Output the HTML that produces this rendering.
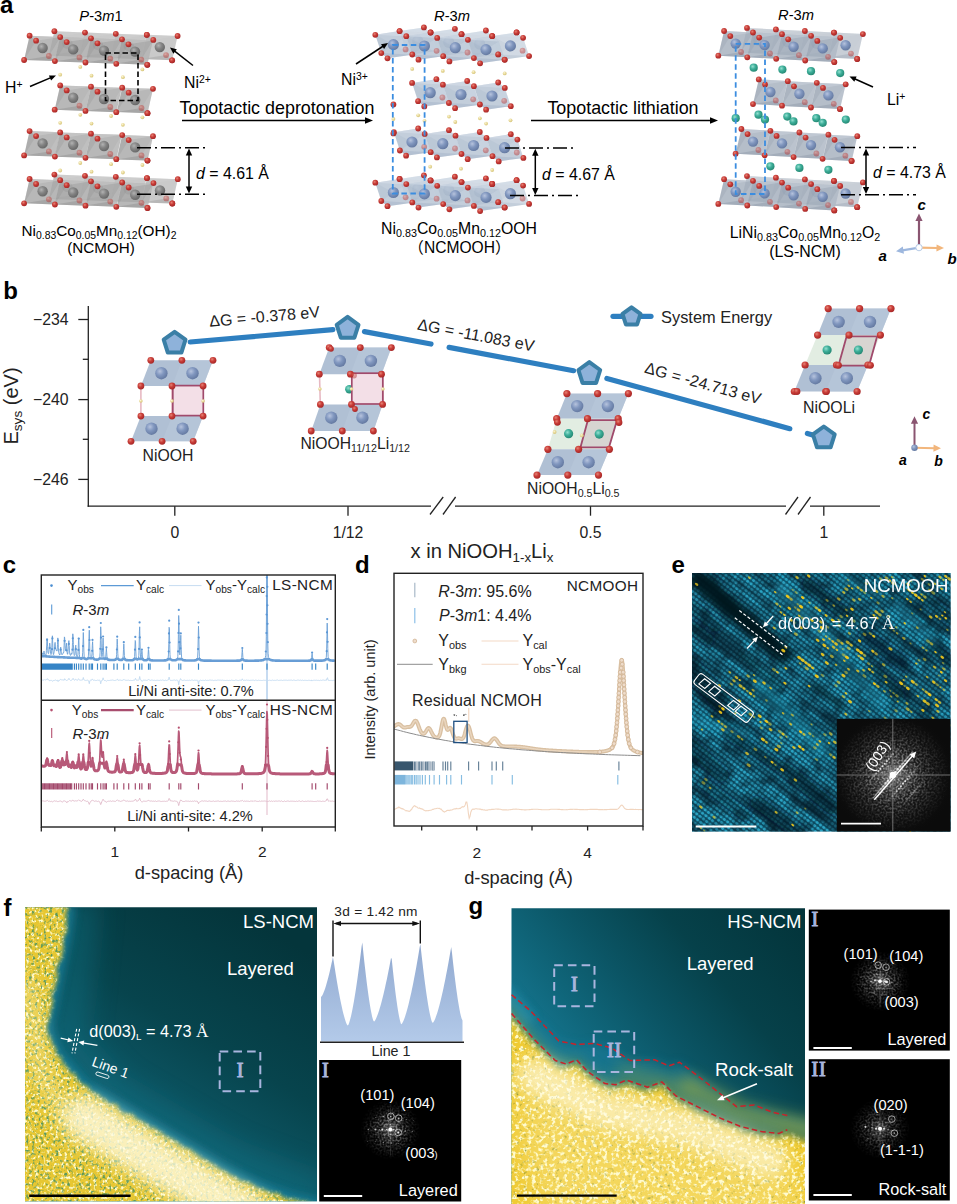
<!DOCTYPE html><html><head><meta charset="utf-8"><title>figure</title>
<style>html,body{margin:0;padding:0;background:#fff}svg{display:block}text{font-family:'Liberation Sans', sans-serif}</style></head><body>
<svg width="957" height="1204" viewBox="0 0 957 1204">
<rect width="957" height="1204" fill="#fff"/>
<defs>
<radialGradient id="gNi1" cx="38%" cy="35%" r="70%"><stop offset="0" stop-color="#b2b2b2"/><stop offset=".45" stop-color="#858585"/><stop offset="1" stop-color="#646464"/></radialGradient>
<radialGradient id="gNi2" cx="38%" cy="35%" r="70%"><stop offset="0" stop-color="#b6c3dd"/><stop offset=".45" stop-color="#8197bf"/><stop offset="1" stop-color="#61769e"/></radialGradient>
<radialGradient id="gO" cx="38%" cy="35%" r="70%"><stop offset="0" stop-color="#e58476"/><stop offset=".45" stop-color="#c93d38"/><stop offset="1" stop-color="#a32525"/></radialGradient>
<radialGradient id="gH" cx="38%" cy="35%" r="70%"><stop offset="0" stop-color="#fbf5d8"/><stop offset=".45" stop-color="#eadc9c"/><stop offset="1" stop-color="#d3c27a"/></radialGradient>
<radialGradient id="gLi" cx="38%" cy="35%" r="70%"><stop offset="0" stop-color="#93e0d0"/><stop offset=".45" stop-color="#3dae99"/><stop offset="1" stop-color="#22846f"/></radialGradient>
</defs>
<g id="panel-a">
<text x="0" y="13.2" font-size="24" font-weight="bold" >a</text>
<polygon points="54.4,31.2 85.2,32.4 79.7,56.7 48.9,55.5" fill="#a6a6a6" opacity="0.6"/>
<polygon points="54.4,31.2 85.2,32.4 60.9,36.2" fill="#d4d4d4" opacity="0.33"/>
<polygon points="48.9,55.5 79.7,56.7 73.7,51.5" fill="#7e7e7e" opacity="0.24"/>
<polygon points="54.4,31.2 48.9,55.5 60.9,36.2" fill="#7e7e7e" opacity="0.132"/>
<polygon points="85.2,32.4 79.7,56.7 73.7,51.5" fill="#d4d4d4" opacity="0.18"/>
<polygon points="85,32.6 115.8,33.8 110.3,58.1 79.5,56.9" fill="#a6a6a6" opacity="0.6"/>
<polygon points="85,32.6 115.8,33.8 91.5,37.6" fill="#d4d4d4" opacity="0.33"/>
<polygon points="79.5,56.9 110.3,58.1 104.3,52.9" fill="#7e7e7e" opacity="0.24"/>
<polygon points="85,32.6 79.5,56.9 91.5,37.6" fill="#7e7e7e" opacity="0.132"/>
<polygon points="115.8,33.8 110.3,58.1 104.3,52.9" fill="#d4d4d4" opacity="0.18"/>
<polygon points="115.8,33.8 146.6,35 141.1,59.3 110.3,58.1" fill="#a6a6a6" opacity="0.6"/>
<polygon points="115.8,33.8 146.6,35 122.3,38.9" fill="#d4d4d4" opacity="0.33"/>
<polygon points="110.3,58.1 141.1,59.3 135.1,54.1" fill="#7e7e7e" opacity="0.24"/>
<polygon points="115.8,33.8 110.3,58.1 122.3,38.9" fill="#7e7e7e" opacity="0.132"/>
<polygon points="146.6,35 141.1,59.3 135.1,54.1" fill="#d4d4d4" opacity="0.18"/>
<polygon points="146.8,34.8 177.6,36 172.1,60.3 141.3,59.1" fill="#a6a6a6" opacity="0.6"/>
<polygon points="146.8,34.8 177.6,36 153.3,39.9" fill="#d4d4d4" opacity="0.33"/>
<polygon points="141.3,59.1 172.1,60.3 166.1,55.1" fill="#7e7e7e" opacity="0.24"/>
<polygon points="146.8,34.8 141.3,59.1 153.3,39.9" fill="#7e7e7e" opacity="0.132"/>
<polygon points="177.6,36 172.1,60.3 166.1,55.1" fill="#d4d4d4" opacity="0.18"/>
<circle cx="67.4" cy="43.5" r="5.2" fill="url(#gNi1)" opacity=".5"/>
<circle cx="98" cy="44.9" r="5.2" fill="url(#gNi1)" opacity=".5"/>
<circle cx="128.8" cy="46.1" r="5.2" fill="url(#gNi1)" opacity=".5"/>
<polygon points="29.6,35.7 60.4,36.9 54.9,61.1 24.1,60" fill="#a6a6a6" opacity="0.8"/>
<polygon points="29.6,35.7 60.4,36.9 36.1,40.7" fill="#d4d4d4" opacity="0.44000000000000006"/>
<polygon points="24.1,60 54.9,61.1 48.9,56" fill="#7e7e7e" opacity="0.32000000000000006"/>
<polygon points="29.6,35.7 24.1,60 36.1,40.7" fill="#7e7e7e" opacity="0.17600000000000002"/>
<polygon points="60.4,36.9 54.9,61.1 48.9,56" fill="#d4d4d4" opacity="0.24"/>
<polygon points="60.2,37.1 91,38.2 85.5,62.5 54.7,61.4" fill="#a6a6a6" opacity="0.8"/>
<polygon points="60.2,37.1 91,38.2 66.7,42.1" fill="#d4d4d4" opacity="0.44000000000000006"/>
<polygon points="54.7,61.4 85.5,62.5 79.5,57.4" fill="#7e7e7e" opacity="0.32000000000000006"/>
<polygon points="60.2,37.1 54.7,61.4 66.7,42.1" fill="#7e7e7e" opacity="0.17600000000000002"/>
<polygon points="91,38.2 85.5,62.5 79.5,57.4" fill="#d4d4d4" opacity="0.24"/>
<polygon points="91,38.3 121.8,39.5 116.3,63.8 85.5,62.6" fill="#a6a6a6" opacity="0.8"/>
<polygon points="91,38.3 121.8,39.5 97.5,43.3" fill="#d4d4d4" opacity="0.44000000000000006"/>
<polygon points="85.5,62.6 116.3,63.8 110.3,58.6" fill="#7e7e7e" opacity="0.32000000000000006"/>
<polygon points="91,38.3 85.5,62.6 97.5,43.3" fill="#7e7e7e" opacity="0.17600000000000002"/>
<polygon points="121.8,39.5 116.3,63.8 110.3,58.6" fill="#d4d4d4" opacity="0.24"/>
<polygon points="122,39.3 152.8,40.5 147.3,64.8 116.5,63.6" fill="#a6a6a6" opacity="0.8"/>
<polygon points="122,39.3 152.8,40.5 128.5,44.3" fill="#d4d4d4" opacity="0.44000000000000006"/>
<polygon points="116.5,63.6 147.3,64.8 141.3,59.6" fill="#7e7e7e" opacity="0.32000000000000006"/>
<polygon points="122,39.3 116.5,63.6 128.5,44.3" fill="#7e7e7e" opacity="0.17600000000000002"/>
<polygon points="152.8,40.5 147.3,64.8 141.3,59.6" fill="#d4d4d4" opacity="0.24"/>
<circle cx="48.9" cy="56" r="2.9" fill="url(#gO)" opacity=".45"/>
<circle cx="79.5" cy="57.4" r="2.9" fill="url(#gO)" opacity=".45"/>
<circle cx="110.3" cy="58.6" r="2.9" fill="url(#gO)" opacity=".45"/>
<circle cx="141.3" cy="59.6" r="2.9" fill="url(#gO)" opacity=".45"/>
<circle cx="166.1" cy="55.1" r="2.9" fill="url(#gO)" opacity=".45"/>
<circle cx="42.6" cy="48" r="5.2" fill="url(#gNi1)" />
<circle cx="73.2" cy="49.4" r="5.2" fill="url(#gNi1)" />
<circle cx="104" cy="50.6" r="5.2" fill="url(#gNi1)" />
<circle cx="135" cy="51.6" r="5.2" fill="url(#gNi1)" />
<circle cx="159.8" cy="47.1" r="5.2" fill="url(#gNi1)" />
<circle cx="54.4" cy="31.2" r="2.9" fill="url(#gO)" />
<circle cx="85" cy="32.6" r="2.9" fill="url(#gO)" />
<circle cx="115.8" cy="33.8" r="2.9" fill="url(#gO)" />
<circle cx="146.8" cy="34.8" r="2.9" fill="url(#gO)" />
<circle cx="146.8" cy="34.8" r="2.9" fill="url(#gO)" />
<circle cx="153.3" cy="39.9" r="2.9" fill="url(#gO)" />
<circle cx="172.1" cy="60.3" r="2.9" fill="url(#gO)" />
<circle cx="177.6" cy="36" r="2.9" fill="url(#gO)" />
<circle cx="172.1" cy="60.3" r="2.9" fill="url(#gO)" />
<circle cx="29.6" cy="35.7" r="2.9" fill="url(#gO)" />
<circle cx="36.1" cy="40.7" r="2.9" fill="url(#gO)" />
<circle cx="54.9" cy="61.1" r="2.9" fill="url(#gO)" />
<circle cx="60.2" cy="37.1" r="2.9" fill="url(#gO)" />
<circle cx="66.7" cy="42.1" r="2.9" fill="url(#gO)" />
<circle cx="85.5" cy="62.5" r="2.9" fill="url(#gO)" />
<circle cx="91" cy="38.3" r="2.9" fill="url(#gO)" />
<circle cx="97.5" cy="43.3" r="2.9" fill="url(#gO)" />
<circle cx="116.3" cy="63.8" r="2.9" fill="url(#gO)" />
<circle cx="122" cy="39.3" r="2.9" fill="url(#gO)" />
<circle cx="128.5" cy="44.3" r="2.9" fill="url(#gO)" />
<circle cx="147.3" cy="64.8" r="2.9" fill="url(#gO)" />
<circle cx="24.1" cy="60" r="2.9" fill="url(#gO)" />
<circle cx="147.3" cy="64.8" r="2.9" fill="url(#gO)" />
<polygon points="60.2,85.4 91,86.5 85.5,110.9 54.7,109.7" fill="#a6a6a6" opacity="0.8"/>
<polygon points="60.2,85.4 91,86.5 66.7,90.4" fill="#d4d4d4" opacity="0.44000000000000006"/>
<polygon points="54.7,109.7 85.5,110.9 79.5,105.7" fill="#7e7e7e" opacity="0.32000000000000006"/>
<polygon points="60.2,85.4 54.7,109.7 66.7,90.4" fill="#7e7e7e" opacity="0.17600000000000002"/>
<polygon points="91,86.5 85.5,110.9 79.5,105.7" fill="#d4d4d4" opacity="0.24"/>
<polygon points="91,86.7 121.8,87.8 116.3,112.2 85.5,111" fill="#a6a6a6" opacity="0.8"/>
<polygon points="91,86.7 121.8,87.8 97.5,91.7" fill="#d4d4d4" opacity="0.44000000000000006"/>
<polygon points="85.5,111 116.3,112.2 110.3,107" fill="#7e7e7e" opacity="0.32000000000000006"/>
<polygon points="91,86.7 85.5,111 97.5,91.7" fill="#7e7e7e" opacity="0.17600000000000002"/>
<polygon points="121.8,87.8 116.3,112.2 110.3,107" fill="#d4d4d4" opacity="0.24"/>
<polygon points="122.2,87.7 153,88.8 147.5,113.2 116.7,112" fill="#a6a6a6" opacity="0.8"/>
<polygon points="122.2,87.7 153,88.8 128.7,92.7" fill="#d4d4d4" opacity="0.44000000000000006"/>
<polygon points="116.7,112 147.5,113.2 141.5,108" fill="#7e7e7e" opacity="0.32000000000000006"/>
<polygon points="122.2,87.7 116.7,112 128.7,92.7" fill="#7e7e7e" opacity="0.17600000000000002"/>
<polygon points="153,88.8 147.5,113.2 141.5,108" fill="#d4d4d4" opacity="0.24"/>
<circle cx="79.5" cy="105.7" r="2.9" fill="url(#gO)" opacity=".45"/>
<circle cx="110.3" cy="107" r="2.9" fill="url(#gO)" opacity=".45"/>
<circle cx="141.5" cy="108" r="2.9" fill="url(#gO)" opacity=".45"/>
<circle cx="73.2" cy="97.7" r="5.2" fill="url(#gNi1)" />
<circle cx="104" cy="99" r="5.2" fill="url(#gNi1)" />
<circle cx="135.2" cy="100" r="5.2" fill="url(#gNi1)" />
<circle cx="60.2" cy="85.4" r="2.9" fill="url(#gO)" />
<circle cx="66.7" cy="90.4" r="2.9" fill="url(#gO)" />
<circle cx="85.5" cy="110.9" r="2.9" fill="url(#gO)" />
<circle cx="91" cy="86.7" r="2.9" fill="url(#gO)" />
<circle cx="97.5" cy="91.7" r="2.9" fill="url(#gO)" />
<circle cx="116.3" cy="112.2" r="2.9" fill="url(#gO)" />
<circle cx="122.2" cy="87.7" r="2.9" fill="url(#gO)" />
<circle cx="128.7" cy="92.7" r="2.9" fill="url(#gO)" />
<circle cx="147.5" cy="113.2" r="2.9" fill="url(#gO)" />
<circle cx="54.7" cy="109.7" r="2.9" fill="url(#gO)" />
<circle cx="153" cy="88.8" r="2.9" fill="url(#gO)" />
<circle cx="147.5" cy="113.2" r="2.9" fill="url(#gO)" />
<polygon points="29.6,131.1 60.4,132.2 54.9,156.6 24.1,155.4" fill="#a6a6a6" opacity="0.8"/>
<polygon points="29.6,131.1 60.4,132.2 36.1,136.1" fill="#d4d4d4" opacity="0.44000000000000006"/>
<polygon points="24.1,155.4 54.9,156.6 48.9,151.4" fill="#7e7e7e" opacity="0.32000000000000006"/>
<polygon points="29.6,131.1 24.1,155.4 36.1,136.1" fill="#7e7e7e" opacity="0.17600000000000002"/>
<polygon points="60.4,132.2 54.9,156.6 48.9,151.4" fill="#d4d4d4" opacity="0.24"/>
<polygon points="60.2,132.4 91,133.5 85.5,157.8 54.7,156.7" fill="#a6a6a6" opacity="0.8"/>
<polygon points="60.2,132.4 91,133.5 66.7,137.4" fill="#d4d4d4" opacity="0.44000000000000006"/>
<polygon points="54.7,156.7 85.5,157.8 79.5,152.7" fill="#7e7e7e" opacity="0.32000000000000006"/>
<polygon points="60.2,132.4 54.7,156.7 66.7,137.4" fill="#7e7e7e" opacity="0.17600000000000002"/>
<polygon points="91,133.5 85.5,157.8 79.5,152.7" fill="#d4d4d4" opacity="0.24"/>
<polygon points="91,133.7 121.8,134.8 116.3,159.2 85.5,158" fill="#a6a6a6" opacity="0.8"/>
<polygon points="91,133.7 121.8,134.8 97.5,138.7" fill="#d4d4d4" opacity="0.44000000000000006"/>
<polygon points="85.5,158 116.3,159.2 110.3,154" fill="#7e7e7e" opacity="0.32000000000000006"/>
<polygon points="91,133.7 85.5,158 97.5,138.7" fill="#7e7e7e" opacity="0.17600000000000002"/>
<polygon points="121.8,134.8 116.3,159.2 110.3,154" fill="#d4d4d4" opacity="0.24"/>
<polygon points="122.2,135.1 153,136.2 147.5,160.6 116.7,159.4" fill="#a6a6a6" opacity="0.8"/>
<polygon points="122.2,135.1 153,136.2 128.7,140.1" fill="#d4d4d4" opacity="0.44000000000000006"/>
<polygon points="116.7,159.4 147.5,160.6 141.5,155.4" fill="#7e7e7e" opacity="0.32000000000000006"/>
<polygon points="122.2,135.1 116.7,159.4 128.7,140.1" fill="#7e7e7e" opacity="0.17600000000000002"/>
<polygon points="153,136.2 147.5,160.6 141.5,155.4" fill="#d4d4d4" opacity="0.24"/>
<circle cx="48.9" cy="151.4" r="2.9" fill="url(#gO)" opacity=".45"/>
<circle cx="79.5" cy="152.7" r="2.9" fill="url(#gO)" opacity=".45"/>
<circle cx="110.3" cy="154" r="2.9" fill="url(#gO)" opacity=".45"/>
<circle cx="141.5" cy="155.4" r="2.9" fill="url(#gO)" opacity=".45"/>
<circle cx="42.6" cy="143.4" r="5.2" fill="url(#gNi1)" />
<circle cx="73.2" cy="144.7" r="5.2" fill="url(#gNi1)" />
<circle cx="104" cy="146" r="5.2" fill="url(#gNi1)" />
<circle cx="135.2" cy="147.4" r="5.2" fill="url(#gNi1)" />
<circle cx="29.6" cy="131.1" r="2.9" fill="url(#gO)" />
<circle cx="36.1" cy="136.1" r="2.9" fill="url(#gO)" />
<circle cx="54.9" cy="156.6" r="2.9" fill="url(#gO)" />
<circle cx="60.2" cy="132.4" r="2.9" fill="url(#gO)" />
<circle cx="66.7" cy="137.4" r="2.9" fill="url(#gO)" />
<circle cx="85.5" cy="157.8" r="2.9" fill="url(#gO)" />
<circle cx="91" cy="133.7" r="2.9" fill="url(#gO)" />
<circle cx="97.5" cy="138.7" r="2.9" fill="url(#gO)" />
<circle cx="116.3" cy="159.2" r="2.9" fill="url(#gO)" />
<circle cx="122.2" cy="135.1" r="2.9" fill="url(#gO)" />
<circle cx="128.7" cy="140.1" r="2.9" fill="url(#gO)" />
<circle cx="147.5" cy="160.6" r="2.9" fill="url(#gO)" />
<circle cx="24.1" cy="155.4" r="2.9" fill="url(#gO)" />
<circle cx="153" cy="136.2" r="2.9" fill="url(#gO)" />
<circle cx="147.5" cy="160.6" r="2.9" fill="url(#gO)" />
<polygon points="54.4,174.6 85.2,175.7 79.7,200 48.9,198.9" fill="#a6a6a6" opacity="0.6"/>
<polygon points="54.4,174.6 85.2,175.7 60.9,179.6" fill="#d4d4d4" opacity="0.33"/>
<polygon points="48.9,198.9 79.7,200 73.7,194.9" fill="#7e7e7e" opacity="0.24"/>
<polygon points="54.4,174.6 48.9,198.9 60.9,179.6" fill="#7e7e7e" opacity="0.132"/>
<polygon points="85.2,175.7 79.7,200 73.7,194.9" fill="#d4d4d4" opacity="0.18"/>
<polygon points="85,175.8 115.8,176.9 110.3,201.2 79.5,200.1" fill="#a6a6a6" opacity="0.6"/>
<polygon points="85,175.8 115.8,176.9 91.5,180.8" fill="#d4d4d4" opacity="0.33"/>
<polygon points="79.5,200.1 110.3,201.2 104.3,196.1" fill="#7e7e7e" opacity="0.24"/>
<polygon points="85,175.8 79.5,200.1 91.5,180.8" fill="#7e7e7e" opacity="0.132"/>
<polygon points="115.8,176.9 110.3,201.2 104.3,196.1" fill="#d4d4d4" opacity="0.18"/>
<polygon points="115.8,176.8 146.6,178 141.1,202.3 110.3,201.2" fill="#a6a6a6" opacity="0.6"/>
<polygon points="115.8,176.8 146.6,178 122.3,181.8" fill="#d4d4d4" opacity="0.33"/>
<polygon points="110.3,201.2 141.1,202.3 135.1,197.2" fill="#7e7e7e" opacity="0.24"/>
<polygon points="115.8,176.8 110.3,201.2 122.3,181.8" fill="#7e7e7e" opacity="0.132"/>
<polygon points="146.6,178 141.1,202.3 135.1,197.2" fill="#d4d4d4" opacity="0.18"/>
<polygon points="147,178.1 177.8,179.2 172.3,203.5 141.5,202.4" fill="#a6a6a6" opacity="0.6"/>
<polygon points="147,178.1 177.8,179.2 153.5,183.1" fill="#d4d4d4" opacity="0.33"/>
<polygon points="141.5,202.4 172.3,203.5 166.3,198.4" fill="#7e7e7e" opacity="0.24"/>
<polygon points="147,178.1 141.5,202.4 153.5,183.1" fill="#7e7e7e" opacity="0.132"/>
<polygon points="177.8,179.2 172.3,203.5 166.3,198.4" fill="#d4d4d4" opacity="0.18"/>
<circle cx="67.4" cy="186.9" r="5.2" fill="url(#gNi1)" opacity=".5"/>
<circle cx="98" cy="188.1" r="5.2" fill="url(#gNi1)" opacity=".5"/>
<circle cx="128.8" cy="189.2" r="5.2" fill="url(#gNi1)" opacity=".5"/>
<polygon points="29.6,179 60.4,180.2 54.9,204.5 24.1,203.3" fill="#a6a6a6" opacity="0.8"/>
<polygon points="29.6,179 60.4,180.2 36.1,184" fill="#d4d4d4" opacity="0.44000000000000006"/>
<polygon points="24.1,203.3 54.9,204.5 48.9,199.3" fill="#7e7e7e" opacity="0.32000000000000006"/>
<polygon points="29.6,179 24.1,203.3 36.1,184" fill="#7e7e7e" opacity="0.17600000000000002"/>
<polygon points="60.4,180.2 54.9,204.5 48.9,199.3" fill="#d4d4d4" opacity="0.24"/>
<polygon points="60.2,180.2 91,181.3 85.5,205.7 54.7,204.5" fill="#a6a6a6" opacity="0.8"/>
<polygon points="60.2,180.2 91,181.3 66.7,185.2" fill="#d4d4d4" opacity="0.44000000000000006"/>
<polygon points="54.7,204.5 85.5,205.7 79.5,200.5" fill="#7e7e7e" opacity="0.32000000000000006"/>
<polygon points="60.2,180.2 54.7,204.5 66.7,185.2" fill="#7e7e7e" opacity="0.17600000000000002"/>
<polygon points="91,181.3 85.5,205.7 79.5,200.5" fill="#d4d4d4" opacity="0.24"/>
<polygon points="91,181.3 121.8,182.4 116.3,206.8 85.5,205.6" fill="#a6a6a6" opacity="0.8"/>
<polygon points="91,181.3 121.8,182.4 97.5,186.3" fill="#d4d4d4" opacity="0.44000000000000006"/>
<polygon points="85.5,205.6 116.3,206.8 110.3,201.6" fill="#7e7e7e" opacity="0.32000000000000006"/>
<polygon points="91,181.3 85.5,205.6 97.5,186.3" fill="#7e7e7e" opacity="0.17600000000000002"/>
<polygon points="121.8,182.4 116.3,206.8 110.3,201.6" fill="#d4d4d4" opacity="0.24"/>
<polygon points="122.2,182.5 153,183.7 147.5,208 116.7,206.8" fill="#a6a6a6" opacity="0.8"/>
<polygon points="122.2,182.5 153,183.7 128.7,187.5" fill="#d4d4d4" opacity="0.44000000000000006"/>
<polygon points="116.7,206.8 147.5,208 141.5,202.8" fill="#7e7e7e" opacity="0.32000000000000006"/>
<polygon points="122.2,182.5 116.7,206.8 128.7,187.5" fill="#7e7e7e" opacity="0.17600000000000002"/>
<polygon points="153,183.7 147.5,208 141.5,202.8" fill="#d4d4d4" opacity="0.24"/>
<circle cx="48.9" cy="199.3" r="2.9" fill="url(#gO)" opacity=".45"/>
<circle cx="79.5" cy="200.5" r="2.9" fill="url(#gO)" opacity=".45"/>
<circle cx="110.3" cy="201.6" r="2.9" fill="url(#gO)" opacity=".45"/>
<circle cx="141.5" cy="202.8" r="2.9" fill="url(#gO)" opacity=".45"/>
<circle cx="166.3" cy="198.4" r="2.9" fill="url(#gO)" opacity=".45"/>
<circle cx="42.6" cy="191.3" r="5.2" fill="url(#gNi1)" />
<circle cx="73.2" cy="192.5" r="5.2" fill="url(#gNi1)" />
<circle cx="104" cy="193.6" r="5.2" fill="url(#gNi1)" />
<circle cx="135.2" cy="194.8" r="5.2" fill="url(#gNi1)" />
<circle cx="160" cy="190.4" r="5.2" fill="url(#gNi1)" />
<circle cx="54.4" cy="174.6" r="2.9" fill="url(#gO)" />
<circle cx="85" cy="175.8" r="2.9" fill="url(#gO)" />
<circle cx="115.8" cy="176.8" r="2.9" fill="url(#gO)" />
<circle cx="147" cy="178.1" r="2.9" fill="url(#gO)" />
<circle cx="147" cy="178.1" r="2.9" fill="url(#gO)" />
<circle cx="153.5" cy="183.1" r="2.9" fill="url(#gO)" />
<circle cx="172.3" cy="203.5" r="2.9" fill="url(#gO)" />
<circle cx="177.8" cy="179.2" r="2.9" fill="url(#gO)" />
<circle cx="172.3" cy="203.5" r="2.9" fill="url(#gO)" />
<circle cx="29.6" cy="179" r="2.9" fill="url(#gO)" />
<circle cx="36.1" cy="184" r="2.9" fill="url(#gO)" />
<circle cx="54.9" cy="204.5" r="2.9" fill="url(#gO)" />
<circle cx="60.2" cy="180.2" r="2.9" fill="url(#gO)" />
<circle cx="66.7" cy="185.2" r="2.9" fill="url(#gO)" />
<circle cx="85.5" cy="205.7" r="2.9" fill="url(#gO)" />
<circle cx="91" cy="181.3" r="2.9" fill="url(#gO)" />
<circle cx="97.5" cy="186.3" r="2.9" fill="url(#gO)" />
<circle cx="116.3" cy="206.8" r="2.9" fill="url(#gO)" />
<circle cx="122.2" cy="182.5" r="2.9" fill="url(#gO)" />
<circle cx="128.7" cy="187.5" r="2.9" fill="url(#gO)" />
<circle cx="147.5" cy="208" r="2.9" fill="url(#gO)" />
<circle cx="24.1" cy="203.3" r="2.9" fill="url(#gO)" />
<circle cx="147.5" cy="208" r="2.9" fill="url(#gO)" />
<circle cx="80.3" cy="66.9" r="1.9" fill="url(#gH)" />
<circle cx="142.4" cy="69.4" r="1.9" fill="url(#gH)" />
<circle cx="60.2" cy="74.7" r="1.9" fill="url(#gH)" />
<circle cx="91.5" cy="75.7" r="1.9" fill="url(#gH)" />
<circle cx="122.9" cy="77.2" r="1.9" fill="url(#gH)" />
<circle cx="80.3" cy="114.8" r="1.9" fill="url(#gH)" />
<circle cx="111.1" cy="116" r="1.9" fill="url(#gH)" />
<circle cx="142.4" cy="117.3" r="1.9" fill="url(#gH)" />
<circle cx="60.2" cy="122.8" r="1.9" fill="url(#gH)" />
<circle cx="91.5" cy="123.6" r="1.9" fill="url(#gH)" />
<circle cx="122.9" cy="124.8" r="1.9" fill="url(#gH)" />
<circle cx="80.3" cy="163" r="1.9" fill="url(#gH)" />
<circle cx="111.1" cy="164.2" r="1.9" fill="url(#gH)" />
<circle cx="142.4" cy="165" r="1.9" fill="url(#gH)" />
<circle cx="60.2" cy="170.5" r="1.9" fill="url(#gH)" />
<circle cx="91.5" cy="171.7" r="1.9" fill="url(#gH)" />
<circle cx="122.9" cy="172.5" r="1.9" fill="url(#gH)" />
<rect x="105.5" y="53" width="32.5" height="47.5" fill="none" stroke="#000" stroke-width="1.6" stroke-dasharray="5.5 3"/>
<text x="101" y="20.8" font-size="14.7" text-anchor="middle" ><tspan font-style="italic">P</tspan>-3<tspan font-style="italic">m</tspan>1</text>
<text x="5" y="93" font-size="15.8" >H<tspan baseline-shift="5.5" font-size="66%">+</tspan></text>
<line x1="30" y1="86.5" x2="50.9" y2="77.6" stroke="#000" stroke-width="1.5" />
<polygon points="56,75.5 51.1,80.6 48.9,75.5" fill="#000" />
<text x="184" y="87.5" font-size="15.8" >Ni<tspan baseline-shift="5.5" font-size="66%">2+</tspan></text>
<line x1="193" y1="65.5" x2="174.3" y2="50.9" stroke="#000" stroke-width="1.5" />
<polygon points="170,47.5 176.8,49.3 173.4,53.7" fill="#000" />
<line x1="137" y1="147.7" x2="208" y2="147.7" stroke="#000" stroke-width="1.5" stroke-dasharray="14 4 2 4"/>
<line x1="137" y1="194.2" x2="208" y2="194.2" stroke="#000" stroke-width="1.5" stroke-dasharray="14 4 2 4"/>
<line x1="189" y1="153.5" x2="189" y2="188.5" stroke="#000" stroke-width="1.5" />
<polygon points="189,148.5 185.8,155.5 192.2,155.5" fill="#000" />
<polygon points="189,193.5 185.8,186.5 192.2,186.5" fill="#000" />
<text x="196" y="179" font-size="15.9" ><tspan font-style="italic">d</tspan> = 4.61 Å</text>
<text x="99" y="236" font-size="15.3" text-anchor="middle" >Ni<tspan baseline-shift="-3" font-size="68%">0.83</tspan>Co<tspan baseline-shift="-3" font-size="68%">0.05</tspan>Mn<tspan baseline-shift="-3" font-size="68%">0.12</tspan>(OH)<tspan baseline-shift="-3" font-size="68%">2</tspan></text>
<text x="101" y="253" font-size="15.2" text-anchor="middle" >(NCMOH)</text>
<text x="277" y="114" font-size="17.9" text-anchor="middle" >Topotactic deprotonation</text>
<line x1="182" y1="120.5" x2="366" y2="120.5" stroke="#000" stroke-width="1.6" />
<polygon points="373,120.5 365,123.7 365,117.3" fill="#000" />
<polygon points="399.6,31.1 423.9,27.4 430.5,32.8 436.5,51.1 411.9,54.6 405.6,49.4" fill="#b4c2d2" opacity="0.6"/>
<polygon points="399.6,31.1 423.9,27.4 430.5,32.8" fill="#d9e2ec" opacity="0.36"/>
<polygon points="405.6,49.4 411.9,54.6 436.5,51.1" fill="#8fa2ba" opacity="0.21"/>
<polygon points="399.6,31.1 405.6,49.4 417.8,40.9" fill="#8fa2ba" opacity="0.108"/>
<polygon points="430.5,32.8 436.5,51.1 417.8,40.9" fill="#d9e2ec" opacity="0.21"/>
<polygon points="430.6,32.5 454.9,28.8 461.5,34.2 467.5,52.5 442.9,56 436.6,50.8" fill="#b4c2d2" opacity="0.6"/>
<polygon points="430.6,32.5 454.9,28.8 461.5,34.2" fill="#d9e2ec" opacity="0.36"/>
<polygon points="436.6,50.8 442.9,56 467.5,52.5" fill="#8fa2ba" opacity="0.21"/>
<polygon points="430.6,32.5 436.6,50.8 448.8,42.3" fill="#8fa2ba" opacity="0.108"/>
<polygon points="461.5,34.2 467.5,52.5 448.8,42.3" fill="#d9e2ec" opacity="0.21"/>
<polygon points="461.6,34.2 485.9,30.5 492.4,35.9 498.4,54.2 473.8,57.7 467.6,52.5" fill="#b4c2d2" opacity="0.6"/>
<polygon points="461.6,34.2 485.9,30.5 492.4,35.9" fill="#d9e2ec" opacity="0.36"/>
<polygon points="467.6,52.5 473.8,57.7 498.4,54.2" fill="#8fa2ba" opacity="0.21"/>
<polygon points="461.6,34.2 467.6,52.5 479.7,44" fill="#8fa2ba" opacity="0.108"/>
<polygon points="492.4,35.9 498.4,54.2 479.7,44" fill="#d9e2ec" opacity="0.21"/>
<polygon points="492.2,36.1 516.6,32.4 523.1,37.8 529.1,56.1 504.5,59.6 498.2,54.4" fill="#b4c2d2" opacity="0.6"/>
<polygon points="492.2,36.1 516.6,32.4 523.1,37.8" fill="#d9e2ec" opacity="0.36"/>
<polygon points="498.2,54.4 504.5,59.6 529.1,56.1" fill="#8fa2ba" opacity="0.21"/>
<polygon points="492.2,36.1 498.2,54.4 510.4,45.9" fill="#8fa2ba" opacity="0.108"/>
<polygon points="523.1,37.8 529.1,56.1 510.4,45.9" fill="#d9e2ec" opacity="0.21"/>
<circle cx="417.8" cy="40.9" r="5.6" fill="url(#gNi2)" opacity=".5"/>
<circle cx="448.8" cy="42.3" r="5.6" fill="url(#gNi2)" opacity=".5"/>
<circle cx="479.7" cy="44" r="5.6" fill="url(#gNi2)" opacity=".5"/>
<polygon points="375.3,34.8 399.6,31.1 406.1,36.5 412.1,54.8 387.5,58.3 381.3,53.1" fill="#b4c2d2" opacity="0.8"/>
<polygon points="375.3,34.8 399.6,31.1 406.1,36.5" fill="#d9e2ec" opacity="0.48"/>
<polygon points="381.3,53.1 387.5,58.3 412.1,54.8" fill="#8fa2ba" opacity="0.27999999999999997"/>
<polygon points="375.3,34.8 381.3,53.1 393.4,44.6" fill="#8fa2ba" opacity="0.144"/>
<polygon points="406.1,36.5 412.1,54.8 393.4,44.6" fill="#d9e2ec" opacity="0.27999999999999997"/>
<polygon points="406.3,36.2 430.6,32.5 437.1,37.9 443.1,56.2 418.5,59.7 412.3,54.5" fill="#b4c2d2" opacity="0.8"/>
<polygon points="406.3,36.2 430.6,32.5 437.1,37.9" fill="#d9e2ec" opacity="0.48"/>
<polygon points="412.3,54.5 418.5,59.7 443.1,56.2" fill="#8fa2ba" opacity="0.27999999999999997"/>
<polygon points="406.3,36.2 412.3,54.5 424.4,46" fill="#8fa2ba" opacity="0.144"/>
<polygon points="437.1,37.9 443.1,56.2 424.4,46" fill="#d9e2ec" opacity="0.27999999999999997"/>
<polygon points="437.2,37.9 461.5,34.2 468.1,39.6 474.1,57.9 449.4,61.4 443.2,56.2" fill="#b4c2d2" opacity="0.8"/>
<polygon points="437.2,37.9 461.5,34.2 468.1,39.6" fill="#d9e2ec" opacity="0.48"/>
<polygon points="443.2,56.2 449.4,61.4 474.1,57.9" fill="#8fa2ba" opacity="0.27999999999999997"/>
<polygon points="437.2,37.9 443.2,56.2 455.3,47.7" fill="#8fa2ba" opacity="0.144"/>
<polygon points="468.1,39.6 474.1,57.9 455.3,47.7" fill="#d9e2ec" opacity="0.27999999999999997"/>
<polygon points="467.9,39.8 492.2,36.1 498.8,41.5 504.8,59.8 480.1,63.3 473.9,58.1" fill="#b4c2d2" opacity="0.8"/>
<polygon points="467.9,39.8 492.2,36.1 498.8,41.5" fill="#d9e2ec" opacity="0.48"/>
<polygon points="473.9,58.1 480.1,63.3 504.8,59.8" fill="#8fa2ba" opacity="0.27999999999999997"/>
<polygon points="467.9,39.8 473.9,58.1 486,49.6" fill="#8fa2ba" opacity="0.144"/>
<polygon points="498.8,41.5 504.8,59.8 486,49.6" fill="#d9e2ec" opacity="0.27999999999999997"/>
<circle cx="405.6" cy="49.4" r="2.9" fill="url(#gO)" opacity=".45"/>
<circle cx="436.6" cy="50.8" r="2.9" fill="url(#gO)" opacity=".45"/>
<circle cx="467.5" cy="52.5" r="2.9" fill="url(#gO)" opacity=".45"/>
<circle cx="498.2" cy="54.4" r="2.9" fill="url(#gO)" opacity=".45"/>
<circle cx="522.6" cy="50.7" r="2.9" fill="url(#gO)" opacity=".45"/>
<circle cx="393.4" cy="44.6" r="5.6" fill="url(#gNi2)" />
<circle cx="424.4" cy="46" r="5.6" fill="url(#gNi2)" />
<circle cx="455.3" cy="47.7" r="5.6" fill="url(#gNi2)" />
<circle cx="486" cy="49.6" r="5.6" fill="url(#gNi2)" />
<circle cx="510.4" cy="45.9" r="5.6" fill="url(#gNi2)" />
<circle cx="399.6" cy="31.1" r="2.9" fill="url(#gO)" />
<circle cx="423.9" cy="27.4" r="2.9" fill="url(#gO)" />
<circle cx="430.6" cy="32.5" r="2.9" fill="url(#gO)" />
<circle cx="454.9" cy="28.8" r="2.9" fill="url(#gO)" />
<circle cx="461.6" cy="34.2" r="2.9" fill="url(#gO)" />
<circle cx="485.9" cy="30.5" r="2.9" fill="url(#gO)" />
<circle cx="492.2" cy="36.1" r="2.9" fill="url(#gO)" />
<circle cx="516.6" cy="32.4" r="2.9" fill="url(#gO)" />
<circle cx="492.2" cy="36.1" r="2.9" fill="url(#gO)" />
<circle cx="516.6" cy="32.4" r="2.9" fill="url(#gO)" />
<circle cx="504.5" cy="59.6" r="2.9" fill="url(#gO)" />
<circle cx="498.2" cy="54.4" r="2.9" fill="url(#gO)" />
<circle cx="523.1" cy="37.8" r="2.9" fill="url(#gO)" />
<circle cx="529.1" cy="56.1" r="2.9" fill="url(#gO)" />
<circle cx="375.3" cy="34.8" r="2.9" fill="url(#gO)" />
<circle cx="399.6" cy="31.1" r="2.9" fill="url(#gO)" />
<circle cx="387.5" cy="58.3" r="2.9" fill="url(#gO)" />
<circle cx="381.3" cy="53.1" r="2.9" fill="url(#gO)" />
<circle cx="406.3" cy="36.2" r="2.9" fill="url(#gO)" />
<circle cx="430.6" cy="32.5" r="2.9" fill="url(#gO)" />
<circle cx="418.5" cy="59.7" r="2.9" fill="url(#gO)" />
<circle cx="412.3" cy="54.5" r="2.9" fill="url(#gO)" />
<circle cx="437.2" cy="37.9" r="2.9" fill="url(#gO)" />
<circle cx="461.5" cy="34.2" r="2.9" fill="url(#gO)" />
<circle cx="449.4" cy="61.4" r="2.9" fill="url(#gO)" />
<circle cx="443.2" cy="56.2" r="2.9" fill="url(#gO)" />
<circle cx="467.9" cy="39.8" r="2.9" fill="url(#gO)" />
<circle cx="492.2" cy="36.1" r="2.9" fill="url(#gO)" />
<circle cx="480.1" cy="63.3" r="2.9" fill="url(#gO)" />
<circle cx="473.9" cy="58.1" r="2.9" fill="url(#gO)" />
<circle cx="504.8" cy="59.8" r="2.9" fill="url(#gO)" />
<polygon points="412.1,82.9 436.4,79.2 442.9,84.6 448.9,102.9 424.3,106.4 418.1,101.2" fill="#b4c2d2" opacity="0.8"/>
<polygon points="412.1,82.9 436.4,79.2 442.9,84.6" fill="#d9e2ec" opacity="0.48"/>
<polygon points="418.1,101.2 424.3,106.4 448.9,102.9" fill="#8fa2ba" opacity="0.27999999999999997"/>
<polygon points="412.1,82.9 418.1,101.2 430.2,92.7" fill="#8fa2ba" opacity="0.144"/>
<polygon points="442.9,84.6 448.9,102.9 430.2,92.7" fill="#d9e2ec" opacity="0.27999999999999997"/>
<polygon points="442.9,84.7 467.2,81 473.8,86.4 479.8,104.7 455.1,108.2 448.9,103" fill="#b4c2d2" opacity="0.8"/>
<polygon points="442.9,84.7 467.2,81 473.8,86.4" fill="#d9e2ec" opacity="0.48"/>
<polygon points="448.9,103 455.1,108.2 479.8,104.7" fill="#8fa2ba" opacity="0.27999999999999997"/>
<polygon points="442.9,84.7 448.9,103 461,94.5" fill="#8fa2ba" opacity="0.144"/>
<polygon points="473.8,86.4 479.8,104.7 461,94.5" fill="#d9e2ec" opacity="0.27999999999999997"/>
<polygon points="473.9,86.2 498.2,82.5 504.8,87.9 510.8,106.2 486.1,109.7 479.9,104.5" fill="#b4c2d2" opacity="0.8"/>
<polygon points="473.9,86.2 498.2,82.5 504.8,87.9" fill="#d9e2ec" opacity="0.48"/>
<polygon points="479.9,104.5 486.1,109.7 510.8,106.2" fill="#8fa2ba" opacity="0.27999999999999997"/>
<polygon points="473.9,86.2 479.9,104.5 492,96" fill="#8fa2ba" opacity="0.144"/>
<polygon points="504.8,87.9 510.8,106.2 492,96" fill="#d9e2ec" opacity="0.27999999999999997"/>
<circle cx="442.4" cy="97.5" r="2.9" fill="url(#gO)" opacity=".45"/>
<circle cx="473.2" cy="99.3" r="2.9" fill="url(#gO)" opacity=".45"/>
<circle cx="504.2" cy="100.8" r="2.9" fill="url(#gO)" opacity=".45"/>
<circle cx="430.2" cy="92.7" r="5.6" fill="url(#gNi2)" />
<circle cx="461" cy="94.5" r="5.6" fill="url(#gNi2)" />
<circle cx="492" cy="96" r="5.6" fill="url(#gNi2)" />
<circle cx="412.1" cy="82.9" r="2.9" fill="url(#gO)" />
<circle cx="436.4" cy="79.2" r="2.9" fill="url(#gO)" />
<circle cx="424.3" cy="106.4" r="2.9" fill="url(#gO)" />
<circle cx="418.1" cy="101.2" r="2.9" fill="url(#gO)" />
<circle cx="442.9" cy="84.7" r="2.9" fill="url(#gO)" />
<circle cx="467.2" cy="81" r="2.9" fill="url(#gO)" />
<circle cx="455.1" cy="108.2" r="2.9" fill="url(#gO)" />
<circle cx="448.9" cy="103" r="2.9" fill="url(#gO)" />
<circle cx="473.9" cy="86.2" r="2.9" fill="url(#gO)" />
<circle cx="498.2" cy="82.5" r="2.9" fill="url(#gO)" />
<circle cx="486.1" cy="109.7" r="2.9" fill="url(#gO)" />
<circle cx="479.9" cy="104.5" r="2.9" fill="url(#gO)" />
<circle cx="504.8" cy="87.9" r="2.9" fill="url(#gO)" />
<circle cx="510.8" cy="106.2" r="2.9" fill="url(#gO)" />
<polygon points="393.9,132.2 418.2,128.5 424.8,133.9 430.8,152.2 406.1,155.7 399.9,150.5" fill="#b4c2d2" opacity="0.8"/>
<polygon points="393.9,132.2 418.2,128.5 424.8,133.9" fill="#d9e2ec" opacity="0.48"/>
<polygon points="399.9,150.5 406.1,155.7 430.8,152.2" fill="#8fa2ba" opacity="0.27999999999999997"/>
<polygon points="393.9,132.2 399.9,150.5 412,142" fill="#8fa2ba" opacity="0.144"/>
<polygon points="424.8,133.9 430.8,152.2 412,142" fill="#d9e2ec" opacity="0.27999999999999997"/>
<polygon points="424.7,133.9 449,130.2 455.6,135.6 461.6,153.9 436.9,157.4 430.7,152.2" fill="#b4c2d2" opacity="0.8"/>
<polygon points="424.7,133.9 449,130.2 455.6,135.6" fill="#d9e2ec" opacity="0.48"/>
<polygon points="430.7,152.2 436.9,157.4 461.6,153.9" fill="#8fa2ba" opacity="0.27999999999999997"/>
<polygon points="424.7,133.9 430.7,152.2 442.8,143.7" fill="#8fa2ba" opacity="0.144"/>
<polygon points="455.6,135.6 461.6,153.9 442.8,143.7" fill="#d9e2ec" opacity="0.27999999999999997"/>
<polygon points="455.5,135.7 479.8,132 486.4,137.4 492.4,155.7 467.7,159.2 461.5,154" fill="#b4c2d2" opacity="0.8"/>
<polygon points="455.5,135.7 479.8,132 486.4,137.4" fill="#d9e2ec" opacity="0.48"/>
<polygon points="461.5,154 467.7,159.2 492.4,155.7" fill="#8fa2ba" opacity="0.27999999999999997"/>
<polygon points="455.5,135.7 461.5,154 473.6,145.5" fill="#8fa2ba" opacity="0.144"/>
<polygon points="486.4,137.4 492.4,155.7 473.6,145.5" fill="#d9e2ec" opacity="0.27999999999999997"/>
<polygon points="486.5,137.9 510.8,134.2 517.4,139.6 523.4,157.9 498.7,161.4 492.5,156.2" fill="#b4c2d2" opacity="0.8"/>
<polygon points="486.5,137.9 510.8,134.2 517.4,139.6" fill="#d9e2ec" opacity="0.48"/>
<polygon points="492.5,156.2 498.7,161.4 523.4,157.9" fill="#8fa2ba" opacity="0.27999999999999997"/>
<polygon points="486.5,137.9 492.5,156.2 504.6,147.7" fill="#8fa2ba" opacity="0.144"/>
<polygon points="517.4,139.6 523.4,157.9 504.6,147.7" fill="#d9e2ec" opacity="0.27999999999999997"/>
<circle cx="424.2" cy="146.8" r="2.9" fill="url(#gO)" opacity=".45"/>
<circle cx="455" cy="148.5" r="2.9" fill="url(#gO)" opacity=".45"/>
<circle cx="485.8" cy="150.3" r="2.9" fill="url(#gO)" opacity=".45"/>
<circle cx="516.8" cy="152.5" r="2.9" fill="url(#gO)" opacity=".45"/>
<circle cx="412" cy="142" r="5.6" fill="url(#gNi2)" />
<circle cx="442.8" cy="143.7" r="5.6" fill="url(#gNi2)" />
<circle cx="473.6" cy="145.5" r="5.6" fill="url(#gNi2)" />
<circle cx="504.6" cy="147.7" r="5.6" fill="url(#gNi2)" />
<circle cx="393.9" cy="132.2" r="2.9" fill="url(#gO)" />
<circle cx="418.2" cy="128.5" r="2.9" fill="url(#gO)" />
<circle cx="406.1" cy="155.7" r="2.9" fill="url(#gO)" />
<circle cx="399.9" cy="150.5" r="2.9" fill="url(#gO)" />
<circle cx="424.7" cy="133.9" r="2.9" fill="url(#gO)" />
<circle cx="449" cy="130.2" r="2.9" fill="url(#gO)" />
<circle cx="436.9" cy="157.4" r="2.9" fill="url(#gO)" />
<circle cx="430.7" cy="152.2" r="2.9" fill="url(#gO)" />
<circle cx="455.5" cy="135.7" r="2.9" fill="url(#gO)" />
<circle cx="479.8" cy="132" r="2.9" fill="url(#gO)" />
<circle cx="467.7" cy="159.2" r="2.9" fill="url(#gO)" />
<circle cx="461.5" cy="154" r="2.9" fill="url(#gO)" />
<circle cx="486.5" cy="137.9" r="2.9" fill="url(#gO)" />
<circle cx="510.8" cy="134.2" r="2.9" fill="url(#gO)" />
<circle cx="498.7" cy="161.4" r="2.9" fill="url(#gO)" />
<circle cx="492.5" cy="156.2" r="2.9" fill="url(#gO)" />
<circle cx="517.4" cy="139.6" r="2.9" fill="url(#gO)" />
<circle cx="523.4" cy="157.9" r="2.9" fill="url(#gO)" />
<polygon points="399.6,179 423.9,175.3 430.5,180.7 436.5,199 411.9,202.5 405.6,197.3" fill="#b4c2d2" opacity="0.6"/>
<polygon points="399.6,179 423.9,175.3 430.5,180.7" fill="#d9e2ec" opacity="0.36"/>
<polygon points="405.6,197.3 411.9,202.5 436.5,199" fill="#8fa2ba" opacity="0.21"/>
<polygon points="399.6,179 405.6,197.3 417.8,188.8" fill="#8fa2ba" opacity="0.108"/>
<polygon points="430.5,180.7 436.5,199 417.8,188.8" fill="#d9e2ec" opacity="0.21"/>
<polygon points="430.6,180.4 454.9,176.7 461.5,182.1 467.5,200.4 442.9,203.9 436.6,198.7" fill="#b4c2d2" opacity="0.6"/>
<polygon points="430.6,180.4 454.9,176.7 461.5,182.1" fill="#d9e2ec" opacity="0.36"/>
<polygon points="436.6,198.7 442.9,203.9 467.5,200.4" fill="#8fa2ba" opacity="0.21"/>
<polygon points="430.6,180.4 436.6,198.7 448.8,190.2" fill="#8fa2ba" opacity="0.108"/>
<polygon points="461.5,182.1 467.5,200.4 448.8,190.2" fill="#d9e2ec" opacity="0.21"/>
<polygon points="461.6,182.1 485.9,178.4 492.4,183.8 498.4,202.1 473.8,205.6 467.6,200.4" fill="#b4c2d2" opacity="0.6"/>
<polygon points="461.6,182.1 485.9,178.4 492.4,183.8" fill="#d9e2ec" opacity="0.36"/>
<polygon points="467.6,200.4 473.8,205.6 498.4,202.1" fill="#8fa2ba" opacity="0.21"/>
<polygon points="461.6,182.1 467.6,200.4 479.7,191.9" fill="#8fa2ba" opacity="0.108"/>
<polygon points="492.4,183.8 498.4,202.1 479.7,191.9" fill="#d9e2ec" opacity="0.21"/>
<polygon points="492.2,183.9 516.6,180.2 523.1,185.6 529.1,203.9 504.5,207.4 498.2,202.2" fill="#b4c2d2" opacity="0.6"/>
<polygon points="492.2,183.9 516.6,180.2 523.1,185.6" fill="#d9e2ec" opacity="0.36"/>
<polygon points="498.2,202.2 504.5,207.4 529.1,203.9" fill="#8fa2ba" opacity="0.21"/>
<polygon points="492.2,183.9 498.2,202.2 510.4,193.7" fill="#8fa2ba" opacity="0.108"/>
<polygon points="523.1,185.6 529.1,203.9 510.4,193.7" fill="#d9e2ec" opacity="0.21"/>
<circle cx="417.8" cy="188.8" r="5.6" fill="url(#gNi2)" opacity=".5"/>
<circle cx="448.8" cy="190.2" r="5.6" fill="url(#gNi2)" opacity=".5"/>
<circle cx="479.7" cy="191.9" r="5.6" fill="url(#gNi2)" opacity=".5"/>
<polygon points="375.3,182.7 399.6,179 406.1,184.4 412.1,202.7 387.5,206.2 381.3,201" fill="#b4c2d2" opacity="0.8"/>
<polygon points="375.3,182.7 399.6,179 406.1,184.4" fill="#d9e2ec" opacity="0.48"/>
<polygon points="381.3,201 387.5,206.2 412.1,202.7" fill="#8fa2ba" opacity="0.27999999999999997"/>
<polygon points="375.3,182.7 381.3,201 393.4,192.5" fill="#8fa2ba" opacity="0.144"/>
<polygon points="406.1,184.4 412.1,202.7 393.4,192.5" fill="#d9e2ec" opacity="0.27999999999999997"/>
<polygon points="406.3,184.1 430.6,180.4 437.1,185.8 443.1,204.1 418.5,207.6 412.3,202.4" fill="#b4c2d2" opacity="0.8"/>
<polygon points="406.3,184.1 430.6,180.4 437.1,185.8" fill="#d9e2ec" opacity="0.48"/>
<polygon points="412.3,202.4 418.5,207.6 443.1,204.1" fill="#8fa2ba" opacity="0.27999999999999997"/>
<polygon points="406.3,184.1 412.3,202.4 424.4,193.9" fill="#8fa2ba" opacity="0.144"/>
<polygon points="437.1,185.8 443.1,204.1 424.4,193.9" fill="#d9e2ec" opacity="0.27999999999999997"/>
<polygon points="437.2,185.8 461.5,182.1 468.1,187.5 474.1,205.8 449.4,209.3 443.2,204.1" fill="#b4c2d2" opacity="0.8"/>
<polygon points="437.2,185.8 461.5,182.1 468.1,187.5" fill="#d9e2ec" opacity="0.48"/>
<polygon points="443.2,204.1 449.4,209.3 474.1,205.8" fill="#8fa2ba" opacity="0.27999999999999997"/>
<polygon points="437.2,185.8 443.2,204.1 455.3,195.6" fill="#8fa2ba" opacity="0.144"/>
<polygon points="468.1,187.5 474.1,205.8 455.3,195.6" fill="#d9e2ec" opacity="0.27999999999999997"/>
<polygon points="467.9,187.6 492.2,183.9 498.8,189.3 504.8,207.6 480.1,211.1 473.9,205.9" fill="#b4c2d2" opacity="0.8"/>
<polygon points="467.9,187.6 492.2,183.9 498.8,189.3" fill="#d9e2ec" opacity="0.48"/>
<polygon points="473.9,205.9 480.1,211.1 504.8,207.6" fill="#8fa2ba" opacity="0.27999999999999997"/>
<polygon points="467.9,187.6 473.9,205.9 486,197.4" fill="#8fa2ba" opacity="0.144"/>
<polygon points="498.8,189.3 504.8,207.6 486,197.4" fill="#d9e2ec" opacity="0.27999999999999997"/>
<circle cx="405.6" cy="197.3" r="2.9" fill="url(#gO)" opacity=".45"/>
<circle cx="436.6" cy="198.7" r="2.9" fill="url(#gO)" opacity=".45"/>
<circle cx="467.5" cy="200.4" r="2.9" fill="url(#gO)" opacity=".45"/>
<circle cx="498.2" cy="202.2" r="2.9" fill="url(#gO)" opacity=".45"/>
<circle cx="522.6" cy="198.5" r="2.9" fill="url(#gO)" opacity=".45"/>
<circle cx="393.4" cy="192.5" r="5.6" fill="url(#gNi2)" />
<circle cx="424.4" cy="193.9" r="5.6" fill="url(#gNi2)" />
<circle cx="455.3" cy="195.6" r="5.6" fill="url(#gNi2)" />
<circle cx="486" cy="197.4" r="5.6" fill="url(#gNi2)" />
<circle cx="510.4" cy="193.7" r="5.6" fill="url(#gNi2)" />
<circle cx="399.6" cy="179" r="2.9" fill="url(#gO)" />
<circle cx="423.9" cy="175.3" r="2.9" fill="url(#gO)" />
<circle cx="430.6" cy="180.4" r="2.9" fill="url(#gO)" />
<circle cx="454.9" cy="176.7" r="2.9" fill="url(#gO)" />
<circle cx="461.6" cy="182.1" r="2.9" fill="url(#gO)" />
<circle cx="485.9" cy="178.4" r="2.9" fill="url(#gO)" />
<circle cx="492.2" cy="183.9" r="2.9" fill="url(#gO)" />
<circle cx="516.6" cy="180.2" r="2.9" fill="url(#gO)" />
<circle cx="492.2" cy="183.9" r="2.9" fill="url(#gO)" />
<circle cx="516.6" cy="180.2" r="2.9" fill="url(#gO)" />
<circle cx="504.5" cy="207.4" r="2.9" fill="url(#gO)" />
<circle cx="498.2" cy="202.2" r="2.9" fill="url(#gO)" />
<circle cx="523.1" cy="185.6" r="2.9" fill="url(#gO)" />
<circle cx="529.1" cy="203.9" r="2.9" fill="url(#gO)" />
<circle cx="375.3" cy="182.7" r="2.9" fill="url(#gO)" />
<circle cx="399.6" cy="179" r="2.9" fill="url(#gO)" />
<circle cx="387.5" cy="206.2" r="2.9" fill="url(#gO)" />
<circle cx="381.3" cy="201" r="2.9" fill="url(#gO)" />
<circle cx="406.3" cy="184.1" r="2.9" fill="url(#gO)" />
<circle cx="430.6" cy="180.4" r="2.9" fill="url(#gO)" />
<circle cx="418.5" cy="207.6" r="2.9" fill="url(#gO)" />
<circle cx="412.3" cy="202.4" r="2.9" fill="url(#gO)" />
<circle cx="437.2" cy="185.8" r="2.9" fill="url(#gO)" />
<circle cx="461.5" cy="182.1" r="2.9" fill="url(#gO)" />
<circle cx="449.4" cy="209.3" r="2.9" fill="url(#gO)" />
<circle cx="443.2" cy="204.1" r="2.9" fill="url(#gO)" />
<circle cx="467.9" cy="187.6" r="2.9" fill="url(#gO)" />
<circle cx="492.2" cy="183.9" r="2.9" fill="url(#gO)" />
<circle cx="480.1" cy="211.1" r="2.9" fill="url(#gO)" />
<circle cx="473.9" cy="205.9" r="2.9" fill="url(#gO)" />
<circle cx="504.8" cy="207.6" r="2.9" fill="url(#gO)" />
<circle cx="393.4" cy="104.5" r="2.9" fill="url(#gO)" />
<circle cx="393.4" cy="133.4" r="2.9" fill="url(#gO)" />
<circle cx="412.2" cy="68.9" r="1.9" fill="url(#gH)" />
<circle cx="442.8" cy="70.9" r="1.9" fill="url(#gH)" />
<circle cx="473.6" cy="72.2" r="1.9" fill="url(#gH)" />
<circle cx="504.7" cy="73.4" r="1.9" fill="url(#gH)" />
<circle cx="393.4" cy="119" r="1.9" fill="url(#gH)" />
<circle cx="418.2" cy="115.3" r="1.9" fill="url(#gH)" />
<circle cx="424.5" cy="120.8" r="1.9" fill="url(#gH)" />
<circle cx="449" cy="116.6" r="1.9" fill="url(#gH)" />
<circle cx="455.3" cy="122" r="1.9" fill="url(#gH)" />
<circle cx="479.9" cy="118.3" r="1.9" fill="url(#gH)" />
<circle cx="486.1" cy="123.6" r="1.9" fill="url(#gH)" />
<circle cx="510.5" cy="120.3" r="1.9" fill="url(#gH)" />
<circle cx="430.2" cy="166.7" r="1.9" fill="url(#gH)" />
<circle cx="461" cy="168.7" r="1.9" fill="url(#gH)" />
<circle cx="492.2" cy="170" r="1.9" fill="url(#gH)" />
<rect x="392.8" y="45" width="31.8" height="148.5" fill="none" stroke="#3b8de0" stroke-width="1.8" stroke-dasharray="5.5 3.5"/>
<text x="452" y="20.8" font-size="14.7" text-anchor="middle" ><tspan font-style="italic">R</tspan>-3<tspan font-style="italic">m</tspan></text>
<text x="341" y="85" font-size="15.8" >Ni<tspan baseline-shift="5.5" font-size="66%">3+</tspan></text>
<line x1="356" y1="64" x2="383.4" y2="46" stroke="#000" stroke-width="1.5" />
<polygon points="388,43 384.1,48.9 381,44.2" fill="#000" />
<line x1="505" y1="148" x2="577" y2="148" stroke="#000" stroke-width="1.5" stroke-dasharray="14 4 2 4"/>
<line x1="510" y1="195.6" x2="582" y2="195.6" stroke="#000" stroke-width="1.5" stroke-dasharray="14 4 2 4"/>
<line x1="535.3" y1="153.8" x2="535.3" y2="190" stroke="#000" stroke-width="1.5" />
<polygon points="535.3,148.8 532.1,155.8 538.5,155.8" fill="#000" />
<polygon points="535.3,195 532.1,188 538.5,188" fill="#000" />
<text x="542" y="179.5" font-size="15.9" ><tspan font-style="italic">d</tspan> = 4.67 Å</text>
<text x="459" y="234" font-size="15.8" text-anchor="middle" >Ni<tspan baseline-shift="-3" font-size="68%">0.83</tspan>Co<tspan baseline-shift="-3" font-size="68%">0.05</tspan>Mn<tspan baseline-shift="-3" font-size="68%">0.12</tspan>OOH</text>
<text x="459.5" y="253.3" font-size="15.6" text-anchor="middle" ><tspan style="font-family:'Noto Sans CJK SC', sans-serif">（</tspan>NCMOOH<tspan style="font-family:'Noto Sans CJK SC', sans-serif">）</tspan></text>
<text x="623" y="114" font-size="17.9" text-anchor="middle" >Topotactic lithiation</text>
<line x1="531" y1="120.5" x2="711" y2="120.5" stroke="#000" stroke-width="1.6" />
<polygon points="718,120.5 710,123.7 710,117.3" fill="#000" />
<polygon points="747,27.9 775.9,29.4 770.2,54.2 741.2,52.6" fill="#a3aebb" opacity="0.6"/>
<polygon points="747,27.9 775.9,29.4 753.2,33" fill="#d0d7df" opacity="0.33"/>
<polygon points="741.2,52.6 770.2,54.2 764,48.9" fill="#7b899b" opacity="0.24"/>
<polygon points="747,27.9 741.2,52.6 753.2,33" fill="#7b899b" opacity="0.132"/>
<polygon points="775.9,29.4 770.2,54.2 764,48.9" fill="#d0d7df" opacity="0.18"/>
<polygon points="775.9,29.4 804.8,30.9 799.1,55.7 770.1,54.1" fill="#a3aebb" opacity="0.6"/>
<polygon points="775.9,29.4 804.8,30.9 782.1,34.5" fill="#d0d7df" opacity="0.33"/>
<polygon points="770.1,54.1 799.1,55.7 792.9,50.4" fill="#7b899b" opacity="0.24"/>
<polygon points="775.9,29.4 770.1,54.1 782.1,34.5" fill="#7b899b" opacity="0.132"/>
<polygon points="804.8,30.9 799.1,55.7 792.9,50.4" fill="#d0d7df" opacity="0.18"/>
<polygon points="804.9,31 833.8,32.5 828.1,57.3 799.1,55.8" fill="#a3aebb" opacity="0.6"/>
<polygon points="804.9,31 833.8,32.5 811.1,36.1" fill="#d0d7df" opacity="0.33"/>
<polygon points="799.1,55.8 828.1,57.3 821.9,52" fill="#7b899b" opacity="0.24"/>
<polygon points="804.9,31 799.1,55.8 811.1,36.1" fill="#7b899b" opacity="0.132"/>
<polygon points="833.8,32.5 828.1,57.3 821.9,52" fill="#d0d7df" opacity="0.18"/>
<polygon points="834,32.6 862.9,34.1 857.2,59 828.2,57.4" fill="#a3aebb" opacity="0.6"/>
<polygon points="834,32.6 862.9,34.1 840.2,37.8" fill="#d0d7df" opacity="0.33"/>
<polygon points="828.2,57.4 857.2,59 851,53.6" fill="#7b899b" opacity="0.24"/>
<polygon points="834,32.6 828.2,57.4 840.2,37.8" fill="#7b899b" opacity="0.132"/>
<polygon points="862.9,34.1 857.2,59 851,53.6" fill="#d0d7df" opacity="0.18"/>
<circle cx="758.6" cy="40.5" r="5.2" fill="url(#gNi2)" opacity=".5"/>
<circle cx="787.5" cy="42" r="5.2" fill="url(#gNi2)" opacity=".5"/>
<circle cx="816.5" cy="43.6" r="5.2" fill="url(#gNi2)" opacity=".5"/>
<polygon points="724.1,31 753,32.5 747.3,57.3 718.3,55.7" fill="#a3aebb" opacity="0.8"/>
<polygon points="724.1,31 753,32.5 730.3,36.1" fill="#d0d7df" opacity="0.44000000000000006"/>
<polygon points="718.3,55.7 747.3,57.3 741.1,52" fill="#7b899b" opacity="0.32000000000000006"/>
<polygon points="724.1,31 718.3,55.7 730.3,36.1" fill="#7b899b" opacity="0.17600000000000002"/>
<polygon points="753,32.5 747.3,57.3 741.1,52" fill="#d0d7df" opacity="0.24"/>
<polygon points="753,32.5 781.9,34 776.2,58.8 747.2,57.2" fill="#a3aebb" opacity="0.8"/>
<polygon points="753,32.5 781.9,34 759.2,37.6" fill="#d0d7df" opacity="0.44000000000000006"/>
<polygon points="747.2,57.2 776.2,58.8 770,53.5" fill="#7b899b" opacity="0.32000000000000006"/>
<polygon points="753,32.5 747.2,57.2 759.2,37.6" fill="#7b899b" opacity="0.17600000000000002"/>
<polygon points="781.9,34 776.2,58.8 770,53.5" fill="#d0d7df" opacity="0.24"/>
<polygon points="782,34.2 810.9,35.7 805.2,60.5 776.2,58.9" fill="#a3aebb" opacity="0.8"/>
<polygon points="782,34.2 810.9,35.7 788.2,39.3" fill="#d0d7df" opacity="0.44000000000000006"/>
<polygon points="776.2,58.9 805.2,60.5 799,55.2" fill="#7b899b" opacity="0.32000000000000006"/>
<polygon points="782,34.2 776.2,58.9 788.2,39.3" fill="#7b899b" opacity="0.17600000000000002"/>
<polygon points="810.9,35.7 805.2,60.5 799,55.2" fill="#d0d7df" opacity="0.24"/>
<polygon points="811.1,35.8 840,37.3 834.3,62.1 805.3,60.5" fill="#a3aebb" opacity="0.8"/>
<polygon points="811.1,35.8 840,37.3 817.3,40.9" fill="#d0d7df" opacity="0.44000000000000006"/>
<polygon points="805.3,60.5 834.3,62.1 828.1,56.8" fill="#7b899b" opacity="0.32000000000000006"/>
<polygon points="811.1,35.8 805.3,60.5 817.3,40.9" fill="#7b899b" opacity="0.17600000000000002"/>
<polygon points="840,37.3 834.3,62.1 828.1,56.8" fill="#d0d7df" opacity="0.24"/>
<circle cx="741.1" cy="52" r="2.9" fill="url(#gO)" opacity=".45"/>
<circle cx="770" cy="53.5" r="2.9" fill="url(#gO)" opacity=".45"/>
<circle cx="799" cy="55.2" r="2.9" fill="url(#gO)" opacity=".45"/>
<circle cx="828.1" cy="56.8" r="2.9" fill="url(#gO)" opacity=".45"/>
<circle cx="851" cy="53.6" r="2.9" fill="url(#gO)" opacity=".45"/>
<circle cx="735.7" cy="43.6" r="5.2" fill="url(#gNi2)" />
<circle cx="764.6" cy="45.1" r="5.2" fill="url(#gNi2)" />
<circle cx="793.6" cy="46.8" r="5.2" fill="url(#gNi2)" />
<circle cx="822.7" cy="48.4" r="5.2" fill="url(#gNi2)" />
<circle cx="845.6" cy="45.2" r="5.2" fill="url(#gNi2)" />
<circle cx="747" cy="27.9" r="2.9" fill="url(#gO)" />
<circle cx="775.9" cy="29.4" r="2.9" fill="url(#gO)" />
<circle cx="804.9" cy="31" r="2.9" fill="url(#gO)" />
<circle cx="834" cy="32.6" r="2.9" fill="url(#gO)" />
<circle cx="834" cy="32.6" r="2.9" fill="url(#gO)" />
<circle cx="840.2" cy="37.8" r="2.9" fill="url(#gO)" />
<circle cx="857.2" cy="59" r="2.9" fill="url(#gO)" />
<circle cx="862.9" cy="34.1" r="2.9" fill="url(#gO)" />
<circle cx="857.2" cy="59" r="2.9" fill="url(#gO)" />
<circle cx="724.1" cy="31" r="2.9" fill="url(#gO)" />
<circle cx="730.3" cy="36.1" r="2.9" fill="url(#gO)" />
<circle cx="747.3" cy="57.3" r="2.9" fill="url(#gO)" />
<circle cx="753" cy="32.5" r="2.9" fill="url(#gO)" />
<circle cx="759.2" cy="37.6" r="2.9" fill="url(#gO)" />
<circle cx="776.2" cy="58.8" r="2.9" fill="url(#gO)" />
<circle cx="782" cy="34.2" r="2.9" fill="url(#gO)" />
<circle cx="788.2" cy="39.3" r="2.9" fill="url(#gO)" />
<circle cx="805.2" cy="60.5" r="2.9" fill="url(#gO)" />
<circle cx="811.1" cy="35.8" r="2.9" fill="url(#gO)" />
<circle cx="817.3" cy="40.9" r="2.9" fill="url(#gO)" />
<circle cx="834.3" cy="62.1" r="2.9" fill="url(#gO)" />
<circle cx="718.3" cy="55.7" r="2.9" fill="url(#gO)" />
<circle cx="834.3" cy="62.1" r="2.9" fill="url(#gO)" />
<polygon points="758.8,79.4 787.7,80.9 782,105.7 753,104.1" fill="#a3aebb" opacity="0.8"/>
<polygon points="758.8,79.4 787.7,80.9 765,84.5" fill="#d0d7df" opacity="0.44000000000000006"/>
<polygon points="753,104.1 782,105.7 775.8,100.4" fill="#7b899b" opacity="0.32000000000000006"/>
<polygon points="758.8,79.4 753,104.1 765,84.5" fill="#7b899b" opacity="0.17600000000000002"/>
<polygon points="787.7,80.9 782,105.7 775.8,100.4" fill="#d0d7df" opacity="0.24"/>
<polygon points="787.8,81.2 816.7,82.7 811,107.5 782,105.9" fill="#a3aebb" opacity="0.8"/>
<polygon points="787.8,81.2 816.7,82.7 794,86.3" fill="#d0d7df" opacity="0.44000000000000006"/>
<polygon points="782,105.9 811,107.5 804.8,102.2" fill="#7b899b" opacity="0.32000000000000006"/>
<polygon points="787.8,81.2 782,105.9 794,86.3" fill="#7b899b" opacity="0.17600000000000002"/>
<polygon points="816.7,82.7 811,107.5 804.8,102.2" fill="#d0d7df" opacity="0.24"/>
<polygon points="816.8,82.8 845.7,84.3 840,109.1 811,107.5" fill="#a3aebb" opacity="0.8"/>
<polygon points="816.8,82.8 845.7,84.3 823,87.9" fill="#d0d7df" opacity="0.44000000000000006"/>
<polygon points="811,107.5 840,109.1 833.8,103.8" fill="#7b899b" opacity="0.32000000000000006"/>
<polygon points="816.8,82.8 811,107.5 823,87.9" fill="#7b899b" opacity="0.17600000000000002"/>
<polygon points="845.7,84.3 840,109.1 833.8,103.8" fill="#d0d7df" opacity="0.24"/>
<circle cx="775.8" cy="100.4" r="2.9" fill="url(#gO)" opacity=".45"/>
<circle cx="804.8" cy="102.2" r="2.9" fill="url(#gO)" opacity=".45"/>
<circle cx="833.8" cy="103.8" r="2.9" fill="url(#gO)" opacity=".45"/>
<circle cx="770.4" cy="92" r="5.2" fill="url(#gNi2)" />
<circle cx="799.4" cy="93.8" r="5.2" fill="url(#gNi2)" />
<circle cx="828.4" cy="95.4" r="5.2" fill="url(#gNi2)" />
<circle cx="758.8" cy="79.4" r="2.9" fill="url(#gO)" />
<circle cx="765" cy="84.5" r="2.9" fill="url(#gO)" />
<circle cx="782" cy="105.7" r="2.9" fill="url(#gO)" />
<circle cx="787.8" cy="81.2" r="2.9" fill="url(#gO)" />
<circle cx="794" cy="86.3" r="2.9" fill="url(#gO)" />
<circle cx="811" cy="107.5" r="2.9" fill="url(#gO)" />
<circle cx="816.8" cy="82.8" r="2.9" fill="url(#gO)" />
<circle cx="823" cy="87.9" r="2.9" fill="url(#gO)" />
<circle cx="840" cy="109.1" r="2.9" fill="url(#gO)" />
<circle cx="753" cy="104.1" r="2.9" fill="url(#gO)" />
<circle cx="845.7" cy="84.3" r="2.9" fill="url(#gO)" />
<circle cx="840" cy="109.1" r="2.9" fill="url(#gO)" />
<polygon points="741.4,129 770.3,130.5 764.6,155.3 735.6,153.7" fill="#a3aebb" opacity="0.8"/>
<polygon points="741.4,129 770.3,130.5 747.6,134.1" fill="#d0d7df" opacity="0.44000000000000006"/>
<polygon points="735.6,153.7 764.6,155.3 758.4,150" fill="#7b899b" opacity="0.32000000000000006"/>
<polygon points="741.4,129 735.6,153.7 747.6,134.1" fill="#7b899b" opacity="0.17600000000000002"/>
<polygon points="770.3,130.5 764.6,155.3 758.4,150" fill="#d0d7df" opacity="0.24"/>
<polygon points="770.4,130.8 799.3,132.3 793.6,157.1 764.6,155.5" fill="#a3aebb" opacity="0.8"/>
<polygon points="770.4,130.8 799.3,132.3 776.6,135.9" fill="#d0d7df" opacity="0.44000000000000006"/>
<polygon points="764.6,155.5 793.6,157.1 787.4,151.8" fill="#7b899b" opacity="0.32000000000000006"/>
<polygon points="770.4,130.8 764.6,155.5 776.6,135.9" fill="#7b899b" opacity="0.17600000000000002"/>
<polygon points="799.3,132.3 793.6,157.1 787.4,151.8" fill="#d0d7df" opacity="0.24"/>
<polygon points="799.4,132.5 828.3,134 822.6,158.8 793.6,157.2" fill="#a3aebb" opacity="0.8"/>
<polygon points="799.4,132.5 828.3,134 805.6,137.6" fill="#d0d7df" opacity="0.44000000000000006"/>
<polygon points="793.6,157.2 822.6,158.8 816.4,153.5" fill="#7b899b" opacity="0.32000000000000006"/>
<polygon points="799.4,132.5 793.6,157.2 805.6,137.6" fill="#7b899b" opacity="0.17600000000000002"/>
<polygon points="828.3,134 822.6,158.8 816.4,153.5" fill="#d0d7df" opacity="0.24"/>
<polygon points="828.4,134.7 857.3,136.2 851.6,161 822.6,159.4" fill="#a3aebb" opacity="0.8"/>
<polygon points="828.4,134.7 857.3,136.2 834.6,139.8" fill="#d0d7df" opacity="0.44000000000000006"/>
<polygon points="822.6,159.4 851.6,161 845.4,155.7" fill="#7b899b" opacity="0.32000000000000006"/>
<polygon points="828.4,134.7 822.6,159.4 834.6,139.8" fill="#7b899b" opacity="0.17600000000000002"/>
<polygon points="857.3,136.2 851.6,161 845.4,155.7" fill="#d0d7df" opacity="0.24"/>
<circle cx="758.4" cy="150" r="2.9" fill="url(#gO)" opacity=".45"/>
<circle cx="787.4" cy="151.8" r="2.9" fill="url(#gO)" opacity=".45"/>
<circle cx="816.4" cy="153.5" r="2.9" fill="url(#gO)" opacity=".45"/>
<circle cx="845.4" cy="155.7" r="2.9" fill="url(#gO)" opacity=".45"/>
<circle cx="753" cy="141.6" r="5.2" fill="url(#gNi2)" />
<circle cx="782" cy="143.4" r="5.2" fill="url(#gNi2)" />
<circle cx="811" cy="145.1" r="5.2" fill="url(#gNi2)" />
<circle cx="840" cy="147.3" r="5.2" fill="url(#gNi2)" />
<circle cx="741.4" cy="129" r="2.9" fill="url(#gO)" />
<circle cx="747.6" cy="134.1" r="2.9" fill="url(#gO)" />
<circle cx="764.6" cy="155.3" r="2.9" fill="url(#gO)" />
<circle cx="770.4" cy="130.8" r="2.9" fill="url(#gO)" />
<circle cx="776.6" cy="135.9" r="2.9" fill="url(#gO)" />
<circle cx="793.6" cy="157.1" r="2.9" fill="url(#gO)" />
<circle cx="799.4" cy="132.5" r="2.9" fill="url(#gO)" />
<circle cx="805.6" cy="137.6" r="2.9" fill="url(#gO)" />
<circle cx="822.6" cy="158.8" r="2.9" fill="url(#gO)" />
<circle cx="828.4" cy="134.7" r="2.9" fill="url(#gO)" />
<circle cx="834.6" cy="139.8" r="2.9" fill="url(#gO)" />
<circle cx="851.6" cy="161" r="2.9" fill="url(#gO)" />
<circle cx="735.6" cy="153.7" r="2.9" fill="url(#gO)" />
<circle cx="857.3" cy="136.2" r="2.9" fill="url(#gO)" />
<circle cx="851.6" cy="161" r="2.9" fill="url(#gO)" />
<polygon points="747,176.1 775.9,177.6 770.2,202.3 741.2,200.8" fill="#a3aebb" opacity="0.6"/>
<polygon points="747,176.1 775.9,177.6 753.2,181.2" fill="#d0d7df" opacity="0.33"/>
<polygon points="741.2,200.8 770.2,202.3 764,197.1" fill="#7b899b" opacity="0.24"/>
<polygon points="747,176.1 741.2,200.8 753.2,181.2" fill="#7b899b" opacity="0.132"/>
<polygon points="775.9,177.6 770.2,202.3 764,197.1" fill="#d0d7df" opacity="0.18"/>
<polygon points="775.9,177.7 804.8,179.2 799.1,203.9 770.1,202.3" fill="#a3aebb" opacity="0.6"/>
<polygon points="775.9,177.7 804.8,179.2 782.1,182.8" fill="#d0d7df" opacity="0.33"/>
<polygon points="770.1,202.3 799.1,203.9 792.9,198.7" fill="#7b899b" opacity="0.24"/>
<polygon points="775.9,177.7 770.1,202.3 782.1,182.8" fill="#7b899b" opacity="0.132"/>
<polygon points="804.8,179.2 799.1,203.9 792.9,198.7" fill="#d0d7df" opacity="0.18"/>
<polygon points="804.9,179.4 833.8,180.9 828.1,205.7 799.1,204.1" fill="#a3aebb" opacity="0.6"/>
<polygon points="804.9,179.4 833.8,180.9 811.1,184.5" fill="#d0d7df" opacity="0.33"/>
<polygon points="799.1,204.1 828.1,205.7 821.9,200.4" fill="#7b899b" opacity="0.24"/>
<polygon points="804.9,179.4 799.1,204.1 811.1,184.5" fill="#7b899b" opacity="0.132"/>
<polygon points="833.8,180.9 828.1,205.7 821.9,200.4" fill="#d0d7df" opacity="0.18"/>
<polygon points="834,180.9 862.9,182.4 857.2,207.2 828.2,205.6" fill="#a3aebb" opacity="0.6"/>
<polygon points="834,180.9 862.9,182.4 840.2,186" fill="#d0d7df" opacity="0.33"/>
<polygon points="828.2,205.6 857.2,207.2 851,201.9" fill="#7b899b" opacity="0.24"/>
<polygon points="834,180.9 828.2,205.6 840.2,186" fill="#7b899b" opacity="0.132"/>
<polygon points="862.9,182.4 857.2,207.2 851,201.9" fill="#d0d7df" opacity="0.18"/>
<circle cx="758.6" cy="188.7" r="5.2" fill="url(#gNi2)" opacity=".5"/>
<circle cx="787.5" cy="190.2" r="5.2" fill="url(#gNi2)" opacity=".5"/>
<circle cx="816.5" cy="192" r="5.2" fill="url(#gNi2)" opacity=".5"/>
<polygon points="724.1,179.2 753,180.7 747.3,205.5 718.3,203.9" fill="#a3aebb" opacity="0.8"/>
<polygon points="724.1,179.2 753,180.7 730.3,184.3" fill="#d0d7df" opacity="0.44000000000000006"/>
<polygon points="718.3,203.9 747.3,205.5 741.1,200.2" fill="#7b899b" opacity="0.32000000000000006"/>
<polygon points="724.1,179.2 718.3,203.9 730.3,184.3" fill="#7b899b" opacity="0.17600000000000002"/>
<polygon points="753,180.7 747.3,205.5 741.1,200.2" fill="#d0d7df" opacity="0.24"/>
<polygon points="753,180.8 781.9,182.3 776.2,207.1 747.2,205.5" fill="#a3aebb" opacity="0.8"/>
<polygon points="753,180.8 781.9,182.3 759.2,185.9" fill="#d0d7df" opacity="0.44000000000000006"/>
<polygon points="747.2,205.5 776.2,207.1 770,201.8" fill="#7b899b" opacity="0.32000000000000006"/>
<polygon points="753,180.8 747.2,205.5 759.2,185.9" fill="#7b899b" opacity="0.17600000000000002"/>
<polygon points="781.9,182.3 776.2,207.1 770,201.8" fill="#d0d7df" opacity="0.24"/>
<polygon points="782,182.6 810.9,184.1 805.2,208.9 776.2,207.3" fill="#a3aebb" opacity="0.8"/>
<polygon points="782,182.6 810.9,184.1 788.2,187.7" fill="#d0d7df" opacity="0.44000000000000006"/>
<polygon points="776.2,207.3 805.2,208.9 799,203.6" fill="#7b899b" opacity="0.32000000000000006"/>
<polygon points="782,182.6 776.2,207.3 788.2,187.7" fill="#7b899b" opacity="0.17600000000000002"/>
<polygon points="810.9,184.1 805.2,208.9 799,203.6" fill="#d0d7df" opacity="0.24"/>
<polygon points="811.1,184.1 840,185.6 834.3,210.4 805.3,208.8" fill="#a3aebb" opacity="0.8"/>
<polygon points="811.1,184.1 840,185.6 817.3,189.2" fill="#d0d7df" opacity="0.44000000000000006"/>
<polygon points="805.3,208.8 834.3,210.4 828.1,205.1" fill="#7b899b" opacity="0.32000000000000006"/>
<polygon points="811.1,184.1 805.3,208.8 817.3,189.2" fill="#7b899b" opacity="0.17600000000000002"/>
<polygon points="840,185.6 834.3,210.4 828.1,205.1" fill="#d0d7df" opacity="0.24"/>
<circle cx="741.1" cy="200.2" r="2.9" fill="url(#gO)" opacity=".45"/>
<circle cx="770" cy="201.8" r="2.9" fill="url(#gO)" opacity=".45"/>
<circle cx="799" cy="203.6" r="2.9" fill="url(#gO)" opacity=".45"/>
<circle cx="828.1" cy="205.1" r="2.9" fill="url(#gO)" opacity=".45"/>
<circle cx="851" cy="201.9" r="2.9" fill="url(#gO)" opacity=".45"/>
<circle cx="735.7" cy="191.8" r="5.2" fill="url(#gNi2)" />
<circle cx="764.6" cy="193.4" r="5.2" fill="url(#gNi2)" />
<circle cx="793.6" cy="195.2" r="5.2" fill="url(#gNi2)" />
<circle cx="822.7" cy="196.7" r="5.2" fill="url(#gNi2)" />
<circle cx="845.6" cy="193.5" r="5.2" fill="url(#gNi2)" />
<circle cx="747" cy="176.1" r="2.9" fill="url(#gO)" />
<circle cx="775.9" cy="177.7" r="2.9" fill="url(#gO)" />
<circle cx="804.9" cy="179.4" r="2.9" fill="url(#gO)" />
<circle cx="834" cy="180.9" r="2.9" fill="url(#gO)" />
<circle cx="834" cy="180.9" r="2.9" fill="url(#gO)" />
<circle cx="840.2" cy="186" r="2.9" fill="url(#gO)" />
<circle cx="857.2" cy="207.2" r="2.9" fill="url(#gO)" />
<circle cx="862.9" cy="182.4" r="2.9" fill="url(#gO)" />
<circle cx="857.2" cy="207.2" r="2.9" fill="url(#gO)" />
<circle cx="724.1" cy="179.2" r="2.9" fill="url(#gO)" />
<circle cx="730.3" cy="184.3" r="2.9" fill="url(#gO)" />
<circle cx="747.3" cy="205.5" r="2.9" fill="url(#gO)" />
<circle cx="753" cy="180.8" r="2.9" fill="url(#gO)" />
<circle cx="759.2" cy="185.9" r="2.9" fill="url(#gO)" />
<circle cx="776.2" cy="207.1" r="2.9" fill="url(#gO)" />
<circle cx="782" cy="182.6" r="2.9" fill="url(#gO)" />
<circle cx="788.2" cy="187.7" r="2.9" fill="url(#gO)" />
<circle cx="805.2" cy="208.9" r="2.9" fill="url(#gO)" />
<circle cx="811.1" cy="184.1" r="2.9" fill="url(#gO)" />
<circle cx="817.3" cy="189.2" r="2.9" fill="url(#gO)" />
<circle cx="834.3" cy="210.4" r="2.9" fill="url(#gO)" />
<circle cx="718.3" cy="203.9" r="2.9" fill="url(#gO)" />
<circle cx="834.3" cy="210.4" r="2.9" fill="url(#gO)" />
<circle cx="753.7" cy="67.7" r="4.1" fill="url(#gLi)" />
<circle cx="782.4" cy="69.6" r="4.1" fill="url(#gLi)" />
<circle cx="811" cy="71.2" r="4.1" fill="url(#gLi)" />
<circle cx="840.2" cy="73.1" r="4.1" fill="url(#gLi)" />
<circle cx="735.7" cy="118.2" r="4.1" fill="url(#gLi)" />
<circle cx="758.5" cy="114.7" r="4.1" fill="url(#gLi)" />
<circle cx="765" cy="119.6" r="4.1" fill="url(#gLi)" />
<circle cx="787.3" cy="116.6" r="4.1" fill="url(#gLi)" />
<circle cx="793.5" cy="121.4" r="4.1" fill="url(#gLi)" />
<circle cx="816.3" cy="118.2" r="4.1" fill="url(#gLi)" />
<circle cx="822.7" cy="122.8" r="4.1" fill="url(#gLi)" />
<circle cx="845.8" cy="119.6" r="4.1" fill="url(#gLi)" />
<circle cx="770.4" cy="166.3" r="4.1" fill="url(#gLi)" />
<circle cx="799.4" cy="167.9" r="4.1" fill="url(#gLi)" />
<circle cx="828.4" cy="169.8" r="4.1" fill="url(#gLi)" />
<rect x="735.7" y="43.8" width="29.3" height="150.2" fill="none" stroke="#3b8de0" stroke-width="1.8" stroke-dasharray="5.5 3.5"/>
<text x="796" y="20" font-size="14.7" text-anchor="middle" ><tspan font-style="italic">R</tspan>-3<tspan font-style="italic">m</tspan></text>
<text x="887" y="105" font-size="15.8" >Li<tspan baseline-shift="5.5" font-size="66%">+</tspan></text>
<line x1="873" y1="87" x2="854.5" y2="78.7" stroke="#000" stroke-width="1.5" />
<polygon points="849.5,76.5 856.6,76.6 854.3,81.7" fill="#000" />
<line x1="841" y1="147.6" x2="916" y2="147.6" stroke="#000" stroke-width="1.5" stroke-dasharray="14 4 2 4"/>
<line x1="841" y1="194.8" x2="916" y2="194.8" stroke="#000" stroke-width="1.5" stroke-dasharray="14 4 2 4"/>
<line x1="866" y1="153.4" x2="866" y2="189" stroke="#000" stroke-width="1.5" />
<polygon points="866,148.4 862.8,155.4 869.2,155.4" fill="#000" />
<polygon points="866,194 862.8,187 869.2,187" fill="#000" />
<text x="873" y="177.5" font-size="15.9" ><tspan font-style="italic">d</tspan> = 4.73 Å</text>
<text x="805" y="237.5" font-size="15.8" text-anchor="middle" >LiNi<tspan baseline-shift="-3" font-size="68%">0.83</tspan>Co<tspan baseline-shift="-3" font-size="68%">0.05</tspan>Mn<tspan baseline-shift="-3" font-size="68%">0.12</tspan>O<tspan baseline-shift="-3" font-size="68%">2</tspan></text>
<text x="805" y="256.5" font-size="15.9" text-anchor="middle" >(LS-NCM)</text>
<line x1="919" y1="247.6" x2="919" y2="220.1" stroke="#8a5571" stroke-width="2.2" />
<polygon points="919,213.6 922.6,221.1 915.4,221.1" fill="#8a5571" />
<line x1="919" y1="247.6" x2="902.4" y2="250.3" stroke="#9db7de" stroke-width="2.2" />
<polygon points="896,251.3 902.8,246.6 904,253.7" fill="#9db7de" />
<line x1="919" y1="247.6" x2="937.5" y2="248" stroke="#f2b67c" stroke-width="2.2" />
<polygon points="944,248.1 936.4,251.5 936.6,244.4" fill="#f2b67c" />
<circle cx="919" cy="247.6" r="3.2" fill="#fff" stroke="#b7cbe6" stroke-width="1"/>
<text x="878.5" y="260.5" font-size="15" font-weight="bold" font-style="italic" >a</text>
<text x="947.5" y="263.5" font-size="15" font-weight="bold" font-style="italic" >b</text>
<text x="917.5" y="209.5" font-size="15" font-weight="bold" font-style="italic" >c</text>
</g>
<g id="panel-b">
<text x="3.2" y="298.8" font-size="24" font-weight="bold" >b</text>
<line x1="88.3" y1="306" x2="88.3" y2="506.8" stroke="#222" stroke-width="1.3" />
<line x1="87.6" y1="506.2" x2="431" y2="506.2" stroke="#222" stroke-width="1.3" />
<line x1="455" y1="506.2" x2="786" y2="506.2" stroke="#222" stroke-width="1.3" />
<line x1="810" y1="506.2" x2="880" y2="506.2" stroke="#222" stroke-width="1.3" />
<line x1="430" y1="514.5" x2="443.2" y2="497" stroke="#222" stroke-width="1.3" />
<line x1="443" y1="514.5" x2="455.6" y2="497" stroke="#222" stroke-width="1.3" />
<line x1="785.5" y1="514.5" x2="798" y2="497" stroke="#222" stroke-width="1.3" />
<line x1="798" y1="514.5" x2="810.5" y2="497" stroke="#222" stroke-width="1.3" />
<line x1="78.3" y1="319.5" x2="88.3" y2="319.5" stroke="#222" stroke-width="1.3" />
<text x="68.5" y="325.1" font-size="15.8" text-anchor="end" fill="#222" >−234</text>
<line x1="78.3" y1="399.6" x2="88.3" y2="399.6" stroke="#222" stroke-width="1.3" />
<text x="68.5" y="405.2" font-size="15.8" text-anchor="end" fill="#222" >−240</text>
<line x1="78.3" y1="479.4" x2="88.3" y2="479.4" stroke="#222" stroke-width="1.3" />
<text x="68.5" y="485" font-size="15.8" text-anchor="end" fill="#222" >−246</text>
<line x1="82.8" y1="359.3" x2="88.3" y2="359.3" stroke="#222" stroke-width="1.3" />
<line x1="82.8" y1="439.3" x2="88.3" y2="439.3" stroke="#222" stroke-width="1.3" />
<line x1="174.8" y1="506.2" x2="174.8" y2="515.7" stroke="#222" stroke-width="1.3" />
<text x="174.8" y="538.3" font-size="15.8" text-anchor="middle" fill="#222" >0</text>
<line x1="348" y1="506.2" x2="348" y2="515.7" stroke="#222" stroke-width="1.3" />
<text x="348" y="538.3" font-size="15.8" text-anchor="middle" fill="#222" >1/12</text>
<line x1="590.5" y1="506.2" x2="590.5" y2="515.7" stroke="#222" stroke-width="1.3" />
<text x="590.5" y="538.3" font-size="15.8" text-anchor="middle" fill="#222" >0.5</text>
<line x1="823.8" y1="506.2" x2="823.8" y2="515.7" stroke="#222" stroke-width="1.3" />
<text x="823.8" y="538.3" font-size="15.8" text-anchor="middle" fill="#222" >1</text>
<text transform="translate(17.5,406) rotate(-90)" font-size="20" text-anchor="middle" fill="#222">E<tspan baseline-shift="-3.5" font-size="68%">sys</tspan> (eV)</text>
<text x="482" y="557.8" font-size="20.2" text-anchor="middle" fill="#222" >x in NiOOH<tspan baseline-shift="-4" font-size="66%">1-x</tspan>Li<tspan baseline-shift="-4" font-size="66%">x</tspan></text>
<line x1="190.2" y1="342" x2="332.9" y2="329.7" stroke="#2e7fc0" stroke-width="5.2" stroke-linecap="round"/>
<line x1="364.5" y1="331.6" x2="431" y2="344" stroke="#2e7fc0" stroke-width="5.2" stroke-linecap="round"/>
<line x1="449.1" y1="347.4" x2="573.6" y2="370.7" stroke="#2e7fc0" stroke-width="5.2" stroke-linecap="round"/>
<line x1="606.9" y1="378.4" x2="789.8" y2="428.7" stroke="#2e7fc0" stroke-width="5.2" stroke-linecap="round"/>
<line x1="807.4" y1="433.5" x2="814.4" y2="435.4" stroke="#2e7fc0" stroke-width="5.2" stroke-linecap="round"/>
<polygon points="174.6,331.8 185.5,339.7 181.4,352.6 167.8,352.6 163.7,339.7" fill="#8eb2da" stroke="#3a7fa6" stroke-width="4" stroke-linejoin="round"/>
<polygon points="347.6,316.9 358.5,324.8 354.4,337.7 340.8,337.7 336.7,324.8" fill="#8eb2da" stroke="#3a7fa6" stroke-width="4" stroke-linejoin="round"/>
<polygon points="589.3,362.1 600.2,370 596.1,382.9 582.5,382.9 578.4,370" fill="#8eb2da" stroke="#3a7fa6" stroke-width="4" stroke-linejoin="round"/>
<polygon points="823.8,426.5 834.7,434.4 830.6,447.3 817,447.3 812.9,434.4" fill="#8eb2da" stroke="#3a7fa6" stroke-width="4" stroke-linejoin="round"/>
<line x1="613" y1="316.3" x2="651" y2="316.3" stroke="#2e7fc0" stroke-width="5.2" stroke-linecap="round"/>
<polygon points="631.5,307.3 640.5,313.9 637.1,324.5 625.9,324.5 622.5,313.9" fill="#8eb2da" stroke="#3a7fa6" stroke-width="4" stroke-linejoin="round"/>
<text x="661" y="322.5" font-size="16.4" fill="#222" >System Energy</text>
<text transform="translate(265,322) rotate(-5)" font-size="16" text-anchor="middle" fill="#222">ΔG = -0.378 eV</text>
<text transform="translate(475,340.5) rotate(10.7)" font-size="16" text-anchor="middle" fill="#222">ΔG = -11.083 eV</text>
<text transform="translate(701.5,388.5) rotate(15.4)" font-size="16" text-anchor="middle" fill="#222">ΔG = -24.713 eV</text>
<polygon points="150.8,360.3 213,360.3 203.1,386 140.9,386" fill="#a9bbd0" opacity=".92"/>
<polygon points="181.9,360.3 213,360.3 203.1,386 172,386" fill="#b9c8da" opacity=".55"/>
<circle cx="161.4" cy="373.2" r="6.2" fill="url(#gNi2)" />
<circle cx="192.5" cy="373.2" r="6.2" fill="url(#gNi2)" />
<polygon points="140.9,416.1 203.1,416.1 193.2,441.3 131,441.3" fill="#a9bbd0" opacity=".92"/>
<polygon points="172,416.1 203.1,416.1 193.2,441.3 162.1,441.3" fill="#b9c8da" opacity=".55"/>
<circle cx="151.5" cy="428.7" r="6.2" fill="url(#gNi2)" />
<circle cx="182.6" cy="428.7" r="6.2" fill="url(#gNi2)" />
<line x1="140.9" y1="386" x2="140.9" y2="416.1" stroke="#e7b9c3" stroke-width="1.6" />
<line x1="172" y1="386" x2="172" y2="416.1" stroke="#e7b9c3" stroke-width="1.6" />
<line x1="203.1" y1="386" x2="203.1" y2="416.1" stroke="#e7b9c3" stroke-width="1.6" />
<rect x="172.8" y="385.6" width="30.5" height="30" fill="#f3dfe7" stroke="#a04a6c" stroke-width="1.7"/>
<circle cx="140.9" cy="401" r="1.8" fill="url(#gH)" />
<circle cx="172" cy="401" r="1.8" fill="url(#gH)" />
<circle cx="203.1" cy="401" r="1.8" fill="url(#gH)" />
<circle cx="150.8" cy="360.3" r="3.4" fill="url(#gO)" />
<circle cx="181.9" cy="360.3" r="3.4" fill="url(#gO)" />
<circle cx="213" cy="360.3" r="3.4" fill="url(#gO)" />
<circle cx="140.9" cy="386" r="3.4" fill="url(#gO)" />
<circle cx="172" cy="386" r="3.4" fill="url(#gO)" />
<circle cx="203.1" cy="386" r="3.4" fill="url(#gO)" />
<circle cx="140.9" cy="416.1" r="3.4" fill="url(#gO)" />
<circle cx="172" cy="416.1" r="3.4" fill="url(#gO)" />
<circle cx="203.1" cy="416.1" r="3.4" fill="url(#gO)" />
<circle cx="131" cy="441.3" r="3.4" fill="url(#gO)" />
<circle cx="162.1" cy="441.3" r="3.4" fill="url(#gO)" />
<circle cx="193.2" cy="441.3" r="3.4" fill="url(#gO)" />
<text x="168" y="460.8" font-size="15.8" text-anchor="middle" fill="#222" >NiOOH</text>
<polygon points="329.2,347.6 391.4,347.6 381.5,374.2 319.3,374.2" fill="#a9bbd0" opacity=".92"/>
<polygon points="360.3,347.6 391.4,347.6 381.5,374.2 350.4,374.2" fill="#b9c8da" opacity=".55"/>
<circle cx="339.8" cy="360.9" r="6.2" fill="url(#gNi2)" />
<circle cx="370.9" cy="360.9" r="6.2" fill="url(#gNi2)" />
<polygon points="320.4,404.4 382.6,404.4 373.4,431 311.2,431" fill="#a9bbd0" opacity=".92"/>
<polygon points="351.5,404.4 382.6,404.4 373.4,431 342.3,431" fill="#b9c8da" opacity=".55"/>
<circle cx="331.3" cy="417.7" r="6.2" fill="url(#gNi2)" />
<circle cx="362.4" cy="417.7" r="6.2" fill="url(#gNi2)" />
<line x1="319.5" y1="374.2" x2="320.3" y2="404.4" stroke="#e7b9c3" stroke-width="1.6" />
<line x1="351.6" y1="374.2" x2="352.4" y2="404.4" stroke="#e7b9c3" stroke-width="1.6" />
<line x1="382.5" y1="374.2" x2="383.3" y2="404.4" stroke="#e7b9c3" stroke-width="1.6" />
<circle cx="349.3" cy="389.3" r="4.2" fill="url(#gLi)" />
<rect x="351.8" y="373.2" width="31" height="30.8" fill="#f3dfe7" stroke="#a04a6c" stroke-width="1.7"/>
<circle cx="319.9" cy="389" r="1.8" fill="url(#gH)" />
<circle cx="351.5" cy="389" r="1.8" fill="url(#gH)" />
<circle cx="382.9" cy="389" r="1.8" fill="url(#gH)" />
<circle cx="329.2" cy="347.6" r="3.4" fill="url(#gO)" />
<circle cx="360.3" cy="347.6" r="3.4" fill="url(#gO)" />
<circle cx="391.4" cy="347.6" r="3.4" fill="url(#gO)" />
<circle cx="319.3" cy="374.2" r="3.4" fill="url(#gO)" />
<circle cx="350.4" cy="374.2" r="3.4" fill="url(#gO)" />
<circle cx="381.5" cy="374.2" r="3.4" fill="url(#gO)" />
<circle cx="320.4" cy="404.4" r="3.4" fill="url(#gO)" />
<circle cx="351.5" cy="404.4" r="3.4" fill="url(#gO)" />
<circle cx="382.6" cy="404.4" r="3.4" fill="url(#gO)" />
<circle cx="311.2" cy="431" r="3.4" fill="url(#gO)" />
<circle cx="342.3" cy="431" r="3.4" fill="url(#gO)" />
<circle cx="373.4" cy="431" r="3.4" fill="url(#gO)" />
<circle cx="331" cy="348.8" r="2.9" fill="url(#gO)" />
<circle cx="354" cy="375.5" r="2.9" fill="url(#gO)" opacity=".45"/>
<circle cx="355" cy="409" r="2.9" fill="url(#gO)" />
<text x="355.2" y="448.7" font-size="15.7" text-anchor="middle" fill="#222" >NiOOH<tspan baseline-shift="-3" font-size="68%">11/12</tspan>Li<tspan baseline-shift="-3" font-size="68%">1/12</tspan></text>
<polygon points="566.9,393.6 628.4,393.6 618.2,418.7 556.7,418.7" fill="#a9bbd0" opacity=".92"/>
<polygon points="597.6,393.6 628.4,393.6 618.2,418.7 587.5,418.7" fill="#b9c8da" opacity=".55"/>
<circle cx="577.2" cy="406.1" r="6.2" fill="url(#gNi2)" />
<circle cx="607.9" cy="406.1" r="6.2" fill="url(#gNi2)" />
<polygon points="556.7,418.7 618.2,418.7 609.4,449.3 547.9,449.3" fill="#e2ede2" />
<polygon points="547.9,449.3 609.4,449.3 598.5,475.1 537,475.1" fill="#a9bbd0" opacity=".92"/>
<polygon points="578.6,449.3 609.4,449.3 598.5,475.1 567.8,475.1" fill="#b9c8da" opacity=".55"/>
<circle cx="557.8" cy="462.2" r="6.2" fill="url(#gNi2)" />
<circle cx="588.6" cy="462.2" r="6.2" fill="url(#gNi2)" />
<polygon points="587.9,420.1 617.1,420.1 609,447.3 580.5,447.3" fill="#d7d5d1" stroke="#a04a6c" stroke-width="1.8" stroke-linejoin="round"/>
<circle cx="568.6" cy="433.7" r="4.6" fill="url(#gLi)" />
<circle cx="599.2" cy="434.1" r="4.6" fill="url(#gLi)" />
<circle cx="554.6" cy="432" r="1.9" fill="url(#gH)" />
<circle cx="581.8" cy="435.4" r="1.9" fill="url(#gH)" />
<circle cx="566.9" cy="393.6" r="3.6" fill="url(#gO)" />
<circle cx="597.6" cy="393.6" r="3.6" fill="url(#gO)" />
<circle cx="628.4" cy="393.6" r="3.6" fill="url(#gO)" />
<circle cx="556.7" cy="418.7" r="3.6" fill="url(#gO)" />
<circle cx="587.5" cy="418.7" r="3.6" fill="url(#gO)" />
<circle cx="618.2" cy="418.7" r="3.6" fill="url(#gO)" />
<circle cx="547.9" cy="449.3" r="3.6" fill="url(#gO)" />
<circle cx="578.6" cy="449.3" r="3.6" fill="url(#gO)" />
<circle cx="609.4" cy="449.3" r="3.6" fill="url(#gO)" />
<circle cx="537" cy="475.1" r="3.6" fill="url(#gO)" />
<circle cx="567.8" cy="475.1" r="3.6" fill="url(#gO)" />
<circle cx="598.5" cy="475.1" r="3.6" fill="url(#gO)" />
<circle cx="557.4" cy="422.3" r="3.4" fill="url(#gO)" />
<circle cx="619" cy="422.5" r="3.4" fill="url(#gO)" />
<text x="573.3" y="494.2" font-size="15.7" text-anchor="middle" fill="#222" >NiOOH<tspan baseline-shift="-3" font-size="68%">0.5</tspan>Li<tspan baseline-shift="-3" font-size="68%">0.5</tspan></text>
<polygon points="828.2,308.6 891,308.6 880.4,335.1 817.6,335.1" fill="#a9bbd0" opacity=".92"/>
<polygon points="859.6,308.6 891,308.6 880.4,335.1 849,335.1" fill="#b9c8da" opacity=".55"/>
<circle cx="838.6" cy="321.9" r="6.2" fill="url(#gNi2)" />
<circle cx="870" cy="321.9" r="6.2" fill="url(#gNi2)" />
<polygon points="817.6,335.1 880.4,335.1 867.9,365 805.1,365" fill="#e2ede2" />
<polygon points="805.1,365 867.9,365 857.1,391.5 794.3,391.5" fill="#a9bbd0" opacity=".92"/>
<polygon points="836.5,365 867.9,365 857.1,391.5 825.7,391.5" fill="#b9c8da" opacity=".55"/>
<circle cx="815.4" cy="378.2" r="6.2" fill="url(#gNi2)" />
<circle cx="846.8" cy="378.2" r="6.2" fill="url(#gNi2)" />
<polygon points="846.6,336.4 877.1,336.4 869,365.7 838.4,365.7" fill="#d7d5d1" stroke="#a04a6c" stroke-width="1.8" stroke-linejoin="round"/>
<circle cx="827.1" cy="350" r="4.6" fill="url(#gLi)" />
<circle cx="858.4" cy="350" r="4.6" fill="url(#gLi)" />
<circle cx="828.2" cy="308.6" r="3.6" fill="url(#gO)" />
<circle cx="859.6" cy="308.6" r="3.6" fill="url(#gO)" />
<circle cx="891" cy="308.6" r="3.6" fill="url(#gO)" />
<circle cx="817.6" cy="335.1" r="3.6" fill="url(#gO)" />
<circle cx="849" cy="335.1" r="3.6" fill="url(#gO)" />
<circle cx="880.4" cy="335.1" r="3.6" fill="url(#gO)" />
<circle cx="805.1" cy="365" r="3.6" fill="url(#gO)" />
<circle cx="836.5" cy="365" r="3.6" fill="url(#gO)" />
<circle cx="867.9" cy="365" r="3.6" fill="url(#gO)" />
<circle cx="794.3" cy="391.5" r="3.6" fill="url(#gO)" />
<circle cx="825.7" cy="391.5" r="3.6" fill="url(#gO)" />
<circle cx="857.1" cy="391.5" r="3.6" fill="url(#gO)" />
<circle cx="838.5" cy="365.3" r="3.4" fill="url(#gO)" />
<circle cx="870.5" cy="365.3" r="3.4" fill="url(#gO)" />
<circle cx="826.5" cy="391.5" r="3.4" fill="url(#gO)" />
<circle cx="797" cy="391.5" r="3.4" fill="url(#gO)" />
<text x="829" y="413.3" font-size="15.9" text-anchor="middle" fill="#222" >NiOOLi</text>
<line x1="914.5" y1="447.7" x2="914.5" y2="422.7" stroke="#8a5571" stroke-width="2" />
<polygon points="914.5,416.2 918.1,423.7 910.9,423.7" fill="#8a5571" />
<line x1="914.5" y1="447.7" x2="934.5" y2="448.2" stroke="#f2b67c" stroke-width="2" />
<polygon points="941,448.3 933.4,451.7 933.6,444.5" fill="#f2b67c" />
<circle cx="914.5" cy="447.7" r="3.2" fill="url(#gNi2)" />
<text x="899" y="464.5" font-size="14" font-weight="bold" font-style="italic" >a</text>
<text x="934.3" y="465.5" font-size="14" font-weight="bold" font-style="italic" >b</text>
<text x="922.5" y="418.5" font-size="14" font-weight="bold" font-style="italic" >c</text>
</g>
<g id="panel-c">
<text x="2.8" y="573" font-size="24" font-weight="bold" >c</text>
<clipPath id="clipc1"><rect x="41.3" y="575" width="294" height="125"/></clipPath>
<clipPath id="clipc2"><rect x="41.3" y="700.3" width="294" height="126.5"/></clipPath>
<line x1="267" y1="575" x2="267" y2="699.5" stroke="#a9c8ea" stroke-width="1.3" />
<g clip-path="url(#clipc1)">
<polyline points="41.3,656 41.9,656.1 42.5,656.1 43.1,656.2 43.7,656.2 44.3,656.3 44.9,656.3 45.5,656.3 46.1,656.4 46.7,656.4 47.3,656.5 47.9,656.5 48.5,656.5 49.1,656.6 49.7,656.6 50.3,656.7 50.9,656.7 51.5,656.7 52.1,656.8 52.7,656.8 53.3,656.8 53.9,656.9 54.5,656.9 55.1,657 55.7,657 56.3,657 56.9,657 57.5,657.1 58.1,657.1 58.7,657.1 59.3,657.2 59.9,657.2 60.5,657.2 61.1,657.3 61.7,657.3 62.3,657.3 62.9,657.3 63.5,657.4 64.1,657.4 64.7,657.4 65.3,657.5 65.9,657.5 66.5,657.5 67.1,657.5 67.7,657.6 68.3,657.6 68.9,657.6 69.5,657.6 70.1,657.7 70.7,657.7 71.3,657.7 71.9,657.7 72.5,657.7 73.1,657.8 73.7,657.8 74.3,657.8 74.9,657.8 75.5,657.8 76.1,657.9 76.7,657.9 77.3,657.9 77.9,657.9 78.5,657.9 79.1,658 79.7,658 80.3,658.4 80.9,658.7 81.5,658.6 82.1,658.1 82.7,658.1 83.3,658.1 83.9,658.1 84.5,658.1 85.1,658.8 85.7,659 86.3,659.1 86.9,659 87.5,658.8 88.1,658.2 88.7,658.2 89.3,658.2 89.9,658.3 90.5,658.3 91.1,658.4 91.7,658.3 92.3,658.3 92.9,658.3 93.5,658.3 94.1,659.1 94.7,659.4 95.3,659.5 95.9,659.5 96.5,659.6 97.1,659.6 97.7,659.5 98.3,659.4 98.9,659 99.5,658.5 100.1,658.5 100.7,658.5 101.3,658.5 101.9,658.5 102.5,658.5 103.1,658.5 103.7,658.5 104.3,658.6 104.9,659 105.5,658.6 106.1,658.6 106.7,658.6 107.3,658.8 107.9,659.6 108.5,659.8 109.1,659.9 109.7,659.9 110.3,660 110.9,660 111.5,660 112.1,660 112.7,660 113.3,660 113.9,660 114.5,659.9 115.1,659.8 115.7,659.5 116.3,658.7 116.9,658.7 117.5,658.7 118.1,658.7 118.7,659.5 119.3,659.8 119.9,659.9 120.5,660 121.1,660 121.7,659.9 122.3,659.7 122.9,658.8 123.5,658.8 124.1,658.8 124.7,658.8 125.3,659.7 125.9,660 126.5,660.1 127.1,660.1 127.7,660.2 128.3,660.2 128.9,660.2 129.5,660.2 130.1,660.2 130.7,660.2 131.3,660.2 131.9,660.2 132.5,660.1 133.1,660 133.7,659.7 134.3,658.9 134.9,658.9 135.5,658.9 136.1,658.9 136.7,659.2 137.3,659.5 137.9,659.2 138.5,658.9 139.1,658.9 139.7,658.9 140.3,658.9 140.9,658.9 141.5,658.9 142.1,658.9 142.7,658.9 143.3,659.8 143.9,660.1 144.5,660.2 145.1,660.2 145.7,660.2 146.3,660.2 146.9,660 147.5,659.5 148.1,659 148.7,659 149.3,659 149.9,660 150.5,660.2 151.1,660.3 151.7,660.4 152.3,660.4 152.9,660.5 153.5,660.5 154.1,660.5 154.7,660.5 155.3,660.5 155.9,660.5 156.5,660.5 157.1,660.5 157.7,660.5 158.3,660.5 158.9,660.5 159.5,660.5 160.1,660.5 160.7,660.5 161.3,660.5 161.9,660.5 162.5,660.5 163.1,660.5 163.7,660.5 164.3,660.4 164.9,660.4 165.5,660.4 166.1,660.3 166.7,660.1 167.3,659.8 167.9,659.1 168.5,659.1 169.1,659.1 169.7,659.1 170.3,659.1 170.9,659.5 171.5,659.9 172.1,660.1 172.7,660.2 173.3,660.3 173.9,660.3 174.5,660.2 175.1,660.2 175.7,660.1 176.3,659.9 176.9,659.4 177.5,659.1 178.1,659.1 178.7,659.1 179.3,659.1 179.9,659.1 180.5,659.1 181.1,659.1 181.7,659.1 182.3,659.5 182.9,660 183.5,660.2 184.1,660.3 184.7,660.4 185.3,660.4 185.9,660.5 186.5,660.5 187.1,660.5 187.7,660.5 188.3,660.5 188.9,660.5 189.5,660.5 190.1,660.5 190.7,660.5 191.3,660.5 191.9,660.5 192.5,660.5 193.1,660.5 193.7,660.5 194.3,660.5 194.9,660.4 195.5,660.3 196.1,660.2 196.7,659.9 197.3,659.1 197.9,659.1 198.5,659.1 199.1,659.1 199.7,659.1 200.3,659.8 200.9,660.2 201.5,660.3 202.1,660.4 202.7,660.5 203.3,660.5 203.9,660.6 204.5,660.6 205.1,660.6 205.7,660.6 206.3,660.6 206.9,660.6 207.5,660.6 208.1,660.6 208.7,660.6 209.3,660.6 209.9,660.6 210.5,660.6 211.1,660.6 211.7,660.7 212.3,660.7 212.9,660.7 213.5,660.7 214.1,660.7 214.7,660.7 215.3,660.7 215.9,660.7 216.5,660.7 217.1,660.7 217.7,660.7 218.3,660.7 218.9,660.7 219.5,660.7 220.1,660.7 220.7,660.7 221.3,660.7 221.9,660.7 222.5,660.7 223.1,660.7 223.7,660.7 224.3,660.7 224.9,660.7 225.5,660.7 226.1,660.7 226.7,660.7 227.3,660.7 227.9,660.7 228.5,660.7 229.1,660.7 229.7,660.7 230.3,660.7 230.9,660.7 231.5,660.7 232.1,660.7 232.7,660.7 233.3,660.7 233.9,660.7 234.5,660.7 235.1,660.7 235.7,660.7 236.3,660.7 236.9,660.6 237.5,660.6 238.1,660.6 238.7,660.6 239.3,660.6 239.9,660.5 240.5,660.4 241.1,660.1 241.7,659.2 242.3,659.2 242.9,659.2 243.5,660.1 244.1,660.4 244.7,660.5 245.3,660.6 245.9,660.6 246.5,660.6 247.1,660.6 247.7,660.7 248.3,660.7 248.9,660.7 249.5,660.7 250.1,660.7 250.7,660.7 251.3,660.7 251.9,660.7 252.5,660.7 253.1,660.7 253.7,660.7 254.3,660.7 254.9,660.6 255.5,660.6 256.1,660.6 256.7,660.6 257.3,660.6 257.9,660.6 258.5,660.6 259.1,660.5 259.7,660.5 260.3,660.5 260.9,660.4 261.5,660.4 262.1,660.3 262.7,660.2 263.3,660 263.9,659.7 264.5,659.2 265.1,659.2 265.7,659.2 266.3,659.2 266.9,659.2 267.5,659.2 268.1,659.2 268.7,659.2 269.3,659.2 269.9,659.6 270.5,659.9 271.1,660.1 271.7,660.3 272.3,660.4 272.9,660.4 273.5,660.5 274.1,660.5 274.7,660.5 275.3,660.6 275.9,660.6 276.5,660.6 277.1,660.6 277.7,660.6 278.3,660.6 278.9,660.6 279.5,660.6 280.1,660.7 280.7,660.7 281.3,660.7 281.9,660.7 282.5,660.7 283.1,660.7 283.7,660.7 284.3,660.7 284.9,660.7 285.5,660.7 286.1,660.7 286.7,660.7 287.3,660.7 287.9,660.7 288.5,660.7 289.1,660.7 289.7,660.7 290.3,660.7 290.9,660.7 291.5,660.7 292.1,660.7 292.7,660.7 293.3,660.7 293.9,660.7 294.5,660.7 295.1,660.7 295.7,660.7 296.3,660.7 296.9,660.7 297.5,660.7 298.1,660.7 298.7,660.7 299.3,660.7 299.9,660.7 300.5,660.7 301.1,660.7 301.7,660.7 302.3,660.7 302.9,660.7 303.5,660.7 304.1,660.7 304.7,660.7 305.3,660.7 305.9,660.7 306.5,660.7 307.1,660.7 307.7,660.7 308.3,660.7 308.9,660.6 309.5,660.6 310.1,660.6 310.7,660.4 311.3,659.6 311.9,659.2 312.5,659.2 313.1,660.1 313.7,660.5 314.3,660.6 314.9,660.6 315.5,660.6 316.1,660.6 316.7,660.6 317.3,660.6 317.9,660.6 318.5,660.6 319.1,660.6 319.7,660.6 320.3,660.6 320.9,660.6 321.5,660.6 322.1,660.6 322.7,660.5 323.3,660.5 323.9,660.4 324.5,660.3 325.1,660.1 325.7,659.5 326.3,659.2 326.9,659.2 327.5,659.2 328.1,659.2 328.7,659.4 329.3,660 329.9,660.3 330.5,660.4 331.1,660.5 331.7,660.5 332.3,660.6 332.9,660.6 333.5,660.6 334.1,660.6 334.7,660.6" fill="none" stroke="#6a9fd6" stroke-width="2.6" stroke-linejoin="round"/>
<polyline points="41.3,653.1 41.6,653.6 41.9,654.1 42.2,653 42.5,652.9 42.8,654.6 43.1,655.3 43.4,654.4 43.7,652.7 44,651.1 44.3,652.5 44.6,654.5 44.9,654.7 45.2,654.4 45.5,655.2 45.8,655.5 46.1,654.2 46.4,650.7 46.7,645.1 47,638.4 47.3,639.1 47.6,646.8 47.9,652 48.2,653.4 48.5,653.7 48.8,652.3 49.1,648.8 49.4,645.9 49.7,643.1 50,644.5 50.3,649.7 50.6,653.6 50.9,654.6 51.2,654.4 51.5,653.4 51.8,648.8 52.1,640.1 52.4,635.8 52.7,643.2 53,651.1 53.3,654.5 53.6,654.6 53.9,653 54.2,651.7 54.5,649.3 54.8,643.7 55.1,642.4 55.4,647.2 55.7,649 56,649.4 56.3,650.4 56.6,650.1 56.9,651.1 57.2,650.3 57.5,644.5 57.8,637.9 58.1,639.5 58.4,647.8 58.7,652.5 59,653.7 59.3,654.1 59.6,655 59.9,655.1 60.2,652.3 60.5,647.5 60.8,647 61.1,651 61.4,653.2 61.7,654.2 62,654.7 62.3,654 62.6,654 62.9,653.8 63.2,652.6 63.5,652.9 63.8,651.9 64.1,645.6 64.4,636.9 64.7,637.9 65,645.1 65.3,648.3 65.6,650.6 65.9,651.1 66.2,646.7 66.5,643.2 66.8,647.4 67.1,652.1 67.4,654.1 67.7,654.3 68,651.7 68.3,646.7 68.6,642.2 68.9,640.6 69.2,645.4 69.5,650.9 69.8,654 70.1,654.7 70.4,655.4 70.7,655.2 71,653.7 71.3,653.3 71.6,654.2 71.9,654.2 72.2,651.3 72.5,642.6 72.8,633.8 73.1,637 73.4,644.5 73.7,650.1 74,654.2 74.3,655.6 74.6,655.3 74.9,654.6 75.2,651.8 75.5,646.3 75.8,645.2 76.1,650.9 76.4,655.2 76.7,656.3 77,656.5 77.3,656.6 77.6,656.1 77.9,654.9 78.2,650.2 78.5,640.9 78.8,637.9 79.1,647.1 79.4,654.5 79.7,657.3 80,658.1 80.3,658.4 80.6,658.6 80.9,658.7 81.2,658.6 81.5,658.6 81.8,658.4 82.1,658 82.4,656.7 82.7,652.3 83,641.9 83.3,632.5 83.6,639.9 83.9,651.1 84.2,656.4 84.5,658 84.8,658.5 85.1,658.8 85.4,658.9 85.7,659 86,659.1 86.3,659.1 86.6,659.1 86.9,659 87.2,658.9 87.5,658.8 87.8,658.5 88.1,657.9 88.4,655.9 88.7,649.6 89,636.9 89.3,630.2 89.6,641.6 89.9,652.4 90.2,656.8 90.5,658 90.8,658.3 91.1,658.4 91.4,658.2 91.7,657.1 92,653.2 92.3,645.4 92.6,641.7 92.9,648.8 93.2,655.4 93.5,658 93.8,658.8 94.1,659.1 94.4,659.3 94.7,659.4 95,659.4 95.3,659.5 95.6,659.5 95.9,659.5 96.2,659.6 96.5,659.6 96.8,659.6 97.1,659.6 97.4,659.5 97.7,659.5 98,659.4 98.3,659.4 98.6,659.2 98.9,659 99.2,658.8 99.5,658.2 99.8,656.9 100.1,652.3 100.4,640.4 100.7,626.8 101,632.9 101.3,647.4 101.6,654.9 101.9,656.8 102.2,656.3 102.5,652.5 102.8,643.8 103.1,638.1 103.4,645.8 103.7,654.1 104,657.6 104.3,658.6 104.6,658.9 104.9,659 105.2,658.9 105.5,658.3 105.8,656.1 106.1,651.3 106.4,648.4 106.7,652.6 107,657 107.3,658.8 107.6,659.4 107.9,659.6 108.2,659.7 108.5,659.8 108.8,659.8 109.1,659.9 109.4,659.9 109.7,659.9 110,660 110.3,660 110.6,660 110.9,660 111.2,660 111.5,660 111.8,660 112.1,660 112.4,660 112.7,660 113,660 113.3,660 113.6,660 113.9,660 114.2,660 114.5,659.9 114.8,659.9 115.1,659.8 115.4,659.7 115.7,659.5 116,659.1 116.3,658.1 116.6,654.7 116.9,646.5 117.2,638.9 117.5,644.6 117.8,653.5 118.1,657.8 118.4,659 118.7,659.5 119,659.7 119.3,659.8 119.6,659.9 119.9,659.9 120.2,660 120.5,660 120.8,660 121.1,660 121.4,660 121.7,659.9 122,659.8 122.3,659.7 122.6,659.4 122.9,658.6 123.2,655.8 123.5,649.3 123.8,643.8 124.1,648.7 124.4,655.4 124.7,658.5 125,659.4 125.3,659.7 125.6,659.9 125.9,660 126.2,660.1 126.5,660.1 126.8,660.1 127.1,660.1 127.4,660.2 127.7,660.2 128,660.2 128.3,660.2 128.6,660.2 128.9,660.2 129.2,660.2 129.5,660.2 129.8,660.2 130.1,660.2 130.4,660.2 130.7,660.2 131,660.2 131.3,660.2 131.6,660.2 131.9,660.2 132.2,660.1 132.5,660.1 132.8,660 133.1,660 133.4,659.9 133.7,659.7 134,659.4 134.3,658.7 134.6,656.4 134.9,649.9 135.2,640.5 135.5,641.4 135.8,650.9 136.1,656.8 136.4,658.7 136.7,659.2 137,659.4 137.3,659.5 137.6,659.4 137.9,659.2 138.2,658.9 138.5,658.1 138.8,655.5 139.1,647.1 139.4,631.8 139.7,626.8 140,641.2 140.3,652.9 140.6,657.1 140.9,658.1 141.2,657.5 141.5,654.6 141.8,650.5 142.1,651.5 142.4,656 142.7,658.6 143,659.5 143.3,659.8 143.6,660 143.9,660.1 144.2,660.1 144.5,660.2 144.8,660.2 145.1,660.2 145.4,660.2 145.7,660.2 146,660.2 146.3,660.2 146.6,660.1 146.9,660 147.2,659.9 147.5,659.5 147.8,658.1 148.1,654.3 148.4,649.4 148.7,650.8 149,655.9 149.3,658.8 149.6,659.7 149.9,660 150.2,660.2 150.5,660.2 150.8,660.3 151.1,660.3 151.4,660.4 151.7,660.4 152,660.4 152.3,660.4 152.6,660.4 152.9,660.5 153.2,660.5 153.5,660.5 153.8,660.5 154.1,660.5 154.4,660.5 154.7,660.5 155,660.5 155.3,660.5 155.6,660.5 155.9,660.5 156.2,660.5 156.5,660.5 156.8,660.5 157.1,660.5 157.4,660.5 157.7,660.5 158,660.5 158.3,660.5 158.6,660.5 158.9,660.5 159.2,660.5 159.5,660.5 159.8,660.5 160.1,660.5 160.4,660.5 160.7,660.5 161,660.5 161.3,660.5 161.6,660.5 161.9,660.5 162.2,660.5 162.5,660.5 162.8,660.5 163.1,660.5 163.4,660.5 163.7,660.5 164,660.4 164.3,660.4 164.6,660.4 164.9,660.4 165.2,660.4 165.5,660.4 165.8,660.3 166.1,660.3 166.4,660.2 166.7,660.1 167,660 167.3,659.8 167.6,659.5 167.9,659.1 168.2,657.9 168.5,654.1 168.8,643.2 169.1,627.3 169.4,628.4 169.7,644.6 170,654.7 170.3,658.1 170.6,659.1 170.9,659.5 171.2,659.8 171.5,659.9 171.8,660.1 172.1,660.1 172.4,660.2 172.7,660.2 173,660.2 173.3,660.3 173.6,660.3 173.9,660.3 174.2,660.3 174.5,660.2 174.8,660.2 175.1,660.2 175.4,660.1 175.7,660.1 176,660 176.3,659.9 176.6,659.7 176.9,659.4 177.2,659 177.5,658.3 177.8,656.5 178.1,650.5 178.4,634.6 178.7,615.5 179,622.6 179.3,642.6 179.6,653 179.9,654.9 180.2,650.8 180.5,640.8 180.8,635.2 181.1,644.7 181.4,654 181.7,657.9 182,659.1 182.3,659.5 182.6,659.8 182.9,660 183.2,660.1 183.5,660.2 183.8,660.3 184.1,660.3 184.4,660.4 184.7,660.4 185,660.4 185.3,660.4 185.6,660.5 185.9,660.5 186.2,660.5 186.5,660.5 186.8,660.5 187.1,660.5 187.4,660.5 187.7,660.5 188,660.5 188.3,660.5 188.6,660.5 188.9,660.5 189.2,660.5 189.5,660.5 189.8,660.5 190.1,660.5 190.4,660.5 190.7,660.5 191,660.5 191.3,660.5 191.6,660.6 191.9,660.5 192.2,660.5 192.5,660.5 192.8,660.5 193.1,660.5 193.4,660.5 193.7,660.5 194,660.5 194.3,660.5 194.6,660.5 194.9,660.4 195.2,660.4 195.5,660.3 195.8,660.3 196.1,660.2 196.4,660.1 196.7,659.9 197,659.5 197.3,659 197.6,657.4 197.9,651.9 198.2,638.7 198.5,626.2 198.8,635.2 199.1,649.8 199.4,656.7 199.7,658.8 200,659.5 200.3,659.8 200.6,660 200.9,660.2 201.2,660.3 201.5,660.3 201.8,660.4 202.1,660.4 202.4,660.5 202.7,660.5 203,660.5 203.3,660.5 203.6,660.5 203.9,660.6 204.2,660.6 204.5,660.6 204.8,660.6 205.1,660.6 205.4,660.6 205.7,660.6 206,660.6 206.3,660.6 206.6,660.6 206.9,660.6 207.2,660.6 207.5,660.6 207.8,660.6 208.1,660.6 208.4,660.6 208.7,660.6 209,660.6 209.3,660.6 209.6,660.6 209.9,660.6 210.2,660.6 210.5,660.6 210.8,660.6 211.1,660.6 211.4,660.7 211.7,660.7 212,660.7 212.3,660.7 212.6,660.7 212.9,660.7 213.2,660.7 213.5,660.7 213.8,660.7 214.1,660.7 214.4,660.7 214.7,660.7 215,660.7 215.3,660.7 215.6,660.7 215.9,660.7 216.2,660.7 216.5,660.7 216.8,660.7 217.1,660.7 217.4,660.7 217.7,660.7 218,660.7 218.3,660.7 218.6,660.7 218.9,660.7 219.2,660.7 219.5,660.7 219.8,660.7 220.1,660.7 220.4,660.7 220.7,660.7 221,660.7 221.3,660.7 221.6,660.7 221.9,660.7 222.2,660.7 222.5,660.7 222.8,660.7 223.1,660.7 223.4,660.7 223.7,660.7 224,660.7 224.3,660.7 224.6,660.7 224.9,660.7 225.2,660.7 225.5,660.7 225.8,660.7 226.1,660.7 226.4,660.7 226.7,660.7 227,660.7 227.3,660.7 227.6,660.7 227.9,660.7 228.2,660.7 228.5,660.7 228.8,660.7 229.1,660.7 229.4,660.7 229.7,660.7 230,660.7 230.3,660.7 230.6,660.7 230.9,660.7 231.2,660.7 231.5,660.7 231.8,660.7 232.1,660.7 232.4,660.7 232.7,660.7 233,660.7 233.3,660.7 233.6,660.7 233.9,660.7 234.2,660.7 234.5,660.7 234.8,660.7 235.1,660.7 235.4,660.7 235.7,660.7 236,660.7 236.3,660.7 236.6,660.6 236.9,660.6 237.2,660.6 237.5,660.6 237.8,660.6 238.1,660.6 238.4,660.6 238.7,660.6 239,660.6 239.3,660.6 239.6,660.6 239.9,660.5 240.2,660.5 240.5,660.4 240.8,660.3 241.1,660.1 241.4,659.5 241.7,657.5 242,653 242.3,649.2 242.6,652.6 242.9,657.3 243.2,659.4 243.5,660.1 243.8,660.3 244.1,660.4 244.4,660.5 244.7,660.5 245,660.6 245.3,660.6 245.6,660.6 245.9,660.6 246.2,660.6 246.5,660.6 246.8,660.6 247.1,660.6 247.4,660.6 247.7,660.7 248,660.7 248.3,660.7 248.6,660.7 248.9,660.7 249.2,660.7 249.5,660.7 249.8,660.7 250.1,660.7 250.4,660.7 250.7,660.7 251,660.7 251.3,660.7 251.6,660.7 251.9,660.7 252.2,660.7 252.5,660.7 252.8,660.7 253.1,660.7 253.4,660.7 253.7,660.7 254,660.7 254.3,660.7 254.6,660.6 254.9,660.6 255.2,660.6 255.5,660.6 255.8,660.6 256.1,660.6 256.4,660.6 256.7,660.6 257,660.6 257.3,660.6 257.6,660.6 257.9,660.6 258.2,660.6 258.5,660.6 258.8,660.5 259.1,660.5 259.4,660.5 259.7,660.5 260,660.5 260.3,660.5 260.6,660.5 260.9,660.4 261.2,660.4 261.5,660.4 261.8,660.3 262.1,660.3 262.4,660.2 262.7,660.2 263,660.1 263.3,660 263.6,659.9 263.9,659.7 264.2,659.5 264.5,659.2 264.8,658.8 265.1,658.2 265.4,657.2 265.7,655.5 266,651.2 266.3,636.5 266.6,596.7 266.9,545.9 267.2,560.6 267.5,613.8 267.8,643.7 268.1,653.3 268.4,656.2 268.7,657.6 269,658.4 269.3,658.9 269.6,659.3 269.9,659.6 270.2,659.8 270.5,659.9 270.8,660 271.1,660.1 271.4,660.2 271.7,660.3 272,660.3 272.3,660.4 272.6,660.4 272.9,660.4 273.2,660.4 273.5,660.5 273.8,660.5 274.1,660.5 274.4,660.5 274.7,660.5 275,660.5 275.3,660.6 275.6,660.6 275.9,660.6 276.2,660.6 276.5,660.6 276.8,660.6 277.1,660.6 277.4,660.6 277.7,660.6 278,660.6 278.3,660.6 278.6,660.6 278.9,660.6 279.2,660.6 279.5,660.6 279.8,660.7 280.1,660.7 280.4,660.7 280.7,660.7 281,660.7 281.3,660.7 281.6,660.7 281.9,660.7 282.2,660.7 282.5,660.7 282.8,660.7 283.1,660.7 283.4,660.7 283.7,660.7 284,660.7 284.3,660.7 284.6,660.7 284.9,660.7 285.2,660.7 285.5,660.7 285.8,660.7 286.1,660.7 286.4,660.7 286.7,660.7 287,660.7 287.3,660.7 287.6,660.7 287.9,660.7 288.2,660.7 288.5,660.7 288.8,660.7 289.1,660.7 289.4,660.7 289.7,660.7 290,660.7 290.3,660.7 290.6,660.7 290.9,660.7 291.2,660.7 291.5,660.7 291.8,660.7 292.1,660.7 292.4,660.7 292.7,660.7 293,660.7 293.3,660.7 293.6,660.7 293.9,660.7 294.2,660.7 294.5,660.7 294.8,660.7 295.1,660.7 295.4,660.7 295.7,660.7 296,660.7 296.3,660.7 296.6,660.7 296.9,660.7 297.2,660.7 297.5,660.7 297.8,660.7 298.1,660.7 298.4,660.7 298.7,660.7 299,660.7 299.3,660.7 299.6,660.7 299.9,660.7 300.2,660.7 300.5,660.7 300.8,660.7 301.1,660.7 301.4,660.7 301.7,660.7 302,660.7 302.3,660.7 302.6,660.7 302.9,660.7 303.2,660.7 303.5,660.7 303.8,660.7 304.1,660.7 304.4,660.7 304.7,660.7 305,660.7 305.3,660.7 305.6,660.7 305.9,660.7 306.2,660.7 306.5,660.7 306.8,660.7 307.1,660.7 307.4,660.7 307.7,660.7 308,660.7 308.3,660.7 308.6,660.6 308.9,660.6 309.2,660.6 309.5,660.6 309.8,660.6 310.1,660.6 310.4,660.5 310.7,660.4 311,660.2 311.3,659.6 311.6,657.8 311.9,654.6 312.2,653.8 312.5,656.9 312.8,659.3 313.1,660.1 313.4,660.4 313.7,660.5 314,660.5 314.3,660.6 314.6,660.6 314.9,660.6 315.2,660.6 315.5,660.6 315.8,660.6 316.1,660.6 316.4,660.6 316.7,660.6 317,660.6 317.3,660.6 317.6,660.6 317.9,660.6 318.2,660.6 318.5,660.6 318.8,660.6 319.1,660.6 319.4,660.6 319.7,660.6 320,660.6 320.3,660.6 320.6,660.6 320.9,660.6 321.2,660.6 321.5,660.6 321.8,660.6 322.1,660.6 322.4,660.6 322.7,660.5 323,660.5 323.3,660.5 323.6,660.5 323.9,660.4 324.2,660.4 324.5,660.3 324.8,660.2 325.1,660.1 325.4,659.8 325.7,659.5 326,658.9 326.3,657.2 326.6,651.2 326.9,636.9 327.2,623.1 327.5,632.7 327.8,648.7 328.1,656.3 328.4,658.6 328.7,659.4 329,659.8 329.3,660 329.6,660.2 329.9,660.3 330.2,660.4 330.5,660.4 330.8,660.5 331.1,660.5 331.4,660.5 331.7,660.5 332,660.6 332.3,660.6 332.6,660.6 332.9,660.6 333.2,660.6 333.5,660.6 333.8,660.6 334.1,660.6 334.4,660.6 334.7,660.6 335,660.6" fill="none" stroke="#6a9fd6" stroke-width="0.9" stroke-linejoin="round"/>
<circle cx="47.1" cy="639.8" r="1.1" fill="#5b97d5" />
<circle cx="49.7" cy="648" r="1.1" fill="#5b97d5" />
<circle cx="52" cy="649.2" r="1.1" fill="#5b97d5" />
<circle cx="52.4" cy="638.4" r="1.1" fill="#5b97d5" />
<circle cx="55" cy="648.3" r="1.1" fill="#5b97d5" />
<circle cx="58" cy="640.5" r="1.1" fill="#5b97d5" />
<circle cx="60.6" cy="649.7" r="1.1" fill="#5b97d5" />
<circle cx="64.6" cy="640.8" r="1.1" fill="#5b97d5" />
<circle cx="66.5" cy="650.3" r="1.1" fill="#5b97d5" />
<circle cx="68.8" cy="643.9" r="1.1" fill="#5b97d5" />
<circle cx="72.5" cy="649.7" r="1.1" fill="#5b97d5" />
<circle cx="72.8" cy="638.3" r="1.1" fill="#5b97d5" />
<circle cx="75.8" cy="649.2" r="1.1" fill="#5b97d5" />
<circle cx="78.4" cy="649.9" r="1.1" fill="#5b97d5" />
<circle cx="78.7" cy="638.5" r="1.1" fill="#5b97d5" />
<circle cx="83" cy="646.1" r="1.1" fill="#5b97d5" />
<circle cx="83.3" cy="629.9" r="1.1" fill="#5b97d5" />
<circle cx="88.8" cy="649.9" r="1.1" fill="#5b97d5" />
<circle cx="89.5" cy="640" r="1.1" fill="#5b97d5" />
<circle cx="89.2" cy="627.2" r="1.1" fill="#5b97d5" />
<circle cx="92.2" cy="650.8" r="1.1" fill="#5b97d5" />
<circle cx="92.5" cy="639.9" r="1.1" fill="#5b97d5" />
<circle cx="100.3" cy="648.8" r="1.1" fill="#5b97d5" />
<circle cx="101" cy="637.6" r="1.1" fill="#5b97d5" />
<circle cx="100.8" cy="623" r="1.1" fill="#5b97d5" />
<circle cx="102.7" cy="649.3" r="1.1" fill="#5b97d5" />
<circle cx="103.1" cy="636.5" r="1.1" fill="#5b97d5" />
<circle cx="106.4" cy="647.4" r="1.1" fill="#5b97d5" />
<circle cx="116.9" cy="649.5" r="1.1" fill="#5b97d5" />
<circle cx="117.2" cy="636.7" r="1.1" fill="#5b97d5" />
<circle cx="123.8" cy="642.2" r="1.1" fill="#5b97d5" />
<circle cx="135" cy="649.7" r="1.1" fill="#5b97d5" />
<circle cx="135.3" cy="636.9" r="1.1" fill="#5b97d5" />
<circle cx="139.1" cy="648.9" r="1.1" fill="#5b97d5" />
<circle cx="139.8" cy="637.4" r="1.1" fill="#5b97d5" />
<circle cx="139.6" cy="622.4" r="1.1" fill="#5b97d5" />
<circle cx="141.9" cy="649.6" r="1.1" fill="#5b97d5" />
<circle cx="148.5" cy="647.8" r="1.1" fill="#5b97d5" />
<circle cx="168.7" cy="651.5" r="1.1" fill="#5b97d5" />
<circle cx="169.6" cy="642.5" r="1.1" fill="#5b97d5" />
<circle cx="169" cy="633.4" r="1.1" fill="#5b97d5" />
<circle cx="169.2" cy="620.7" r="1.1" fill="#5b97d5" />
<circle cx="178.1" cy="651.4" r="1.1" fill="#5b97d5" />
<circle cx="179.2" cy="642.2" r="1.1" fill="#5b97d5" />
<circle cx="178.5" cy="632.9" r="1.1" fill="#5b97d5" />
<circle cx="179" cy="623.7" r="1.1" fill="#5b97d5" />
<circle cx="178.8" cy="609.9" r="1.1" fill="#5b97d5" />
<circle cx="180.4" cy="648.3" r="1.1" fill="#5b97d5" />
<circle cx="180.8" cy="633.4" r="1.1" fill="#5b97d5" />
<circle cx="198.1" cy="649.1" r="1.1" fill="#5b97d5" />
<circle cx="198.8" cy="637.6" r="1.1" fill="#5b97d5" />
<circle cx="198.5" cy="622.6" r="1.1" fill="#5b97d5" />
<circle cx="242.3" cy="648" r="1.1" fill="#5b97d5" />
<circle cx="312.1" cy="652.7" r="1.1" fill="#5b97d5" />
<circle cx="326.7" cy="651.2" r="1.1" fill="#5b97d5" />
<circle cx="327.6" cy="641.8" r="1.1" fill="#5b97d5" />
<circle cx="327" cy="632.3" r="1.1" fill="#5b97d5" />
<circle cx="327.2" cy="619.1" r="1.1" fill="#5b97d5" />
<circle cx="265.8" cy="651.5" r="1.1" fill="#5b97d5" />
<circle cx="267.8" cy="642.2" r="1.1" fill="#5b97d5" />
<circle cx="266.4" cy="633" r="1.1" fill="#5b97d5" />
<circle cx="267.5" cy="623.8" r="1.1" fill="#5b97d5" />
<circle cx="266.6" cy="614.5" r="1.1" fill="#5b97d5" />
<circle cx="267.4" cy="605.3" r="1.1" fill="#5b97d5" />
<circle cx="266.7" cy="596.1" r="1.1" fill="#5b97d5" />
<circle cx="267.3" cy="586.8" r="1.1" fill="#5b97d5" />
<circle cx="266.8" cy="577.6" r="1.1" fill="#5b97d5" />
<circle cx="267.2" cy="568.4" r="1.1" fill="#5b97d5" />
<circle cx="266.9" cy="559.2" r="1.1" fill="#5b97d5" />
<circle cx="267.1" cy="549.9" r="1.1" fill="#5b97d5" />
<circle cx="267" cy="528.7" r="1.1" fill="#5b97d5" />
<polyline points="41.3,680.1 41.9,680.4 42.5,679.9 43.1,680.5 43.7,679.8 44.3,679.6 44.9,680.2 45.5,679.9 46.1,679.9 46.7,679.4 47.3,678.6 47.9,679.8 48.5,679.8 49.1,680 49.7,680.9 50.3,680.4 50.9,680.6 51.5,680.3 52.1,680.9 52.7,681.3 53.3,680.5 53.9,680.7 54.5,680.4 55.1,679.9 55.7,680.1 56.3,680.4 56.9,680.6 57.5,680.2 58.1,681.6 58.7,680.4 59.3,680.4 59.9,680.2 60.5,679.3 61.1,679.6 61.7,679.9 62.3,680 62.9,679.7 63.5,680 64.1,680.3 64.7,678.7 65.3,679.6 65.9,680.1 66.5,680.5 67.1,680 67.7,680.2 68.3,679.5 68.9,678.3 69.5,679.5 70.1,680.1 70.7,680.6 71.3,680.4 71.9,680 72.5,679.2 73.1,678.3 73.7,679.6 74.3,680.1 74.9,680.2 75.5,679.2 76.1,679.6 76.7,680 77.3,680.4 77.9,679.9 78.5,678.7 79.1,679.6 79.7,680.1 80.3,680.1 80.9,680.4 81.5,680.1 82.1,680 82.7,679.9 83.3,677.5 83.9,679.7 84.5,680.1 85.1,680.2 85.7,680.5 86.3,680.3 86.9,680.5 87.5,680.1 88.1,680.3 88.7,680.9 89.3,683.7 89.9,680.6 90.5,680.2 91.1,680.1 91.7,680.2 92.3,678.9 92.9,679.7 93.5,680.4 94.1,680.1 94.7,680.2 95.3,680.5 95.9,680.4 96.5,680.5 97.1,680.2 97.7,680.1 98.3,680.2 98.9,680.5 99.5,680.2 100.1,680.5 100.7,683.8 101.3,680.8 101.9,680.3 102.5,680.3 103.1,677.8 103.7,679.8 104.3,680.5 104.9,680.5 105.5,680.6 106.1,681 106.7,681.1 107.3,680.6 107.9,680.1 108.5,680.5 109.1,680.5 109.7,680.4 110.3,680.3 110.9,680.2 111.5,680.2 112.1,680.1 112.7,680 113.3,680.3 113.9,680.2 114.5,680.5 115.1,680 115.7,680.5 116.3,680.3 116.9,679.5 117.5,679.2 118.1,680.4 118.7,680.3 119.3,680 119.9,680.4 120.5,680.1 121.1,680.2 121.7,680.4 122.3,680.3 122.9,680.2 123.5,679.7 124.1,679.4 124.7,680.1 125.3,680.1 125.9,680.5 126.5,680.3 127.1,680.5 127.7,680.2 128.3,680.1 128.9,680.3 129.5,680.5 130.1,680.1 130.7,680.5 131.3,680.5 131.9,680.5 132.5,680.5 133.1,680 133.7,680.3 134.3,680.4 134.9,679.4 135.5,678.3 136.1,680 136.7,680.3 137.3,680.2 137.9,680.2 138.5,680.3 139.1,679.3 139.7,676.5 140.3,679.8 140.9,680 141.5,680.3 142.1,681.4 142.7,680.6 143.3,680.1 143.9,680.3 144.5,680.2 145.1,680.2 145.7,680.2 146.3,680.4 146.9,680.3 147.5,680.2 148.1,679.7 148.7,679.3 149.3,680 149.9,680.3 150.5,680.4 151.1,680.2 151.7,680 152.3,680.1 152.9,680.2 153.5,680.4 154.1,680.5 154.7,680.2 155.3,680.5 155.9,680.4 156.5,680.3 157.1,680.2 157.7,680.3 158.3,680.4 158.9,680.3 159.5,680.4 160.1,680.3 160.7,680.1 161.3,680.3 161.9,680.4 162.5,680 163.1,680.3 163.7,680.3 164.3,680.5 164.9,680.6 165.5,680.2 166.1,680.5 166.7,680.5 167.3,680.1 167.9,680.2 168.5,679.8 169.1,677.1 169.7,679.5 170.3,680.4 170.9,680.4 171.5,680.4 172.1,680.4 172.7,680.3 173.3,680.1 173.9,680.4 174.5,680 175.1,680.1 175.7,680.5 176.3,680.1 176.9,680.1 177.5,680.2 178.1,680.9 178.7,684.8 179.3,680.8 179.9,680.5 180.5,678.6 181.1,679.4 181.7,680.3 182.3,680.5 182.9,680.6 183.5,680.3 184.1,680.5 184.7,680 185.3,680.5 185.9,680.3 186.5,680.4 187.1,680.1 187.7,680.4 188.3,680.6 188.9,680 189.5,680.2 190.1,680.3 190.7,680.5 191.3,680.1 191.9,680.1 192.5,680.1 193.1,680.4 193.7,680.5 194.3,680.2 194.9,680.2 195.5,680.3 196.1,680.2 196.7,680.3 197.3,680.1 197.9,680.7 198.5,684.3 199.1,680.8 199.7,680.6 200.3,680.1 200.9,680.4 201.5,680.5 202.1,680.4 202.7,680.3 203.3,680.3 203.9,680.4 204.5,680.5 205.1,680.1 205.7,680.1 206.3,680.4 206.9,680.5 207.5,680.3 208.1,680.3 208.7,680.4 209.3,680.1 209.9,680.2 210.5,680.1 211.1,680.4 211.7,680.2 212.3,680.1 212.9,680.4 213.5,680.6 214.1,680.2 214.7,680.4 215.3,680.2 215.9,680.5 216.5,680.4 217.1,680.2 217.7,680.1 218.3,680 218.9,680.3 219.5,680.2 220.1,680.1 220.7,680.2 221.3,680.2 221.9,680.5 222.5,680.1 223.1,680.6 223.7,680.3 224.3,680.4 224.9,680.3 225.5,680.5 226.1,680.5 226.7,680.3 227.3,680.3 227.9,680.4 228.5,680.5 229.1,680.2 229.7,680.4 230.3,680.6 230.9,680.3 231.5,680.1 232.1,680.1 232.7,680.4 233.3,680.4 233.9,680.6 234.5,680.5 235.1,680.1 235.7,680.1 236.3,680.2 236.9,680.1 237.5,680.4 238.1,680.5 238.7,680.5 239.3,680.1 239.9,680.5 240.5,680.2 241.1,680.2 241.7,680.3 242.3,678.8 242.9,679.9 243.5,680.5 244.1,680.2 244.7,680.2 245.3,680.3 245.9,680.4 246.5,680 247.1,680.2 247.7,680.3 248.3,680.3 248.9,680.1 249.5,680.4 250.1,680.6 250.7,680.2 251.3,680.3 251.9,680.1 252.5,680.2 253.1,680.4 253.7,680.1 254.3,680.5 254.9,680.5 255.5,680.1 256.1,680.6 256.7,680.2 257.3,680.5 257.9,680.5 258.5,680.2 259.1,680.4 259.7,680.4 260.3,680.5 260.9,680.2 261.5,680.5 262.1,680.6 262.7,680.4 263.3,680.3 263.9,680.1 264.5,680.3 265.1,680.2 265.7,680.4 266.3,680.4 266.9,680.3 267.5,680.1 268.1,680.4 268.7,680.4 269.3,680.1 269.9,680.5 270.5,680.4 271.1,680.1 271.7,680.6 272.3,680.1 272.9,680.2 273.5,680.4 274.1,680.4 274.7,680.3 275.3,680.4 275.9,680.3 276.5,680.2 277.1,680.1 277.7,680 278.3,680.4 278.9,680.5 279.5,680.3 280.1,680.4 280.7,680.2 281.3,680.2 281.9,680.2 282.5,680.5 283.1,680 283.7,680.3 284.3,680.1 284.9,680.5 285.5,680.2 286.1,680.2 286.7,680.2 287.3,680.3 287.9,680.5 288.5,680.2 289.1,680.5 289.7,680.1 290.3,680.2 290.9,680.1 291.5,680.1 292.1,680.5 292.7,680.4 293.3,680.1 293.9,680.1 294.5,680.2 295.1,680.4 295.7,680.5 296.3,680.4 296.9,680.4 297.5,680.1 298.1,680.2 298.7,680.1 299.3,680.3 299.9,680.3 300.5,680.1 301.1,680.2 301.7,680.5 302.3,680 302.9,680.5 303.5,680.5 304.1,680.6 304.7,680.2 305.3,680.3 305.9,680.3 306.5,680.4 307.1,680.6 307.7,680.4 308.3,680.2 308.9,680.5 309.5,680.3 310.1,680.4 310.7,680.5 311.3,680 311.9,681 312.5,680.6 313.1,680.3 313.7,680.3 314.3,680.3 314.9,680.1 315.5,680.3 316.1,680 316.7,680.3 317.3,680.4 317.9,680.3 318.5,680.3 319.1,680.6 319.7,680.5 320.3,680.1 320.9,680.5 321.5,680.4 322.1,680 322.7,680.2 323.3,680.1 323.9,680 324.5,680.3 325.1,680.5 325.7,680.1 326.3,680.4 326.9,678.7 327.5,677.7 328.1,680.3 328.7,680.3 329.3,680.5 329.9,680.4 330.5,680.4 331.1,680.2 331.7,680.5 332.3,680.6 332.9,680.5 333.5,680.3 334.1,680.5 334.7,680.3" fill="none" stroke="#c6dcf1" stroke-width="1"/>
</g>
<path d="M41.8 663.6v6.2M42.8 663.6v6.2M43.9 663.6v6.2M44.9 663.6v6.2M46 663.6v6.2M47 663.6v6.2M48.1 663.6v6.2M49.1 663.6v6.2M50.2 663.6v6.2M51.2 663.6v6.2M52.3 663.6v6.2M53.3 663.6v6.2M54.4 663.6v6.2M55.4 663.6v6.2M56.5 663.6v6.2M57.5 663.6v6.2M58.6 663.6v6.2M59.6 663.6v6.2M60.7 663.6v6.2M61.8 663.6v6.2M62.8 663.6v6.2M63.8 663.6v6.2M64.9 663.6v6.2M66 663.6v6.2M67 663.6v6.2M68 663.6v6.2M69.1 663.6v6.2M70.2 663.6v6.2M71.2 663.6v6.2M72.2 663.6v6.2M74.4 663.6v6.2M76.4 663.6v6.2M78.7 663.6v6.2M81 663.6v6.2M83.3 663.6v6.2M86 663.6v6.2M89.2 663.6v6.2M91.2 663.6v6.2M92.5 663.6v6.2M97.5 663.6v6.2M100.8 663.6v6.2M103.1 663.6v6.2M105 663.6v6.2M106.4 663.6v6.2M113.9 663.6v6.2M117.2 663.6v6.2M123.8 663.6v6.2M128.7 663.6v6.2M135.3 663.6v6.2M139.6 663.6v6.2M141.9 663.6v6.2M148.5 663.6v6.2M150.1 663.6v6.2M169.2 663.6v6.2M178.8 663.6v6.2M180.8 663.6v6.2M198.5 663.6v6.2M242.3 663.6v6.2M267 663.6v6.2M312.1 663.6v6.2M315.7 663.6v6.2M327.2 663.6v6.2" stroke="#3584c6" stroke-width="1.15" fill="none"/>
<line x1="267" y1="676" x2="267" y2="699.5" stroke="#c6dcf1" stroke-width="1" />
<line x1="267" y1="701" x2="267" y2="815" stroke="#e9c9d6" stroke-width="1.3" />
<g clip-path="url(#clipc2)">
<polyline points="41.3,765.9 41.9,766 42.5,766.1 43.1,766.2 43.7,766.2 44.3,766.2 44.9,766.1 45.5,765.6 46.1,763.7 46.7,760.3 47.3,759.3 47.9,762.5 48.5,765 49.1,765.3 49.7,765 50.3,765.5 50.9,765.6 51.5,763.9 52.1,761 52.7,761.2 53.3,764.2 53.9,765.8 54.5,765.4 55.1,765 55.7,766 56.3,766.5 56.9,765.2 57.5,762 58.1,760.5 58.7,763.6 59.3,766.4 59.9,767.5 60.5,767.2 61.1,765.4 61.7,761.3 62.3,760.3 62.9,761.7 63.5,764.8 64.1,764.9 64.7,764.4 65.3,764.5 65.9,761.6 66.5,760.8 67.1,760.9 67.7,760.9 68.3,765.7 68.9,766.4 69.5,765 70.1,765.1 70.7,766.9 71.3,767.5 71.9,765.7 72.5,762.4 73.1,762.6 73.7,766 74.3,767.9 74.9,767.5 75.5,765.9 76.1,766.1 76.7,767.4 77.3,766.7 77.9,762.2 78.5,761.9 79.1,761.9 79.7,764.1 80.3,767.9 80.9,769 81.5,768.6 82.1,766.1 82.7,762.2 83.3,762.3 83.9,762.3 84.5,766 85.1,768.8 85.7,769.6 86.3,769.6 86.9,769.3 87.5,767.7 88.1,762.6 88.7,762.6 89.3,762.6 89.9,762.7 90.5,763 91.1,766.2 91.7,763.7 92.3,762.8 92.9,762.8 93.5,765.6 94.1,769.1 94.7,770.3 95.3,770.7 95.9,770.8 96.5,770.8 97.1,770.8 97.7,770.5 98.3,770 98.9,768.5 99.5,763.4 100.1,763.2 100.7,763.2 101.3,763.3 101.9,763.3 102.5,763.3 103.1,763.3 103.7,763.4 104.3,765.7 104.9,768 105.5,766.1 106.1,763.5 106.7,763.5 107.3,767.4 107.9,770.3 108.5,771.4 109.1,771.7 109.7,771.9 110.3,772 110.9,772.1 111.5,772.2 112.1,772.2 112.7,772.2 113.3,772.1 113.9,772.1 114.5,771.9 115.1,771.5 115.7,770 116.3,765.8 116.9,763.8 117.5,763.8 118.1,765.2 118.7,769.8 119.3,771.5 119.9,771.9 120.5,772 121.1,772 121.7,771.7 122.3,770.6 122.9,767.1 123.5,764 124.1,764 124.7,767 125.3,770.7 125.9,772 126.5,772.4 127.1,772.5 127.7,772.6 128.3,772.7 128.9,772.7 129.5,772.7 130.1,772.7 130.7,772.7 131.3,772.6 131.9,772.5 132.5,772.3 133.1,771.8 133.7,770.5 134.3,766.2 134.9,764.3 135.5,764.3 136.1,764.3 136.7,768.4 137.3,770.1 137.9,769 138.5,764.3 139.1,764.3 139.7,764.3 140.3,764.4 140.9,764.4 141.5,764.4 142.1,764.5 142.7,768.1 143.3,771 143.9,772.1 144.5,772.5 145.1,772.6 145.7,772.6 146.3,772.5 146.9,771.8 147.5,769.7 148.1,765.9 148.7,765 149.3,768.6 149.9,771.5 150.5,772.6 151.1,773 151.7,773.1 152.3,773.2 152.9,773.3 153.5,773.3 154.1,773.3 154.7,773.3 155.3,773.4 155.9,773.4 156.5,773.4 157.1,773.4 157.7,773.4 158.3,773.4 158.9,773.4 159.5,773.4 160.1,773.4 160.7,773.4 161.3,773.4 161.9,773.4 162.5,773.3 163.1,773.3 163.7,773.2 164.3,773.2 164.9,773 165.5,772.9 166.1,772.6 166.7,772.2 167.3,771 167.9,766.8 168.5,764.7 169.1,764.7 169.7,764.7 170.3,764.7 170.9,769.6 171.5,771.6 172.1,772.3 172.7,772.5 173.3,772.6 173.9,772.6 174.5,772.6 175.1,772.4 175.7,772 176.3,771.3 176.9,769.3 177.5,764.7 178.1,764.8 178.7,764.8 179.3,764.8 179.9,764.8 180.5,764.8 181.1,764.8 181.7,766.6 182.3,770.6 182.9,772 183.5,772.6 184.1,772.9 184.7,773.1 185.3,773.2 185.9,773.3 186.5,773.4 187.1,773.4 187.7,773.5 188.3,773.5 188.9,773.5 189.5,773.5 190.1,773.5 190.7,773.5 191.3,773.5 191.9,773.5 192.5,773.5 193.1,773.5 193.7,773.4 194.3,773.4 194.9,773.3 195.5,773.1 196.1,772.7 196.7,771.6 197.3,768 197.9,764.8 198.5,764.9 199.1,764.9 199.7,767.3 200.3,771.4 200.9,772.7 201.5,773.1 202.1,773.3 202.7,773.5 203.3,773.5 203.9,773.6 204.5,773.7 205.1,773.7 205.7,773.7 206.3,773.8 206.9,773.8 207.5,773.8 208.1,773.8 208.7,773.8 209.3,773.8 209.9,773.8 210.5,773.8 211.1,773.8 211.7,773.9 212.3,773.9 212.9,773.9 213.5,773.9 214.1,773.9 214.7,773.9 215.3,773.9 215.9,773.9 216.5,773.9 217.1,773.9 217.7,773.9 218.3,773.9 218.9,773.9 219.5,773.9 220.1,773.9 220.7,773.9 221.3,773.9 221.9,773.9 222.5,773.9 223.1,773.9 223.7,773.9 224.3,773.9 224.9,773.9 225.5,773.9 226.1,773.9 226.7,773.9 227.3,773.9 227.9,773.9 228.5,773.9 229.1,773.9 229.7,773.9 230.3,773.9 230.9,773.9 231.5,773.9 232.1,773.9 232.7,773.9 233.3,773.9 233.9,773.9 234.5,773.9 235.1,773.9 235.7,773.9 236.3,773.9 236.9,773.9 237.5,773.8 238.1,773.8 238.7,773.8 239.3,773.7 239.9,773.6 240.5,773.2 241.1,771.9 241.7,769 242.3,766.7 242.9,768.9 243.5,771.8 244.1,773.1 244.7,773.5 245.3,773.7 245.9,773.7 246.5,773.8 247.1,773.8 247.7,773.8 248.3,773.8 248.9,773.8 249.5,773.8 250.1,773.8 250.7,773.8 251.3,773.8 251.9,773.8 252.5,773.8 253.1,773.8 253.7,773.8 254.3,773.8 254.9,773.8 255.5,773.8 256.1,773.8 256.7,773.8 257.3,773.7 257.9,773.7 258.5,773.7 259.1,773.6 259.7,773.6 260.3,773.5 260.9,773.4 261.5,773.3 262.1,773.1 262.7,772.9 263.3,772.5 263.9,772 264.5,770.9 265.1,768.1 265.7,765 266.3,765 266.9,765 267.5,765 268.1,765 268.7,766.1 269.3,770.3 269.9,771.7 270.5,772.4 271.1,772.8 271.7,773.1 272.3,773.3 272.9,773.4 273.5,773.5 274.1,773.6 274.7,773.6 275.3,773.7 275.9,773.7 276.5,773.8 277.1,773.8 277.7,773.8 278.3,773.8 278.9,773.8 279.5,773.8 280.1,773.9 280.7,773.9 281.3,773.9 281.9,773.9 282.5,773.9 283.1,773.9 283.7,773.9 284.3,773.9 284.9,773.9 285.5,773.9 286.1,773.9 286.7,773.9 287.3,773.9 287.9,773.9 288.5,773.9 289.1,773.9 289.7,773.9 290.3,773.9 290.9,773.9 291.5,773.9 292.1,774 292.7,774 293.3,774 293.9,774 294.5,774 295.1,774 295.7,774 296.3,774 296.9,774 297.5,774 298.1,774 298.7,774 299.3,774 299.9,774 300.5,774 301.1,774 301.7,774 302.3,774 302.9,774 303.5,774 304.1,774 304.7,774 305.3,774 305.9,774 306.5,773.9 307.1,773.9 307.7,773.9 308.3,773.9 308.9,773.9 309.5,773.8 310.1,773.8 310.7,773.4 311.3,772.5 311.9,771.4 312.5,771.8 313.1,772.9 313.7,773.6 314.3,773.8 314.9,773.8 315.5,773.9 316.1,773.9 316.7,773.9 317.3,773.9 317.9,773.9 318.5,773.9 319.1,773.9 319.7,773.8 320.3,773.8 320.9,773.8 321.5,773.8 322.1,773.7 322.7,773.6 323.3,773.5 323.9,773.3 324.5,773 325.1,772.4 325.7,770.1 326.3,765 326.9,765 327.5,765 328.1,765 328.7,769.6 329.3,772.2 329.9,773 330.5,773.3 331.1,773.5 331.7,773.6 332.3,773.7 332.9,773.8 333.5,773.8 334.1,773.8 334.7,773.9" fill="none" stroke="#b85a79" stroke-width="3" stroke-linejoin="round"/>
<polyline points="41.3,765.9 41.6,766 41.9,766 42.2,766.1 42.5,766.1 42.8,766.1 43.1,766.2 43.4,766.2 43.7,766.2 44,766.2 44.3,766.2 44.6,766.2 44.9,766.1 45.2,766 45.5,765.6 45.8,764.9 46.1,763.7 46.4,762.1 46.7,760.3 47,759.1 47.3,759.3 47.6,760.7 47.9,762.5 48.2,764 48.5,765 48.8,765.4 49.1,765.3 49.4,765.1 49.7,765 50,765.1 50.3,765.5 50.6,765.7 50.9,765.6 51.2,765 51.5,763.9 51.8,762.4 52.1,761 52.4,760.4 52.7,761.2 53,762.7 53.3,764.2 53.6,765.3 53.9,765.8 54.2,765.8 54.5,765.4 54.8,765.1 55.1,765 55.4,765.4 55.7,766 56,766.4 56.3,766.5 56.6,766.1 56.9,765.2 57.2,763.7 57.5,762 57.8,760.6 58.1,760.5 58.4,761.8 58.7,763.6 59,765.3 59.3,766.4 59.6,767.1 59.9,767.5 60.2,767.5 60.5,767.2 60.8,766.6 61.1,765.4 61.4,763.6 61.7,761.3 62,759.2 62.3,758.5 62.6,759.6 62.9,761.7 63.2,763.6 63.5,764.8 63.8,765.1 64.1,764.9 64.4,764.4 64.7,764.4 65,764.6 65.3,764.5 65.6,763.6 65.9,761.6 66.2,758.4 66.5,755 66.8,752.9 67.1,753.9 67.4,757.1 67.7,760.8 68,763.8 68.3,765.7 68.6,766.4 68.9,766.4 69.2,765.8 69.5,765 69.8,764.6 70.1,765.1 70.4,766 70.7,766.9 71,767.5 71.3,767.5 71.6,766.9 71.9,765.7 72.2,764 72.5,762.4 72.8,761.8 73.1,762.6 73.4,764.3 73.7,766 74,767.3 74.3,767.9 74.6,767.9 74.9,767.5 75.2,766.7 75.5,765.9 75.8,765.7 76.1,766.1 76.4,766.8 76.7,767.4 77,767.4 77.3,766.7 77.6,765 77.9,762.2 78.2,758.9 78.5,756 78.8,755.4 79.1,757.5 79.4,760.9 79.7,764.1 80,766.5 80.3,767.9 80.6,768.7 80.9,769 81.2,769 81.5,768.6 81.8,767.8 82.1,766.1 82.4,763.6 82.7,760.2 83,756.9 83.3,755.2 83.6,756.5 83.9,759.7 84.2,763.2 84.5,766 84.8,767.8 85.1,768.8 85.4,769.4 85.7,769.6 86,769.7 86.3,769.6 86.6,769.5 86.9,769.3 87.2,768.7 87.5,767.7 87.8,765.7 88.1,762.2 88.4,757 88.7,750.6 89,744.9 89.3,743.1 89.6,746.5 89.9,752.6 90.2,758.6 90.5,763 90.8,765.5 91.1,766.2 91.4,765.5 91.7,763.7 92,761.1 92.3,758.7 92.6,758.2 92.9,759.9 93.2,762.8 93.5,765.6 93.8,767.8 94.1,769.1 94.4,769.9 94.7,770.3 95,770.6 95.3,770.7 95.6,770.8 95.9,770.8 96.2,770.9 96.5,770.8 96.8,770.8 97.1,770.8 97.4,770.7 97.7,770.5 98,770.3 98.3,770 98.6,769.5 98.9,768.5 99.2,766.7 99.5,763.4 99.8,758.3 100.1,751.5 100.4,744.4 100.7,740 101,741.3 101.3,746.8 101.6,752.6 101.9,756.4 102.2,757.1 102.5,755.4 102.8,752.9 103.1,752.1 103.4,754.4 103.7,758.6 104,762.7 104.3,765.7 104.6,767.5 104.9,768 105.2,767.5 105.5,766.1 105.8,764.1 106.1,762.2 106.4,761.6 106.7,762.8 107,765.1 107.3,767.4 107.6,769.2 107.9,770.3 108.2,771 108.5,771.4 108.8,771.6 109.1,771.7 109.4,771.8 109.7,771.9 110,772 110.3,772 110.6,772.1 110.9,772.1 111.2,772.1 111.5,772.2 111.8,772.2 112.1,772.2 112.4,772.2 112.7,772.2 113,772.2 113.3,772.1 113.6,772.1 113.9,772.1 114.2,772 114.5,771.9 114.8,771.8 115.1,771.5 115.4,771 115.7,770 116,768.4 116.3,765.8 116.6,762.4 116.9,759 117.2,757.3 117.5,758.5 117.8,761.7 118.1,765.2 118.4,768 118.7,769.8 119,770.9 119.3,771.5 119.6,771.7 119.9,771.9 120.2,772 120.5,772 120.8,772 121.1,772 121.4,771.9 121.7,771.7 122,771.4 122.3,770.6 122.6,769.2 122.9,767.1 123.2,764.4 123.5,761.8 123.8,760.6 124.1,761.7 124.4,764.3 124.7,767 125,769.2 125.3,770.7 125.6,771.5 125.9,772 126.2,772.2 126.5,772.4 126.8,772.5 127.1,772.5 127.4,772.6 127.7,772.6 128,772.7 128.3,772.7 128.6,772.7 128.9,772.7 129.2,772.7 129.5,772.7 129.8,772.7 130.1,772.7 130.4,772.7 130.7,772.7 131,772.6 131.3,772.6 131.6,772.5 131.9,772.5 132.2,772.4 132.5,772.3 132.8,772.1 133.1,771.8 133.4,771.4 133.7,770.5 134,768.8 134.3,766.2 134.6,762.6 134.9,758.6 135.2,755.7 135.5,755.8 135.8,758.8 136.1,762.7 136.4,766.1 136.7,768.4 137,769.7 137.3,770.1 137.6,769.9 137.9,769 138.2,766.9 138.5,763.4 138.8,758.1 139.1,751.9 139.4,746.6 139.7,745.4 140,749.2 140.3,755 140.6,760.1 140.9,763.3 141.2,764.5 141.5,764.3 141.8,763.9 142.1,764.5 142.4,766.2 142.7,768.1 143,769.8 143.3,771 143.6,771.7 143.9,772.1 144.2,772.3 144.5,772.5 144.8,772.5 145.1,772.6 145.4,772.6 145.7,772.6 146,772.6 146.3,772.5 146.6,772.3 146.9,771.8 147.2,771 147.5,769.7 147.8,767.9 148.1,765.9 148.4,764.6 148.7,765 149,766.6 149.3,768.6 149.6,770.3 149.9,771.5 150.2,772.2 150.5,772.6 150.8,772.8 151.1,773 151.4,773.1 151.7,773.1 152,773.2 152.3,773.2 152.6,773.2 152.9,773.3 153.2,773.3 153.5,773.3 153.8,773.3 154.1,773.3 154.4,773.3 154.7,773.3 155,773.3 155.3,773.4 155.6,773.4 155.9,773.4 156.2,773.4 156.5,773.4 156.8,773.4 157.1,773.4 157.4,773.4 157.7,773.4 158,773.4 158.3,773.4 158.6,773.4 158.9,773.4 159.2,773.4 159.5,773.4 159.8,773.4 160.1,773.4 160.4,773.4 160.7,773.4 161,773.4 161.3,773.4 161.6,773.4 161.9,773.4 162.2,773.3 162.5,773.3 162.8,773.3 163.1,773.3 163.4,773.3 163.7,773.2 164,773.2 164.3,773.2 164.6,773.1 164.9,773 165.2,773 165.5,772.9 165.8,772.8 166.1,772.6 166.4,772.4 166.7,772.2 167,771.7 167.3,771 167.6,769.5 167.9,766.8 168.2,762.4 168.5,756.4 168.8,749.6 169.1,744.8 169.4,745.1 169.7,750.2 170,756.9 170.3,762.9 170.6,767 170.9,769.6 171.2,770.9 171.5,771.6 171.8,772 172.1,772.3 172.4,772.4 172.7,772.5 173,772.6 173.3,772.6 173.6,772.6 173.9,772.6 174.2,772.6 174.5,772.6 174.8,772.5 175.1,772.4 175.4,772.2 175.7,772 176,771.7 176.3,771.3 176.6,770.6 176.9,769.3 177.2,766.9 177.5,762.7 177.8,755.9 178.1,746.8 178.4,737.2 178.7,731.1 179,732.5 179.3,739.7 179.6,747.7 179.9,753.4 180.2,755.9 180.5,756.6 180.8,757.5 181.1,759.9 181.4,763.4 181.7,766.6 182,769 182.3,770.6 182.6,771.5 182.9,772 183.2,772.4 183.5,772.6 183.8,772.8 184.1,772.9 184.4,773 184.7,773.1 185,773.1 185.3,773.2 185.6,773.3 185.9,773.3 186.2,773.3 186.5,773.4 186.8,773.4 187.1,773.4 187.4,773.4 187.7,773.5 188,773.5 188.3,773.5 188.6,773.5 188.9,773.5 189.2,773.5 189.5,773.5 189.8,773.5 190.1,773.5 190.4,773.5 190.7,773.5 191,773.5 191.3,773.5 191.6,773.5 191.9,773.5 192.2,773.5 192.5,773.5 192.8,773.5 193.1,773.5 193.4,773.5 193.7,773.4 194,773.4 194.3,773.4 194.6,773.3 194.9,773.3 195.2,773.2 195.5,773.1 195.8,772.9 196.1,772.7 196.4,772.3 196.7,771.6 197,770.3 197.3,768 197.6,764.4 197.9,759.7 198.2,755 198.5,752.6 198.8,754.2 199.1,758.6 199.4,763.4 199.7,767.3 200,769.9 200.3,771.4 200.6,772.2 200.9,772.7 201.2,772.9 201.5,773.1 201.8,773.2 202.1,773.3 202.4,773.4 202.7,773.5 203,773.5 203.3,773.5 203.6,773.6 203.9,773.6 204.2,773.6 204.5,773.7 204.8,773.7 205.1,773.7 205.4,773.7 205.7,773.7 206,773.7 206.3,773.8 206.6,773.8 206.9,773.8 207.2,773.8 207.5,773.8 207.8,773.8 208.1,773.8 208.4,773.8 208.7,773.8 209,773.8 209.3,773.8 209.6,773.8 209.9,773.8 210.2,773.8 210.5,773.8 210.8,773.8 211.1,773.8 211.4,773.9 211.7,773.9 212,773.9 212.3,773.9 212.6,773.9 212.9,773.9 213.2,773.9 213.5,773.9 213.8,773.9 214.1,773.9 214.4,773.9 214.7,773.9 215,773.9 215.3,773.9 215.6,773.9 215.9,773.9 216.2,773.9 216.5,773.9 216.8,773.9 217.1,773.9 217.4,773.9 217.7,773.9 218,773.9 218.3,773.9 218.6,773.9 218.9,773.9 219.2,773.9 219.5,773.9 219.8,773.9 220.1,773.9 220.4,773.9 220.7,773.9 221,773.9 221.3,773.9 221.6,773.9 221.9,773.9 222.2,773.9 222.5,773.9 222.8,773.9 223.1,773.9 223.4,773.9 223.7,773.9 224,773.9 224.3,773.9 224.6,773.9 224.9,773.9 225.2,773.9 225.5,773.9 225.8,773.9 226.1,773.9 226.4,773.9 226.7,773.9 227,773.9 227.3,773.9 227.6,773.9 227.9,773.9 228.2,773.9 228.5,773.9 228.8,773.9 229.1,773.9 229.4,773.9 229.7,773.9 230,773.9 230.3,773.9 230.6,773.9 230.9,773.9 231.2,773.9 231.5,773.9 231.8,773.9 232.1,773.9 232.4,773.9 232.7,773.9 233,773.9 233.3,773.9 233.6,773.9 233.9,773.9 234.2,773.9 234.5,773.9 234.8,773.9 235.1,773.9 235.4,773.9 235.7,773.9 236,773.9 236.3,773.9 236.6,773.9 236.9,773.9 237.2,773.9 237.5,773.8 237.8,773.8 238.1,773.8 238.4,773.8 238.7,773.8 239,773.7 239.3,773.7 239.6,773.7 239.9,773.6 240.2,773.4 240.5,773.2 240.8,772.7 241.1,771.9 241.4,770.7 241.7,769 242,767.5 242.3,766.7 242.6,767.4 242.9,768.9 243.2,770.5 243.5,771.8 243.8,772.6 244.1,773.1 244.4,773.4 244.7,773.5 245,773.6 245.3,773.7 245.6,773.7 245.9,773.7 246.2,773.8 246.5,773.8 246.8,773.8 247.1,773.8 247.4,773.8 247.7,773.8 248,773.8 248.3,773.8 248.6,773.8 248.9,773.8 249.2,773.8 249.5,773.8 249.8,773.8 250.1,773.8 250.4,773.8 250.7,773.8 251,773.8 251.3,773.8 251.6,773.8 251.9,773.8 252.2,773.8 252.5,773.8 252.8,773.8 253.1,773.8 253.4,773.8 253.7,773.8 254,773.8 254.3,773.8 254.6,773.8 254.9,773.8 255.2,773.8 255.5,773.8 255.8,773.8 256.1,773.8 256.4,773.8 256.7,773.8 257,773.8 257.3,773.7 257.6,773.7 257.9,773.7 258.2,773.7 258.5,773.7 258.8,773.7 259.1,773.6 259.4,773.6 259.7,773.6 260,773.5 260.3,773.5 260.6,773.5 260.9,773.4 261.2,773.4 261.5,773.3 261.8,773.2 262.1,773.1 262.4,773 262.7,772.9 263,772.7 263.3,772.5 263.6,772.3 263.9,772 264.2,771.5 264.5,770.9 264.8,769.9 265.1,768.1 265.4,764.7 265.7,758.5 266,748.6 266.3,735.2 266.6,720.8 266.9,711.5 267.2,713.6 267.5,725.6 267.8,740.1 268.1,752.5 268.4,761 268.7,766.1 269,768.9 269.3,770.3 269.6,771.2 269.9,771.7 270.2,772.1 270.5,772.4 270.8,772.6 271.1,772.8 271.4,773 271.7,773.1 272,773.2 272.3,773.3 272.6,773.3 272.9,773.4 273.2,773.5 273.5,773.5 273.8,773.5 274.1,773.6 274.4,773.6 274.7,773.6 275,773.7 275.3,773.7 275.6,773.7 275.9,773.7 276.2,773.7 276.5,773.8 276.8,773.8 277.1,773.8 277.4,773.8 277.7,773.8 278,773.8 278.3,773.8 278.6,773.8 278.9,773.8 279.2,773.8 279.5,773.8 279.8,773.9 280.1,773.9 280.4,773.9 280.7,773.9 281,773.9 281.3,773.9 281.6,773.9 281.9,773.9 282.2,773.9 282.5,773.9 282.8,773.9 283.1,773.9 283.4,773.9 283.7,773.9 284,773.9 284.3,773.9 284.6,773.9 284.9,773.9 285.2,773.9 285.5,773.9 285.8,773.9 286.1,773.9 286.4,773.9 286.7,773.9 287,773.9 287.3,773.9 287.6,773.9 287.9,773.9 288.2,773.9 288.5,773.9 288.8,773.9 289.1,773.9 289.4,773.9 289.7,773.9 290,773.9 290.3,773.9 290.6,773.9 290.9,773.9 291.2,773.9 291.5,773.9 291.8,773.9 292.1,774 292.4,774 292.7,774 293,774 293.3,774 293.6,774 293.9,774 294.2,774 294.5,774 294.8,774 295.1,774 295.4,774 295.7,774 296,774 296.3,774 296.6,774 296.9,774 297.2,774 297.5,774 297.8,774 298.1,774 298.4,774 298.7,774 299,774 299.3,774 299.6,774 299.9,774 300.2,774 300.5,774 300.8,774 301.1,774 301.4,774 301.7,774 302,774 302.3,774 302.6,774 302.9,774 303.2,774 303.5,774 303.8,774 304.1,774 304.4,774 304.7,774 305,774 305.3,774 305.6,774 305.9,774 306.2,773.9 306.5,773.9 306.8,773.9 307.1,773.9 307.4,773.9 307.7,773.9 308,773.9 308.3,773.9 308.6,773.9 308.9,773.9 309.2,773.9 309.5,773.8 309.8,773.8 310.1,773.8 310.4,773.6 310.7,773.4 311,773.1 311.3,772.5 311.6,771.9 311.9,771.4 312.2,771.4 312.5,771.8 312.8,772.4 313.1,772.9 313.4,773.3 313.7,773.6 314,773.7 314.3,773.8 314.6,773.8 314.9,773.8 315.2,773.9 315.5,773.9 315.8,773.9 316.1,773.9 316.4,773.9 316.7,773.9 317,773.9 317.3,773.9 317.6,773.9 317.9,773.9 318.2,773.9 318.5,773.9 318.8,773.9 319.1,773.9 319.4,773.9 319.7,773.8 320,773.8 320.3,773.8 320.6,773.8 320.9,773.8 321.2,773.8 321.5,773.8 321.8,773.7 322.1,773.7 322.4,773.7 322.7,773.6 323,773.6 323.3,773.5 323.6,773.4 323.9,773.3 324.2,773.2 324.5,773 324.8,772.8 325.1,772.4 325.4,771.6 325.7,770.1 326,767.5 326.3,763.5 326.6,758.3 326.9,753.1 327.2,750.3 327.5,752.1 327.8,757 328.1,762.4 328.4,766.7 328.7,769.6 329,771.3 329.3,772.2 329.6,772.7 329.9,773 330.2,773.2 330.5,773.3 330.8,773.4 331.1,773.5 331.4,773.6 331.7,773.6 332,773.7 332.3,773.7 332.6,773.7 332.9,773.8 333.2,773.8 333.5,773.8 333.8,773.8 334.1,773.8 334.4,773.8 334.7,773.9 335,773.9" fill="none" stroke="#b85a79" stroke-width="1.7" stroke-linejoin="round"/>
<circle cx="47.1" cy="758.4" r="1.1" fill="#b5506f" />
<circle cx="52.4" cy="760.1" r="1.1" fill="#b5506f" />
<circle cx="58" cy="760" r="1.1" fill="#b5506f" />
<circle cx="62.3" cy="758.2" r="1.1" fill="#b5506f" />
<circle cx="66.9" cy="752" r="1.1" fill="#b5506f" />
<circle cx="72.8" cy="761.7" r="1.1" fill="#b5506f" />
<circle cx="78.7" cy="754.4" r="1.1" fill="#b5506f" />
<circle cx="83.3" cy="754.4" r="1.1" fill="#b5506f" />
<circle cx="88.3" cy="762.3" r="1.1" fill="#b5506f" />
<circle cx="89.7" cy="753" r="1.1" fill="#b5506f" />
<circle cx="89.2" cy="740.9" r="1.1" fill="#b5506f" />
<circle cx="92.5" cy="757.9" r="1.1" fill="#b5506f" />
<circle cx="99.8" cy="761.9" r="1.1" fill="#b5506f" />
<circle cx="101.3" cy="751.5" r="1.1" fill="#b5506f" />
<circle cx="100.8" cy="738" r="1.1" fill="#b5506f" />
<circle cx="102.4" cy="763.3" r="1.1" fill="#b5506f" />
<circle cx="103.1" cy="752.4" r="1.1" fill="#b5506f" />
<circle cx="106.4" cy="761.5" r="1.1" fill="#b5506f" />
<circle cx="117.2" cy="756" r="1.1" fill="#b5506f" />
<circle cx="123.8" cy="759.6" r="1.1" fill="#b5506f" />
<circle cx="135.3" cy="754.2" r="1.1" fill="#b5506f" />
<circle cx="138.6" cy="764.2" r="1.1" fill="#b5506f" />
<circle cx="140.1" cy="755.1" r="1.1" fill="#b5506f" />
<circle cx="139.6" cy="743.3" r="1.1" fill="#b5506f" />
<circle cx="141.9" cy="765" r="1.1" fill="#b5506f" />
<circle cx="148.5" cy="763.9" r="1.1" fill="#b5506f" />
<circle cx="168.3" cy="763.9" r="1.1" fill="#b5506f" />
<circle cx="169.7" cy="754.1" r="1.1" fill="#b5506f" />
<circle cx="169.2" cy="741.4" r="1.1" fill="#b5506f" />
<circle cx="177.6" cy="763.3" r="1.1" fill="#b5506f" />
<circle cx="179.5" cy="752.8" r="1.1" fill="#b5506f" />
<circle cx="178.4" cy="742.3" r="1.1" fill="#b5506f" />
<circle cx="178.8" cy="727.7" r="1.1" fill="#b5506f" />
<circle cx="180.8" cy="759.5" r="1.1" fill="#b5506f" />
<circle cx="197.9" cy="763.2" r="1.1" fill="#b5506f" />
<circle cx="198.5" cy="750.5" r="1.1" fill="#b5506f" />
<circle cx="242.3" cy="766" r="1.1" fill="#b5506f" />
<circle cx="265.3" cy="764.9" r="1.1" fill="#b5506f" />
<circle cx="268.1" cy="755.9" r="1.1" fill="#b5506f" />
<circle cx="266.2" cy="746.9" r="1.1" fill="#b5506f" />
<circle cx="267.6" cy="737.9" r="1.1" fill="#b5506f" />
<circle cx="266.6" cy="728.8" r="1.1" fill="#b5506f" />
<circle cx="267.3" cy="719.8" r="1.1" fill="#b5506f" />
<circle cx="267" cy="704.5" r="1.1" fill="#b5506f" />
<circle cx="326.6" cy="762.1" r="1.1" fill="#b5506f" />
<circle cx="327.2" cy="747.9" r="1.1" fill="#b5506f" />
<polyline points="41.3,801 41.9,800.9 42.5,800.9 43.1,801 43.7,801 44.3,801.2 44.9,801.3 45.5,801.2 46.1,801 46.7,800.7 47.3,800.3 47.9,800.9 48.5,801.3 49.1,801.2 49.7,801.2 50.3,801.6 50.9,801.4 51.5,801.3 52.1,801.8 52.7,801.8 53.3,801.4 53.9,801.1 54.5,800.8 55.1,800.8 55.7,801.3 56.3,801 56.9,801.3 57.5,801.6 58.1,801.9 58.7,801.3 59.3,801.2 59.9,801.1 60.5,801 61.1,801.1 61.7,801.6 62.3,802.3 62.9,801.4 63.5,801 64.1,801 64.7,800.9 65.3,801.3 65.9,801.3 66.5,802.5 67.1,802.7 67.7,801.4 68.3,801.6 68.9,801 69.5,800.6 70.1,800.8 70.7,800.9 71.3,801.2 71.9,800.9 72.5,800.2 73.1,800.2 73.7,801.1 74.3,801 74.9,801.2 75.5,800.8 76.1,801.1 76.7,800.9 77.3,800.9 77.9,800.5 78.5,799.9 79.1,800 79.7,800.7 80.3,800.8 80.9,801.2 81.5,801.4 82.1,801 82.7,800.1 83.3,799.2 83.9,800.1 84.5,800.8 85.1,800.9 85.7,800.9 86.3,801.3 86.9,801.5 87.5,801.1 88.1,801.9 88.7,802.8 89.3,804.4 89.9,802.8 90.5,801.8 91.1,800.9 91.7,800.8 92.3,800.1 92.9,800.4 93.5,800.7 94.1,801 94.7,801.4 95.3,801 95.9,801.1 96.5,801.1 97.1,801.3 97.7,801.5 98.3,801.1 98.9,801.5 99.5,801.7 100.1,802.8 100.7,804.6 101.3,803.3 101.9,801.4 102.5,800.3 103.1,799.2 103.7,800.5 104.3,801 104.9,801.1 105.5,801.3 106.1,802.3 106.7,802.1 107.3,801.6 107.9,801.2 108.5,801.2 109.1,801 109.7,801.3 110.3,800.9 110.9,801.2 111.5,801.4 112.1,801.3 112.7,800.9 113.3,801 113.9,801.4 114.5,801.3 115.1,801.4 115.7,801.3 116.3,800.8 116.9,800.1 117.5,799.9 118.1,800.6 118.7,801 119.3,800.9 119.9,801.1 120.5,801.4 121.1,800.9 121.7,801.2 122.3,800.9 122.9,800.6 123.5,800.2 124.1,799.9 124.7,800.6 125.3,800.9 125.9,801.2 126.5,801.2 127.1,800.9 127.7,801 128.3,801.5 128.9,801 129.5,801.2 130.1,801.1 130.7,801.4 131.3,801.2 131.9,801.3 132.5,801.2 133.1,801 133.7,800.9 134.3,800.6 134.9,800.1 135.5,799.1 136.1,800.2 136.7,801.3 137.3,800.9 137.9,801.2 138.5,800.5 139.1,799.4 139.7,798.1 140.3,800.2 140.9,801.1 141.5,801.7 142.1,802.1 142.7,801.6 143.3,801.1 143.9,801.3 144.5,801.2 145.1,801 145.7,801.4 146.3,801.2 146.9,801.3 147.5,800.8 148.1,800.5 148.7,800.3 149.3,801 149.9,800.9 150.5,801.1 151.1,801.2 151.7,800.9 152.3,801.2 152.9,801.3 153.5,801.1 154.1,801.3 154.7,801.3 155.3,801 155.9,801.1 156.5,801.5 157.1,801.1 157.7,801.2 158.3,801 158.9,801 159.5,801 160.1,801.5 160.7,801.3 161.3,801.4 161.9,801.5 162.5,801.3 163.1,801.5 163.7,801.2 164.3,801.1 164.9,801.4 165.5,801.4 166.1,801.4 166.7,801.1 167.3,801.2 167.9,800.8 168.5,800.3 169.1,798.4 169.7,799 170.3,800.9 170.9,800.8 171.5,800.9 172.1,801.3 172.7,801 173.3,801.2 173.9,801.3 174.5,800.9 175.1,801.4 175.7,801.1 176.3,801.3 176.9,801.3 177.5,801.8 178.1,803.2 178.7,805.6 179.3,803.5 179.9,801.4 180.5,800.1 181.1,800 181.7,800.8 182.3,801.3 182.9,801.3 183.5,801.5 184.1,801.5 184.7,801.4 185.3,801.1 185.9,801 186.5,801.1 187.1,801.2 187.7,801.2 188.3,801.2 188.9,801.1 189.5,801.4 190.1,801.1 190.7,801.2 191.3,801.4 191.9,801.4 192.5,801.1 193.1,801.1 193.7,801.4 194.3,800.9 194.9,801 195.5,801.3 196.1,801.3 196.7,801.1 197.3,801.2 197.9,802.1 198.5,803.7 199.1,802.4 199.7,801.8 200.3,801.5 200.9,801.6 201.5,801 202.1,801 202.7,800.9 203.3,801.2 203.9,801.1 204.5,800.9 205.1,801.2 205.7,801 206.3,801.1 206.9,801 207.5,801.4 208.1,801.2 208.7,801.1 209.3,800.9 209.9,801.2 210.5,801.3 211.1,801.3 211.7,801.4 212.3,801.4 212.9,801 213.5,801 214.1,801.4 214.7,801.4 215.3,801.2 215.9,801.4 216.5,801.2 217.1,801.1 217.7,801 218.3,800.9 218.9,801.3 219.5,801.4 220.1,801.4 220.7,801.2 221.3,801.3 221.9,801.5 222.5,801.4 223.1,801.3 223.7,801.1 224.3,801.2 224.9,801 225.5,801 226.1,801.3 226.7,801.5 227.3,801.2 227.9,801.1 228.5,801.1 229.1,801.2 229.7,801.4 230.3,801.2 230.9,801.5 231.5,801 232.1,801.1 232.7,801.2 233.3,801.1 233.9,801.4 234.5,801.4 235.1,801.5 235.7,801.3 236.3,800.9 236.9,801.2 237.5,801.2 238.1,801.2 238.7,801.1 239.3,801.3 239.9,801.4 240.5,800.9 241.1,801.2 241.7,800.7 242.3,800.4 242.9,801 243.5,801.4 244.1,801.2 244.7,801 245.3,801.4 245.9,801 246.5,801.1 247.1,801.4 247.7,801.1 248.3,801.1 248.9,801.5 249.5,801.5 250.1,801.1 250.7,801.1 251.3,801.1 251.9,801 252.5,801.1 253.1,801.5 253.7,800.9 254.3,801 254.9,801 255.5,800.9 256.1,801.2 256.7,801.3 257.3,801.4 257.9,801.3 258.5,801.4 259.1,800.9 259.7,801.1 260.3,801.5 260.9,800.9 261.5,801.1 262.1,801.2 262.7,801.1 263.3,801.2 263.9,800.9 264.5,801 265.1,801.5 265.7,801 266.3,801.4 266.9,801 267.5,801.5 268.1,801.3 268.7,801.3 269.3,801 269.9,800.9 270.5,801.4 271.1,801 271.7,801 272.3,801.4 272.9,801.4 273.5,800.9 274.1,801.5 274.7,801.2 275.3,801.1 275.9,801 276.5,801.1 277.1,801.5 277.7,801.1 278.3,801 278.9,801 279.5,801 280.1,801.1 280.7,801.4 281.3,800.9 281.9,801 282.5,801.5 283.1,801.5 283.7,801.5 284.3,801 284.9,801.1 285.5,801.5 286.1,801.2 286.7,801.3 287.3,801.1 287.9,800.9 288.5,801.1 289.1,801.3 289.7,801.4 290.3,801.2 290.9,801.2 291.5,801.2 292.1,801.2 292.7,801.2 293.3,801.4 293.9,801 294.5,801.3 295.1,801.5 295.7,801.4 296.3,801 296.9,801.5 297.5,801.4 298.1,801 298.7,801.1 299.3,801 299.9,800.9 300.5,801.5 301.1,801.1 301.7,801.4 302.3,801 302.9,800.9 303.5,801.4 304.1,801.4 304.7,801.5 305.3,801.3 305.9,801.2 306.5,801.4 307.1,801 307.7,801.2 308.3,801.2 308.9,801 309.5,801.3 310.1,801.1 310.7,801.2 311.3,801.2 311.9,801.4 312.5,801.3 313.1,801.3 313.7,801.5 314.3,801.5 314.9,801.4 315.5,801.4 316.1,801.1 316.7,801.5 317.3,801.1 317.9,801 318.5,801.2 319.1,801.3 319.7,801.1 320.3,801.3 320.9,801.1 321.5,801.5 322.1,801.2 322.7,801.2 323.3,801.2 323.9,801.4 324.5,801.4 325.1,801.1 325.7,801 326.3,800.7 326.9,798.9 327.5,798.9 328.1,800.7 328.7,801.2 329.3,800.8 329.9,801.4 330.5,801.1 331.1,801.5 331.7,801.1 332.3,801 332.9,801.2 333.5,801.4 334.1,801.2 334.7,801.4" fill="none" stroke="#e2bfcd" stroke-width="1"/>
</g>
<path d="M41.8 783.3v6.2M43.1 783.3v6.2M44.4 783.3v6.2M45.7 783.3v6.2M47 783.3v6.2M48.3 783.3v6.2M49.6 783.3v6.2M50.9 783.3v6.2M52.2 783.3v6.2M53.5 783.3v6.2M54.8 783.3v6.2M56.1 783.3v6.2M57.4 783.3v6.2M58.7 783.3v6.2M60 783.3v6.2M61.3 783.3v6.2M62.6 783.3v6.2M63.9 783.3v6.2M65.2 783.3v6.2M66.5 783.3v6.2M67.8 783.3v6.2M69.1 783.3v6.2M70.4 783.3v6.2M71.7 783.3v6.2M74.4 783.3v6.2M76.4 783.3v6.2M78.7 783.3v6.2M81 783.3v6.2M83.3 783.3v6.2M86 783.3v6.2M89.2 783.3v6.2M91.2 783.3v6.2M92.5 783.3v6.2M97.5 783.3v6.2M100.8 783.3v6.2M103.1 783.3v6.2M105 783.3v6.2M106.4 783.3v6.2M113.9 783.3v6.2M117.2 783.3v6.2M123.8 783.3v6.2M128.7 783.3v6.2M135.3 783.3v6.2M139.6 783.3v6.2M141.9 783.3v6.2M148.5 783.3v6.2M150.1 783.3v6.2M169.2 783.3v6.2M178.8 783.3v6.2M180.8 783.3v6.2M198.5 783.3v6.2M242.3 783.3v6.2M267 783.3v6.2M312.1 783.3v6.2M315.7 783.3v6.2M327.2 783.3v6.2" stroke="#a2486b" stroke-width="1.15" fill="none"/>
<rect x="41.3" y="575" width="294" height="252" fill="none" stroke="#222" stroke-width="1.4"/>
<line x1="41.3" y1="700.3" x2="335.3" y2="700.3" stroke="#222" stroke-width="1.4" />
<line x1="41.3" y1="827" x2="41.3" y2="831.5" stroke="#222" stroke-width="1.3" />
<line x1="114.8" y1="827" x2="114.8" y2="831.5" stroke="#222" stroke-width="1.3" />
<line x1="188.5" y1="827" x2="188.5" y2="831.5" stroke="#222" stroke-width="1.3" />
<line x1="262.2" y1="827" x2="262.2" y2="831.5" stroke="#222" stroke-width="1.3" />
<line x1="335.3" y1="827" x2="335.3" y2="831.5" stroke="#222" stroke-width="1.3" />
<text x="114.8" y="856.5" font-size="15.5" text-anchor="middle" fill="#222" >1</text>
<text x="262.2" y="856.5" font-size="15.5" text-anchor="middle" fill="#222" >2</text>
<text x="189" y="879" font-size="18.3" text-anchor="middle" fill="#222" >d-spacing (Å)</text>
<circle cx="51.5" cy="585.6" r="1.3" fill="#4a8ed2" />
<text x="67.5" y="590" font-size="15" fill="#222" >Y<tspan baseline-shift="-3.2" font-size="68%">obs</tspan></text>
<line x1="101" y1="585.6" x2="133.7" y2="585.6" stroke="#5c9ad6" stroke-width="1.3" />
<text x="136" y="590" font-size="15" fill="#222" >Y<tspan baseline-shift="-3.2" font-size="68%">calc</tspan></text>
<line x1="169" y1="585.6" x2="201.5" y2="585.6" stroke="#c6dcf1" stroke-width="1" />
<text x="205.5" y="590" font-size="15" fill="#222" >Y<tspan baseline-shift="-3.2" font-size="68%">obs</tspan>-Y<tspan baseline-shift="-3.2" font-size="68%">calc</tspan></text>
<text x="333" y="590" font-size="15.3" text-anchor="end" fill="#222" letter-spacing=".35">LS-NCM</text>
<line x1="51.7" y1="604.5" x2="51.7" y2="614.5" stroke="#5c9ad6" stroke-width="1.1" />
<text x="72.5" y="615" font-size="15" fill="#222" ><tspan font-style="italic">R</tspan>-3<tspan font-style="italic">m</tspan></text>
<circle cx="51.5" cy="710.1" r="1.3" fill="#b5506f" />
<text x="71.8" y="714.5" font-size="15" fill="#222" >Y<tspan baseline-shift="-3.2" font-size="68%">obs</tspan></text>
<line x1="101" y1="710.1" x2="133.7" y2="710.1" stroke="#a84d6e" stroke-width="2.3" />
<text x="136" y="714.5" font-size="15" fill="#222" >Y<tspan baseline-shift="-3.2" font-size="68%">calc</tspan></text>
<line x1="169" y1="710.1" x2="201.5" y2="710.1" stroke="#e2bfcd" stroke-width="1" />
<text x="205.5" y="714.5" font-size="15" fill="#222" >Y<tspan baseline-shift="-3.2" font-size="68%">obs</tspan>-Y<tspan baseline-shift="-3.2" font-size="68%">calc</tspan></text>
<text x="333" y="714.5" font-size="15.3" text-anchor="end" fill="#222" letter-spacing=".35">HS-NCM</text>
<line x1="51.7" y1="728" x2="51.7" y2="738" stroke="#b5506f" stroke-width="1.1" />
<text x="72.5" y="738.5" font-size="15" fill="#222" ><tspan font-style="italic">R</tspan>-3<tspan font-style="italic">m</tspan></text>
<text x="191" y="696.3" font-size="14.6" text-anchor="middle" fill="#222" >Li/Ni anti-site: 0.7%</text>
<text x="190" y="821.3" font-size="14.6" text-anchor="middle" fill="#222" >Li/Ni anti-site: 4.2%</text>
</g>
<g id="panel-d">
<text x="355" y="573" font-size="24" font-weight="bold" >d</text>
<clipPath id="clipd"><rect x="394" y="573.3" width="249" height="252.7"/></clipPath>
<g clip-path="url(#clipd)">
<line x1="468.8" y1="708" x2="468.8" y2="722" stroke="#f0cfb6" stroke-width="1" />
<polyline points="394,726.3 394.4,726.1 394.8,725.9 395.2,725.7 395.6,725.4 396,725.1 396.4,724.9 396.8,724.6 397.2,724.4 397.6,724.2 398,724.1 398.4,724.1 398.8,724.1 399.2,724.2 399.6,724.4 400,724.6 400.4,724.9 400.8,725.2 401.2,725.6 401.6,726 402,726.3 402.4,726.7 402.8,727 403.2,727.2 403.6,727.4 404,727.5 404.4,727.6 404.8,727.6 405.2,727.5 405.6,727.5 406,727.4 406.4,727.2 406.8,727.1 407.2,727 407.6,727 408,726.9 408.4,726.9 408.8,726.9 409.2,726.9 409.6,726.9 410,726.8 410.4,726.7 410.8,726.5 411.2,726.2 411.6,725.7 412,725.2 412.4,724.6 412.8,723.9 413.2,723.2 413.6,722.5 414,721.9 414.4,721.3 414.8,720.9 415.2,720.7 415.6,720.7 416,720.9 416.4,721.2 416.8,721.8 417.2,722.6 417.6,723.5 418,724.5 418.4,725.6 418.8,726.7 419.2,727.8 419.6,728.9 420,729.9 420.4,730.7 420.8,731.5 421.2,732.2 421.6,732.7 422,733.2 422.4,733.5 422.8,733.7 423.2,733.8 423.6,733.8 424,733.6 424.4,733.4 424.8,733 425.2,732.5 425.6,731.9 426,731.3 426.4,730.6 426.8,729.9 427.2,729.3 427.6,728.7 428,728.3 428.4,728.1 428.8,728.1 429.2,728.3 429.6,728.7 430,729.2 430.4,729.9 430.8,730.7 431.2,731.6 431.6,732.4 432,733.3 432.4,734 432.8,734.7 433.2,735.3 433.6,735.8 434,736.2 434.4,736.6 434.8,736.9 435.2,737.1 435.6,737.2 436,737.4 436.4,737.5 436.8,737.5 437.2,737.5 437.6,737.5 438,737.3 438.4,737.1 438.8,736.6 439.2,736 439.6,735.1 440,733.9 440.4,732.4 440.8,730.5 441.2,728.5 441.6,726.3 442,724.1 442.4,722.1 442.8,720.4 443.2,719.3 443.6,718.8 444,718.9 444.4,719.7 444.8,721 445.2,722.6 445.6,724.5 446,726.2 446.4,727.8 446.8,728.9 447.2,729.7 447.6,730 448,729.9 448.4,729.5 448.8,729 449.2,728.5 449.6,728 450,727.8 450.4,727.9 450.8,728.3 451.2,729 451.6,729.9 452,731.1 452.4,732.4 452.8,733.6 453.2,734.8 453.6,735.9 454,736.8 454.4,737.6 454.8,738.1 455.2,738.4 455.6,738.6 456,738.7 456.4,738.7 456.8,738.6 457.2,738.5 457.6,738.5 458,738.4 458.4,738.3 458.8,738.3 459.2,738.4 459.6,738.5 460,738.6 460.4,738.7 460.8,738.9 461.2,739 461.6,739 462,739 462.4,738.8 462.8,738.5 463.2,737.9 463.6,737.2 464,736.2 464.4,735.1 464.8,733.8 465.2,732.3 465.6,730.8 466,729.4 466.4,728.1 466.8,727 467.2,726.1 467.6,725.7 468,725.6 468.4,726 468.8,726.7 469.2,727.8 469.6,729.1 470,730.6 470.4,732.2 470.8,733.8 471.2,735.3 471.6,736.7 472,737.9 472.4,738.9 472.8,739.7 473.2,740.3 473.6,740.7 474,741 474.4,741.1 474.8,741.2 475.2,741.2 475.6,741.1 476,741.1 476.4,741 476.8,741 477.2,741 477.6,741 478,741 478.4,741.1 478.8,741.2 479.2,741.3 479.6,741.5 480,741.7 480.4,741.9 480.8,742.2 481.2,742.4 481.6,742.7 482,742.9 482.4,743.2 482.8,743.4 483.2,743.6 483.6,743.8 484,744 484.4,744.2 484.8,744.3 485.2,744.4 485.6,744.5 486,744.5 486.4,744.5 486.8,744.5 487.2,744.5 487.6,744.4 488,744.2 488.4,744 488.8,743.7 489.2,743.4 489.6,743.1 490,742.6 490.4,742.2 490.8,741.7 491.2,741.1 491.6,740.6 492,740.1 492.4,739.6 492.8,739.2 493.2,738.8 493.6,738.6 494,738.4 494.4,738.3 494.8,738.4 495.2,738.6 495.6,738.9 496,739.3 496.4,739.7 496.8,740.3 497.2,740.8 497.6,741.4 498,742 498.4,742.6 498.8,743.2 499.2,743.7 499.6,744.2 500,744.6 500.4,744.9 500.8,745.2 501.2,745.5 501.6,745.7 502,745.9 502.4,746 502.8,746.1 503.2,746.2 503.6,746.3 504,746.3 504.4,746.4 504.8,746.4 505.2,746.4 505.6,746.4 506,746.5 506.4,746.5 506.8,746.5 507.2,746.5 507.6,746.5 508,746.5 508.4,746.5 508.8,746.5 509.2,746.5 509.6,746.5 510,746.5 510.4,746.5 510.8,746.5 511.2,746.5 511.6,746.5 512,746.5 512.4,746.5 512.8,746.5 513.2,746.5 513.6,746.5 514,746.6 514.4,746.6 514.8,746.6 515.2,746.6 515.6,746.6 516,746.6 516.4,746.6 516.8,746.6 517.2,746.7 517.6,746.7 518,746.7 518.4,746.7 518.8,746.8 519.2,746.8 519.6,746.8 520,746.8 520.4,746.9 520.8,746.9 521.2,747 521.6,747 522,747 522.4,747.1 522.8,747.1 523.2,747.2 523.6,747.2 524,747.3 524.4,747.3 524.8,747.4 525.2,747.4 525.6,747.5 526,747.6 526.4,747.6 526.8,747.7 527.2,747.7 527.6,747.8 528,747.9 528.4,747.9 528.8,748 529.2,748 529.6,748.1 530,748.2 530.4,748.2 530.8,748.3 531.2,748.4 531.6,748.4 532,748.5 532.4,748.6 532.8,748.6 533.2,748.7 533.6,748.7 534,748.8 534.4,748.9 534.8,748.9 535.2,749 535.6,749 536,749.1 536.4,749.2 536.8,749.2 537.2,749.3 537.6,749.3 538,749.4 538.4,749.4 538.8,749.5 539.2,749.5 539.6,749.6 540,749.6 540.4,749.6 540.8,749.7 541.2,749.7 541.6,749.8 542,749.8 542.4,749.9 542.8,749.9 543.2,749.9 543.6,750 544,750 544.4,750 544.8,750.1 545.2,750.1 545.6,750.1 546,750.2 546.4,750.2 546.8,750.2 547.2,750.3 547.6,750.3 548,750.3 548.4,750.4 548.8,750.4 549.2,750.4 549.6,750.4 550,750.5 550.4,750.5 550.8,750.5 551.2,750.5 551.6,750.6 552,750.6 552.4,750.6 552.8,750.6 553.2,750.7 553.6,750.7 554,750.7 554.4,750.7 554.8,750.8 555.2,750.8 555.6,750.8 556,750.8 556.4,750.9 556.8,750.9 557.2,750.9 557.6,750.9 558,750.9 558.4,751 558.8,751 559.2,751 559.6,751 560,751 560.4,751.1 560.8,751.1 561.2,751.1 561.6,751.1 562,751.2 562.4,751.2 562.8,751.2 563.2,751.2 563.6,751.2 564,751.2 564.4,751.3 564.8,751.3 565.2,751.3 565.6,751.3 566,751.3 566.4,751.4 566.8,751.4 567.2,751.4 567.6,751.4 568,751.4 568.4,751.5 568.8,751.5 569.2,751.5 569.6,751.5 570,751.5 570.4,751.5 570.8,751.6 571.2,751.6 571.6,751.6 572,751.6 572.4,751.6 572.8,751.6 573.2,751.7 573.6,751.7 574,751.7 574.4,751.7 574.8,751.7 575.2,751.7 575.6,751.7 576,751.8 576.4,751.8 576.8,751.8 577.2,751.8 577.6,751.8 578,751.8 578.4,751.8 578.8,751.9 579.2,751.9 579.6,751.9 580,751.9 580.4,751.9 580.8,751.9 581.2,751.9 581.6,751.9 582,751.9 582.4,752 582.8,752 583.2,752 583.6,752 584,752 584.4,752 584.8,752 585.2,752 585.6,752 586,752 586.4,752 586.8,752 587.2,752.1 587.6,752.1 588,752.1 588.4,752.1 588.8,752.1 589.2,752.1 589.6,752.1 590,752.1 590.4,752.1 590.8,752.1 591.2,752.1 591.6,752.1 592,752.1 592.4,752.1 592.8,752.1 593.2,752.1 593.6,752.1 594,752.1 594.4,752 594.8,752 595.2,752 595.6,752 596,752 596.4,752 596.8,752 597.2,752 597.6,751.9 598,751.9 598.4,751.9 598.8,751.9 599.2,751.9 599.6,751.8 600,751.8 600.4,751.8 600.8,751.7 601.2,751.7 601.6,751.7 602,751.6 602.4,751.6 602.8,751.5 603.2,751.5 603.6,751.4 604,751.4 604.4,751.3 604.8,751.2 605.2,751.1 605.6,751.1 606,751 606.4,750.9 606.8,750.8 607.2,750.7 607.6,750.5 608,750.4 608.4,750.3 608.8,750.1 609.2,749.9 609.6,749.8 610,749.5 610.4,749.3 610.8,749 611.2,748.7 611.6,748.4 612,747.9 612.4,747.4 612.8,746.8 613.2,746 613.6,745 614,743.8 614.4,742.4 614.8,740.6 615.2,738.4 615.6,735.8 616,732.7 616.4,729 616.8,724.8 617.2,720 617.6,714.6 618,708.7 618.4,702.3 618.8,695.6 619.2,688.7 619.6,681.9 620,675.4 620.4,669.5 620.8,664.7 621.2,661.5 621.6,660 622,660.5 622.4,662.9 622.8,667 623.2,672.4 623.6,678.7 624,685.5 624.4,692.4 624.8,699.2 625.2,705.8 625.6,712 626,717.6 626.4,722.8 626.8,727.3 627.2,731.3 627.6,734.7 628,737.5 628.4,740 628.8,742 629.2,743.6 629.6,744.9 630,746 630.4,746.9 630.8,747.7 631.2,748.3 631.6,748.8 632,749.2 632.4,749.6 632.8,749.9 633.2,750.2 633.6,750.4 634,750.6 634.4,750.9 634.8,751 635.2,751.2 635.6,751.4 636,751.5 636.4,751.7 636.8,751.8 637.2,751.9 637.6,752 638,752.2 638.4,752.3 638.8,752.4 639.2,752.5 639.6,752.5 640,752.6 640.4,752.7 640.8,752.8 641.2,752.9 641.6,752.9 642,753 642.4,753.1 642.8,753.1" fill="none" stroke="#d9c0a2" stroke-width="4" stroke-linejoin="round" stroke-linecap="round"/>
<polyline points="394,726.3 394.4,726.1 394.8,725.9 395.2,725.7 395.6,725.4 396,725.1 396.4,724.9 396.8,724.6 397.2,724.4 397.6,724.2 398,724.1 398.4,724.1 398.8,724.1 399.2,724.2 399.6,724.4 400,724.6 400.4,724.9 400.8,725.2 401.2,725.6 401.6,726 402,726.3 402.4,726.7 402.8,727 403.2,727.2 403.6,727.4 404,727.5 404.4,727.6 404.8,727.6 405.2,727.5 405.6,727.5 406,727.4 406.4,727.2 406.8,727.1 407.2,727 407.6,727 408,726.9 408.4,726.9 408.8,726.9 409.2,726.9 409.6,726.9 410,726.8 410.4,726.7 410.8,726.5 411.2,726.2 411.6,725.7 412,725.2 412.4,724.6 412.8,723.9 413.2,723.2 413.6,722.5 414,721.9 414.4,721.3 414.8,720.9 415.2,720.7 415.6,720.7 416,720.9 416.4,721.2 416.8,721.8 417.2,722.6 417.6,723.5 418,724.5 418.4,725.6 418.8,726.7 419.2,727.8 419.6,728.9 420,729.9 420.4,730.7 420.8,731.5 421.2,732.2 421.6,732.7 422,733.2 422.4,733.5 422.8,733.7 423.2,733.8 423.6,733.8 424,733.6 424.4,733.4 424.8,733 425.2,732.5 425.6,731.9 426,731.3 426.4,730.6 426.8,729.9 427.2,729.3 427.6,728.7 428,728.3 428.4,728.1 428.8,728.1 429.2,728.3 429.6,728.7 430,729.2 430.4,729.9 430.8,730.7 431.2,731.6 431.6,732.4 432,733.3 432.4,734 432.8,734.7 433.2,735.3 433.6,735.8 434,736.2 434.4,736.6 434.8,736.9 435.2,737.1 435.6,737.2 436,737.4 436.4,737.5 436.8,737.5 437.2,737.5 437.6,737.5 438,737.3 438.4,737.1 438.8,736.6 439.2,736 439.6,735.1 440,733.9 440.4,732.4 440.8,730.5 441.2,728.5 441.6,726.3 442,724.1 442.4,722.1 442.8,720.4 443.2,719.3 443.6,718.8 444,718.9 444.4,719.7 444.8,721 445.2,722.6 445.6,724.5 446,726.2 446.4,727.8 446.8,728.9 447.2,729.7 447.6,730 448,729.9 448.4,729.5 448.8,729 449.2,728.5 449.6,728 450,727.8 450.4,727.9 450.8,728.3 451.2,729 451.6,729.9 452,731.1 452.4,732.4 452.8,733.6 453.2,734.8 453.6,735.9 454,736.8 454.4,737.6 454.8,738.1 455.2,738.4 455.6,738.6 456,738.7 456.4,738.7 456.8,738.6 457.2,738.5 457.6,738.5 458,738.4 458.4,738.3 458.8,738.3 459.2,738.4 459.6,738.5 460,738.6 460.4,738.7 460.8,738.9 461.2,739 461.6,739 462,739 462.4,738.8 462.8,738.5 463.2,737.9 463.6,737.2 464,736.2 464.4,735.1 464.8,733.8 465.2,732.3 465.6,730.8 466,729.4 466.4,728.1 466.8,727 467.2,726.1 467.6,725.7 468,725.6 468.4,726 468.8,726.7 469.2,727.8 469.6,729.1 470,730.6 470.4,732.2 470.8,733.8 471.2,735.3 471.6,736.7 472,737.9 472.4,738.9 472.8,739.7 473.2,740.3 473.6,740.7 474,741 474.4,741.1 474.8,741.2 475.2,741.2 475.6,741.1 476,741.1 476.4,741 476.8,741 477.2,741 477.6,741 478,741 478.4,741.1 478.8,741.2 479.2,741.3 479.6,741.5 480,741.7 480.4,741.9 480.8,742.2 481.2,742.4 481.6,742.7 482,742.9 482.4,743.2 482.8,743.4 483.2,743.6 483.6,743.8 484,744 484.4,744.2 484.8,744.3 485.2,744.4 485.6,744.5 486,744.5 486.4,744.5 486.8,744.5 487.2,744.5 487.6,744.4 488,744.2 488.4,744 488.8,743.7 489.2,743.4 489.6,743.1 490,742.6 490.4,742.2 490.8,741.7 491.2,741.1 491.6,740.6 492,740.1 492.4,739.6 492.8,739.2 493.2,738.8 493.6,738.6 494,738.4 494.4,738.3 494.8,738.4 495.2,738.6 495.6,738.9 496,739.3 496.4,739.7 496.8,740.3 497.2,740.8 497.6,741.4 498,742 498.4,742.6 498.8,743.2 499.2,743.7 499.6,744.2 500,744.6 500.4,744.9 500.8,745.2 501.2,745.5 501.6,745.7 502,745.9 502.4,746 502.8,746.1 503.2,746.2 503.6,746.3 504,746.3 504.4,746.4 504.8,746.4 505.2,746.4 505.6,746.4 506,746.5 506.4,746.5 506.8,746.5 507.2,746.5 507.6,746.5 508,746.5 508.4,746.5 508.8,746.5 509.2,746.5 509.6,746.5 510,746.5 510.4,746.5 510.8,746.5 511.2,746.5 511.6,746.5 512,746.5 512.4,746.5 512.8,746.5 513.2,746.5 513.6,746.5 514,746.6 514.4,746.6 514.8,746.6 515.2,746.6 515.6,746.6 516,746.6 516.4,746.6 516.8,746.6 517.2,746.7 517.6,746.7 518,746.7 518.4,746.7 518.8,746.8 519.2,746.8 519.6,746.8 520,746.8 520.4,746.9 520.8,746.9 521.2,747 521.6,747 522,747 522.4,747.1 522.8,747.1 523.2,747.2 523.6,747.2 524,747.3 524.4,747.3 524.8,747.4 525.2,747.4 525.6,747.5 526,747.6 526.4,747.6 526.8,747.7 527.2,747.7 527.6,747.8 528,747.9 528.4,747.9 528.8,748 529.2,748 529.6,748.1 530,748.2 530.4,748.2 530.8,748.3 531.2,748.4 531.6,748.4 532,748.5 532.4,748.6 532.8,748.6 533.2,748.7 533.6,748.7 534,748.8 534.4,748.9 534.8,748.9 535.2,749 535.6,749 536,749.1 536.4,749.2 536.8,749.2 537.2,749.3 537.6,749.3 538,749.4 538.4,749.4 538.8,749.5 539.2,749.5 539.6,749.6 540,749.6 540.4,749.6 540.8,749.7 541.2,749.7 541.6,749.8 542,749.8 542.4,749.9 542.8,749.9 543.2,749.9 543.6,750 544,750 544.4,750 544.8,750.1 545.2,750.1 545.6,750.1 546,750.2 546.4,750.2 546.8,750.2 547.2,750.3 547.6,750.3 548,750.3 548.4,750.4 548.8,750.4 549.2,750.4 549.6,750.4 550,750.5 550.4,750.5 550.8,750.5 551.2,750.5 551.6,750.6 552,750.6 552.4,750.6 552.8,750.6 553.2,750.7 553.6,750.7 554,750.7 554.4,750.7 554.8,750.8 555.2,750.8 555.6,750.8 556,750.8 556.4,750.9 556.8,750.9 557.2,750.9 557.6,750.9 558,750.9 558.4,751 558.8,751 559.2,751 559.6,751 560,751 560.4,751.1 560.8,751.1 561.2,751.1 561.6,751.1 562,751.2 562.4,751.2 562.8,751.2 563.2,751.2 563.6,751.2 564,751.2 564.4,751.3 564.8,751.3 565.2,751.3 565.6,751.3 566,751.3 566.4,751.4 566.8,751.4 567.2,751.4 567.6,751.4 568,751.4 568.4,751.5 568.8,751.5 569.2,751.5 569.6,751.5 570,751.5 570.4,751.5 570.8,751.6 571.2,751.6 571.6,751.6 572,751.6 572.4,751.6 572.8,751.6 573.2,751.7 573.6,751.7 574,751.7 574.4,751.7 574.8,751.7 575.2,751.7 575.6,751.7 576,751.8 576.4,751.8 576.8,751.8 577.2,751.8 577.6,751.8 578,751.8 578.4,751.8 578.8,751.9 579.2,751.9 579.6,751.9 580,751.9 580.4,751.9 580.8,751.9 581.2,751.9 581.6,751.9 582,751.9 582.4,752 582.8,752 583.2,752 583.6,752 584,752 584.4,752 584.8,752 585.2,752 585.6,752 586,752 586.4,752 586.8,752 587.2,752.1 587.6,752.1 588,752.1 588.4,752.1 588.8,752.1 589.2,752.1 589.6,752.1 590,752.1 590.4,752.1 590.8,752.1 591.2,752.1 591.6,752.1 592,752.1 592.4,752.1 592.8,752.1 593.2,752.1 593.6,752.1 594,752.1 594.4,752 594.8,752 595.2,752 595.6,752 596,752 596.4,752 596.8,752 597.2,752 597.6,751.9 598,751.9 598.4,751.9 598.8,751.9 599.2,751.9 599.6,751.8 600,751.8 600.4,751.8 600.8,751.7 601.2,751.7 601.6,751.7 602,751.6 602.4,751.6 602.8,751.5 603.2,751.5 603.6,751.4 604,751.4 604.4,751.3 604.8,751.2 605.2,751.1 605.6,751.1 606,751 606.4,750.9 606.8,750.8 607.2,750.7 607.6,750.5 608,750.4 608.4,750.3 608.8,750.1 609.2,749.9 609.6,749.8 610,749.5 610.4,749.3 610.8,749 611.2,748.7 611.6,748.4 612,747.9 612.4,747.4 612.8,746.8 613.2,746 613.6,745 614,743.8 614.4,742.4 614.8,740.6 615.2,738.4 615.6,735.8 616,732.7 616.4,729 616.8,724.8 617.2,720 617.6,714.6 618,708.7 618.4,702.3 618.8,695.6 619.2,688.7 619.6,681.9 620,675.4 620.4,669.5 620.8,664.7 621.2,661.5 621.6,660 622,660.5 622.4,662.9 622.8,667 623.2,672.4 623.6,678.7 624,685.5 624.4,692.4 624.8,699.2 625.2,705.8 625.6,712 626,717.6 626.4,722.8 626.8,727.3 627.2,731.3 627.6,734.7 628,737.5 628.4,740 628.8,742 629.2,743.6 629.6,744.9 630,746 630.4,746.9 630.8,747.7 631.2,748.3 631.6,748.8 632,749.2 632.4,749.6 632.8,749.9 633.2,750.2 633.6,750.4 634,750.6 634.4,750.9 634.8,751 635.2,751.2 635.6,751.4 636,751.5 636.4,751.7 636.8,751.8 637.2,751.9 637.6,752 638,752.2 638.4,752.3 638.8,752.4 639.2,752.5 639.6,752.5 640,752.6 640.4,752.7 640.8,752.8 641.2,752.9 641.6,752.9 642,753 642.4,753.1 642.8,753.1" fill="none" stroke="#ead6bf" stroke-width="1.4" stroke-linejoin="round"/>
<circle cx="599.7" cy="752" r="1.9" fill="#eedccb" stroke="#d2b596" stroke-width=".8"/>
<circle cx="612.1" cy="747.8" r="1.9" fill="#eedccb" stroke="#d2b596" stroke-width=".8"/>
<circle cx="614.1" cy="743.6" r="1.9" fill="#eedccb" stroke="#d2b596" stroke-width=".8"/>
<circle cx="615" cy="739.4" r="1.9" fill="#eedccb" stroke="#d2b596" stroke-width=".8"/>
<circle cx="615.7" cy="735.2" r="1.9" fill="#eedccb" stroke="#d2b596" stroke-width=".8"/>
<circle cx="616.2" cy="731" r="1.9" fill="#eedccb" stroke="#d2b596" stroke-width=".8"/>
<circle cx="616.6" cy="726.8" r="1.9" fill="#eedccb" stroke="#d2b596" stroke-width=".8"/>
<circle cx="617" cy="722.6" r="1.9" fill="#eedccb" stroke="#d2b596" stroke-width=".8"/>
<circle cx="617.3" cy="718.4" r="1.9" fill="#eedccb" stroke="#d2b596" stroke-width=".8"/>
<circle cx="617.6" cy="714.2" r="1.9" fill="#eedccb" stroke="#d2b596" stroke-width=".8"/>
<circle cx="617.9" cy="710" r="1.9" fill="#eedccb" stroke="#d2b596" stroke-width=".8"/>
<circle cx="618.2" cy="705.8" r="1.9" fill="#eedccb" stroke="#d2b596" stroke-width=".8"/>
<circle cx="618.4" cy="701.6" r="1.9" fill="#eedccb" stroke="#d2b596" stroke-width=".8"/>
<circle cx="618.7" cy="697.4" r="1.9" fill="#eedccb" stroke="#d2b596" stroke-width=".8"/>
<circle cx="618.9" cy="693.2" r="1.9" fill="#eedccb" stroke="#d2b596" stroke-width=".8"/>
<circle cx="619.2" cy="689" r="1.9" fill="#eedccb" stroke="#d2b596" stroke-width=".8"/>
<circle cx="619.4" cy="684.8" r="1.9" fill="#eedccb" stroke="#d2b596" stroke-width=".8"/>
<circle cx="619.7" cy="680.6" r="1.9" fill="#eedccb" stroke="#d2b596" stroke-width=".8"/>
<circle cx="619.9" cy="676.4" r="1.9" fill="#eedccb" stroke="#d2b596" stroke-width=".8"/>
<circle cx="620.2" cy="672.2" r="1.9" fill="#eedccb" stroke="#d2b596" stroke-width=".8"/>
<circle cx="637.4" cy="752" r="1.9" fill="#eedccb" stroke="#d2b596" stroke-width=".8"/>
<circle cx="630.9" cy="747.8" r="1.9" fill="#eedccb" stroke="#d2b596" stroke-width=".8"/>
<circle cx="629.2" cy="743.6" r="1.9" fill="#eedccb" stroke="#d2b596" stroke-width=".8"/>
<circle cx="628.3" cy="739.4" r="1.9" fill="#eedccb" stroke="#d2b596" stroke-width=".8"/>
<circle cx="627.7" cy="735.2" r="1.9" fill="#eedccb" stroke="#d2b596" stroke-width=".8"/>
<circle cx="627.2" cy="731" r="1.9" fill="#eedccb" stroke="#d2b596" stroke-width=".8"/>
<circle cx="626.8" cy="726.8" r="1.9" fill="#eedccb" stroke="#d2b596" stroke-width=".8"/>
<circle cx="626.4" cy="722.6" r="1.9" fill="#eedccb" stroke="#d2b596" stroke-width=".8"/>
<circle cx="626.1" cy="718.4" r="1.9" fill="#eedccb" stroke="#d2b596" stroke-width=".8"/>
<circle cx="625.8" cy="714.2" r="1.9" fill="#eedccb" stroke="#d2b596" stroke-width=".8"/>
<circle cx="625.5" cy="710" r="1.9" fill="#eedccb" stroke="#d2b596" stroke-width=".8"/>
<circle cx="625.2" cy="705.8" r="1.9" fill="#eedccb" stroke="#d2b596" stroke-width=".8"/>
<circle cx="624.9" cy="701.6" r="1.9" fill="#eedccb" stroke="#d2b596" stroke-width=".8"/>
<circle cx="624.7" cy="697.4" r="1.9" fill="#eedccb" stroke="#d2b596" stroke-width=".8"/>
<circle cx="624.4" cy="693.2" r="1.9" fill="#eedccb" stroke="#d2b596" stroke-width=".8"/>
<circle cx="624.2" cy="689" r="1.9" fill="#eedccb" stroke="#d2b596" stroke-width=".8"/>
<circle cx="624" cy="684.8" r="1.9" fill="#eedccb" stroke="#d2b596" stroke-width=".8"/>
<circle cx="623.7" cy="680.6" r="1.9" fill="#eedccb" stroke="#d2b596" stroke-width=".8"/>
<circle cx="623.5" cy="676.4" r="1.9" fill="#eedccb" stroke="#d2b596" stroke-width=".8"/>
<circle cx="623.2" cy="672.2" r="1.9" fill="#eedccb" stroke="#d2b596" stroke-width=".8"/>
<circle cx="621.2" cy="668" r="1.9" fill="#eedccb" stroke="#d2b596" stroke-width=".8"/>
<circle cx="622.2" cy="664.2" r="1.9" fill="#eedccb" stroke="#d2b596" stroke-width=".8"/>
<circle cx="621.7" cy="660.3" r="1.9" fill="#eedccb" stroke="#d2b596" stroke-width=".8"/>
<polyline points="394,729 397.2,729.9 400.4,730.7 403.6,731.6 406.8,732.4 410,733.2 413.2,733.9 416.4,734.7 419.6,735.4 422.8,736.1 426,736.7 429.2,737.4 432.4,738 435.6,738.7 438.8,739.2 442,739.8 445.2,740.4 448.4,740.9 451.6,741.5 454.8,742 458,742.5 461.2,742.9 464.4,743.4 467.6,743.9 470.8,744.3 474,744.7 477.2,745.1 480.4,745.5 483.6,745.9 486.8,746.3 490,746.7 493.2,747 496.4,747.4 499.6,747.7 502.8,748 506,748.3 509.2,748.7 512.4,748.9 515.6,749.2 518.8,749.5 522,749.8 525.2,750 528.4,750.3 531.6,750.5 534.8,750.8 538,751 541.2,751.2 544.4,751.5 547.6,751.7 550.8,751.9 554,752.1 557.2,752.3 560.4,752.5 563.6,752.6 566.8,752.8 570,753 573.2,753.1 576.4,753.3 579.6,753.5 582.8,753.6 586,753.8 589.2,753.9 592.4,754 595.6,754.2 598.8,754.3 602,754.4 605.2,754.6 608.4,754.7 611.6,754.8 614.8,754.9 618,755 621.2,755.1 624.4,755.2 627.6,755.3 630.8,755.4 634,755.5 637.2,755.6 640.4,755.7" fill="none" stroke="#8c8c8c" stroke-width="1"/>
<polyline points="394,809.6 394.8,809.2 395.6,808.7 396.4,808.4 397.2,807.9 398,807.9 398.8,807 399.6,807.5 400.4,808.1 401.2,808.2 402,808.8 402.8,808.6 403.6,809.4 404.4,809.7 405.2,810.4 406,810.8 406.8,810.6 407.6,811 408.4,811.1 409.2,811.5 410,811.1 410.8,810 411.6,809.5 412.4,807.8 413.2,807 414,805.9 414.8,805.7 415.6,806.8 416.4,806.8 417.2,807.2 418,808.1 418.8,808.2 419.6,807.9 420.4,808.6 421.2,808.6 422,809.1 422.8,809.1 423.6,810 424.4,810.2 425.2,810.7 426,810.9 426.8,810.6 427.6,810.7 428.4,810.6 429.2,810.5 430,810.3 430.8,810.2 431.6,810.1 432.4,809.4 433.2,809.5 434,809 434.8,808.7 435.6,808.8 436.4,808.4 437.2,808.2 438,808.3 438.8,808.5 439.6,808.3 440.4,809.1 441.2,809 442,810.1 442.8,811.1 443.6,811.5 444.4,812.1 445.2,811.6 446,811.2 446.8,810.5 447.6,810.4 448.4,810.3 449.2,810.6 450,810 450.8,810.1 451.6,810 452.4,809.7 453.2,809.2 454,809 454.8,808.9 455.6,808.9 456.4,808.4 457.2,808.7 458,808.8 458.8,808.8 459.6,808.4 460.4,808.5 461.2,807.5 462,806.9 462.8,806.7 463.6,807 464.4,806.4 465.2,804.9 466,802.1 466.8,802.1 467.6,806.5 468.4,813.5 469.2,818.3 470,816.4 470.8,812.2 471.6,810.2 472.4,809.3 473.2,809 474,809.3 474.8,809 475.6,808.8 476.4,808.7 477.2,808.9 478,809 478.8,809 479.6,809.1 480.4,809.1 481.2,809.6 482,809.4 482.8,809.7 483.6,810 484.4,809.8 485.2,810.1 486,810.2 486.8,810.1 487.6,810.1 488.4,809.8 489.2,809.8 490,809.6 490.8,809.7 491.6,809.4 492.4,809.3 493.2,809.4 494,809.2 494.8,809.2 495.6,809 496.4,809 497.2,809.1 498,809.1 498.8,809.1 499.6,809.2 500.4,809.3 501.2,809.5 502,809.8 502.8,809.9 503.6,809.9 504.4,809.9 505.2,809.9 506,809.8 506.8,809.9 507.6,810 508.4,809.9 509.2,809.7 510,809.7 510.8,809.6 511.6,809.5 512.4,809.4 513.2,809.3 514,809.1 514.8,809.2 515.6,809.1 516.4,809.1 517.2,809.2 518,809.3 518.8,809.2 519.6,809.5 520.4,809.5 521.2,809.6 522,809.5 522.8,809.7 523.6,809.7 524.4,809.9 525.2,809.8 526,809.9 526.8,809.8 527.6,809.8 528.4,809.7 529.2,809.6 530,809.6 530.8,809.5 531.6,809.3 532.4,809.4 533.2,809.3 534,809.3 534.8,809.3 535.6,809.3 536.4,809.2 537.2,809.3 538,809.3 538.8,809.5 539.6,809.5 540.4,809.5 541.2,809.6 542,809.7 542.8,809.7 543.6,809.7 544.4,809.8 545.2,809.8 546,809.8 546.8,809.7 547.6,809.7 548.4,809.7 549.2,809.6 550,809.5 550.8,809.3 551.6,809.3 552.4,809.3 553.2,809.3 554,809.2 554.8,809.3 555.6,809.3 556.4,809.2 557.2,809.3 558,809.4 558.8,809.4 559.6,809.4 560.4,809.5 561.2,809.6 562,809.6 562.8,809.6 563.6,809.7 564.4,809.7 565.2,809.7 566,809.7 566.8,809.6 567.6,809.7 568.4,809.5 569.2,809.5 570,809.4 570.8,809.4 571.6,809.3 572.4,809.4 573.2,809.3 574,809.3 574.8,809.4 575.6,809.3 576.4,809.4 577.2,809.4 578,809.5 578.8,809.5 579.6,809.6 580.4,809.6 581.2,809.6 582,809.6 582.8,809.6 583.6,809.6 584.4,809.7 585.2,809.6 586,809.7 586.8,809.6 587.6,809.6 588.4,809.5 589.2,809.5 590,809.4 590.8,809.4 591.6,809.4 592.4,809.4 593.2,809.3 594,809.4 594.8,809.4 595.6,809.4 596.4,809.4 597.2,809.4 598,809.5 598.8,809.6 599.6,809.5 600.4,809.6 601.2,809.6 602,809.6 602.8,809.6 603.6,809.7 604.4,809.6 605.2,809.6 606,809.6 606.8,809.6 607.6,809.5 608.4,809.5 609.2,809.5 610,809.4 610.8,809.4 611.6,809.4 612.4,809.4 613.2,809.4 614,809.4 614.8,809.4 615.6,809.4 616.4,809.4 617.2,809.3 618,808.9 618.8,808.2 619.6,807.2 620.4,806 621.2,805.3 622,805.1 622.8,805.8 623.6,806.9 624.4,808.1 625.2,808.8 626,809.3 626.8,809.4 627.6,809.5 628.4,809.5 629.2,809.5 630,809.4 630.8,809.4 631.6,809.4 632.4,809.4 633.2,809.4 634,809.5 634.8,809.5 635.6,809.4 636.4,809.5 637.2,809.5 638,809.5 638.8,809.6 639.6,809.5 640.4,809.5 641.2,809.6 642,809.6 642.8,809.6" fill="none" stroke="#f1d5bf" stroke-width="1.1"/>
</g>
<rect x="453.8" y="721.3" width="13.3" height="21.3" fill="none" stroke="#1f4f80" stroke-width="1.3"/>
<path d="M453.6 714.8l3 .9M463.2 715.4l3-1.2" stroke="#222" stroke-width="1.2" stroke-dasharray="1.6 1" fill="none"/>
<rect x="394.3" y="761.4" width="19" height="9" fill="#38566d"/>
<path d="M414.4 761.4v9M415.8 761.4v9M418.2 761.4v9M419.6 761.4v9M421.5 761.4v9M423 761.4v9M425.6 761.4v9M427 761.4v9M428.2 761.4v9M430 761.4v9M432.6 761.4v9M434 761.4v9M443 761.4v9M445.5 761.4v9M447.7 761.4v9M450.8 761.4v9M468.6 761.4v9M478.6 761.4v9M492 761.4v9M496.3 761.4v9M502.7 761.4v9M618.9 761.4v9" stroke="#4a6a85" stroke-width="1.15" fill="none" opacity=".85"/>
<path d="M416.8 761.4v9M420.5 761.4v9M424.2 761.4v9M429.1 761.4v9M431.3 761.4v9M433.2 761.4v9" stroke="#b9c4cf" stroke-width="1.3" fill="none"/>
<rect x="394.3" y="774.9" width="11.5" height="9.6" fill="#7db5dc"/>
<path d="M406.8 774.9v9.6M408.2 774.9v9.6M409.8 774.9v9.6M411.3 774.9v9.6M412.7 774.9v9.6M414.6 774.9v9.6M416.2 774.9v9.6M418 774.9v9.6M420 774.9v9.6M422.4 774.9v9.6M425.3 774.9v9.6M429.5 774.9v9.6M434.1 774.9v9.6M439.5 774.9v9.6M446.6 774.9v9.6M450.8 774.9v9.6M461.5 774.9v9.6M492 774.9v9.6M512.3 774.9v9.6M617.8 774.9v9.6" stroke="#86bde2" stroke-width="1.15" fill="none"/>
<rect x="394" y="573.3" width="249" height="252.7" fill="none" stroke="#222" stroke-width="1.4"/>
<line x1="421.7" y1="826" x2="421.7" y2="830.5" stroke="#222" stroke-width="1.3" />
<line x1="476.8" y1="826" x2="476.8" y2="830.5" stroke="#222" stroke-width="1.3" />
<line x1="532" y1="826" x2="532" y2="830.5" stroke="#222" stroke-width="1.3" />
<line x1="587.6" y1="826" x2="587.6" y2="830.5" stroke="#222" stroke-width="1.3" />
<line x1="643" y1="826" x2="643" y2="830.5" stroke="#222" stroke-width="1.3" />
<text x="476.8" y="857.5" font-size="15.5" text-anchor="middle" fill="#222" >2</text>
<text x="587.6" y="857.5" font-size="15.5" text-anchor="middle" fill="#222" >4</text>
<text x="518.5" y="883.5" font-size="18.3" text-anchor="middle" fill="#222" >d-spacing (Å)</text>
<text transform="translate(374.5,699.5) rotate(-90)" font-size="14.5" text-anchor="middle" fill="#222">Intensity (arb. unit)</text>
<line x1="414.8" y1="582.7" x2="414.8" y2="597.3" stroke="#a9b9c9" stroke-width="1.2" />
<text x="438.3" y="596.5" font-size="16" fill="#222" ><tspan font-style="italic">R</tspan>-3<tspan font-style="italic">m</tspan>: 95.6%</text>
<line x1="414.8" y1="608" x2="414.8" y2="623.3" stroke="#8cc0e8" stroke-width="1.2" />
<text x="439" y="621.3" font-size="16" fill="#222" ><tspan font-style="italic">P</tspan>-3<tspan font-style="italic">m</tspan>1: 4.4%</text>
<circle cx="414.8" cy="641" r="1.9" fill="#eedccb" stroke="#d2b596" stroke-width=".8"/>
<text x="438.3" y="646.3" font-size="16" fill="#222" >Y<tspan baseline-shift="-3.4" font-size="68%">obs</tspan></text>
<line x1="481.5" y1="641" x2="518.5" y2="641" stroke="#f3d9c6" stroke-width="1.1" />
<text x="522.5" y="646.3" font-size="16" fill="#222" >Y<tspan baseline-shift="-3.4" font-size="68%">cal</tspan></text>
<line x1="397" y1="664.3" x2="432.7" y2="664.3" stroke="#8c8c8c" stroke-width="1" />
<text x="438.3" y="669.8" font-size="16" fill="#222" >Y<tspan baseline-shift="-3.4" font-size="68%">bkg</tspan></text>
<line x1="481.5" y1="664.3" x2="518.5" y2="664.3" stroke="#f3d9c6" stroke-width="1.1" />
<text x="522.5" y="669.8" font-size="16" fill="#222" >Y<tspan baseline-shift="-3.4" font-size="68%">obs</tspan>-Y<tspan baseline-shift="-3.4" font-size="68%">cal</tspan></text>
<text x="638.5" y="591.2" font-size="15.3" text-anchor="end" fill="#222" letter-spacing=".35">NCMOOH</text>
<text x="412" y="706.3" font-size="16" fill="#222" letter-spacing=".2">Residual NCMOH</text>
</g>
<g id="panel-e">
<text x="671.4" y="573" font-size="24" font-weight="bold" >e</text>
<defs>
<clipPath id="clipe"><rect x="692" y="573" width="258.5" height="258.5"/></clipPath>
<pattern id="pe" width="4.2" height="4.15" patternUnits="userSpaceOnUse" patternTransform="rotate(37.4 692 573)">
<rect width="4.2" height="4.15" fill="#0e4f66"/><ellipse cx="2.1" cy="2.07" rx="1.8" ry="1.5" fill="#2ba3c3"/></pattern>
<filter id="be" x="-20%" y="-20%" width="140%" height="140%"><feGaussianBlur stdDeviation="3.6"/></filter>
<filter id="be2" x="-20%" y="-20%" width="140%" height="140%"><feGaussianBlur stdDeviation="0.62"/></filter><filter id="be4" x="-20%" y="-20%" width="140%" height="140%"><feGaussianBlur stdDeviation="0.55"/></filter>
<filter id="be3" x="-20%" y="-20%" width="140%" height="140%"><feGaussianBlur stdDeviation="0.75"/></filter>
<filter id="ne1" x="0" y="0" width="100%" height="100%" color-interpolation-filters="sRGB"><feTurbulence type="fractalNoise" baseFrequency=".09" numOctaves="2" seed="12"/><feColorMatrix type="matrix" values="0 0 0 0 .02  0 0 0 0 .12  0 0 0 0 .17  1.5 0 0 0 -.64"/></filter>
<filter id="ne2" x="0" y="0" width="100%" height="100%" color-interpolation-filters="sRGB"><feTurbulence type="fractalNoise" baseFrequency=".011 .085" numOctaves="2" seed="5"/><feColorMatrix type="matrix" values="0 0 0 0 .015  0 0 0 0 .10  0 0 0 0 .15  2.0 0 0 0 -.84"/></filter>
<radialGradient id="gfft" cx="50%" cy="50%" r="50%"><stop offset="0" stop-color="#fff" stop-opacity=".95"/><stop offset=".12" stop-color="#ddd" stop-opacity=".55"/><stop offset=".45" stop-color="#777" stop-opacity=".22"/><stop offset="1" stop-color="#333" stop-opacity="0"/></radialGradient>
<radialGradient id="gfm" cx="50%" cy="50%" r="50%"><stop offset="0" stop-color="#fff"/><stop offset=".35" stop-color="#aaa"/><stop offset=".7" stop-color="#444"/><stop offset="1" stop-color="#000"/></radialGradient>
<filter id="nfft" x="0" y="0" width="100%" height="100%" color-interpolation-filters="sRGB"><feTurbulence type="fractalNoise" baseFrequency=".5" numOctaves="1" seed="2"/><feColorMatrix type="matrix" values="0 0 0 0 1  0 0 0 0 1  0 0 0 0 1  3.2 0 0 0 -1.25"/></filter>
<mask id="mke" maskUnits="userSpaceOnUse" x="830" y="710" width="130" height="130"><circle cx="892.8" cy="775" r="58" fill="url(#gfm)"/></mask>
</defs>
<g clip-path="url(#clipe)">
<rect x="692" y="573" width="258.5" height="258.5" fill="#176a86"/>
<rect x="687" y="568" width="268.5" height="268.5" fill="url(#pe)" filter="url(#be2)"/>
<rect x="692" y="573" width="258.5" height="258.5" filter="url(#ne1)"/>
<g transform="rotate(37.4 692 573)"><rect x="672" y="383" width="420" height="420" filter="url(#ne2)"/></g>
<g filter="url(#be)" stroke="#03161f" stroke-linecap="round" fill="none">
<line x1="700.1" y1="581.1" x2="783.7" y2="653.9" stroke-width="18.9" opacity="0.95"/>
<line x1="721.7" y1="600" x2="770.2" y2="639.1" stroke-width="12.4" opacity="0.85"/>
<line x1="692" y1="605.4" x2="716.3" y2="626.9" stroke-width="10.8" opacity="0.5"/>
<line x1="686.6" y1="662" x2="721.7" y2="702.4" stroke-width="18.9" opacity="0.7"/>
<line x1="692" y1="745.6" x2="721.7" y2="775.2" stroke-width="13.5" opacity="0.6"/>
<line x1="729.7" y1="734.8" x2="781" y2="767.1" stroke-width="10.2" opacity="0.6"/>
<line x1="807.9" y1="583.8" x2="845.7" y2="616.1" stroke-width="10.8" opacity="0.65"/>
<line x1="864.6" y1="635" x2="905" y2="664.7" stroke-width="12.4" opacity="0.75"/>
<line x1="872.6" y1="667.4" x2="899.6" y2="694.3" stroke-width="9.2" opacity="0.6"/>
<line x1="929.3" y1="645.8" x2="953.5" y2="664.7" stroke-width="10.8" opacity="0.6"/>
<line x1="786.4" y1="769.8" x2="832.2" y2="807.6" stroke-width="13.5" opacity="0.65"/>
<line x1="756.7" y1="802.2" x2="799.8" y2="831.8" stroke-width="12.4" opacity="0.6"/>
<line x1="923.9" y1="597.3" x2="953.5" y2="621.5" stroke-width="10.8" opacity="0.6"/>
<line x1="692" y1="626.9" x2="708.2" y2="640.4" stroke-width="10.8" opacity="0.5"/>
<line x1="816" y1="686.2" x2="843" y2="707.8" stroke-width="8.1" opacity="0.35"/>
<line x1="702.8" y1="783.3" x2="745.9" y2="815.7" stroke-width="10.8" opacity="0.45"/>
<line x1="843" y1="608" x2="864.6" y2="624.2" stroke-width="7" opacity="0.4"/>
<line x1="692" y1="573" x2="716.3" y2="583.8" stroke-width="10.8" opacity="0.45"/>
<line x1="740.5" y1="653.9" x2="781" y2="686.2" stroke-width="7" opacity="0.4"/>
<line x1="832.2" y1="724" x2="837.6" y2="729.4" stroke-width="8.1" opacity="0.3"/>
<line x1="896.9" y1="699.7" x2="934.7" y2="718.6" stroke-width="6.5" opacity="0.35"/>
</g>
<g filter="url(#be)" stroke="#2397b5" stroke-linecap="round" fill="none">
<line x1="781" y1="589.2" x2="843" y2="653.9" stroke-width="13.5" opacity="0.4"/>
<line x1="843" y1="662" x2="880.7" y2="702.4" stroke-width="13.5" opacity="0.3"/>
<line x1="759.4" y1="686.2" x2="821.4" y2="748.2" stroke-width="16.2" opacity="0.35"/>
<line x1="896.9" y1="605.4" x2="934.7" y2="643.1" stroke-width="10.8" opacity="0.3"/>
<line x1="692" y1="718.6" x2="745.9" y2="734.8" stroke-width="8.1" opacity="0.3"/>
<line x1="843" y1="578.4" x2="880.7" y2="594.6" stroke-width="8.1" opacity="0.3"/>
</g>
<g fill="#f4c91a" filter="url(#be3)"><ellipse transform="rotate(37.4 944.9 612.2)" cx="944.9" cy="612.2" rx="1.4" ry="0.8" opacity=".75"/><ellipse transform="rotate(37.4 940.4 687.2)" cx="940.4" cy="687.2" rx="1.3" ry="0.8" opacity=".75"/><ellipse transform="rotate(37.4 836 664.8)" cx="836" cy="664.8" rx="1.5" ry="0.9" opacity=".75"/><ellipse transform="rotate(37.4 799.3 615.9)" cx="799.3" cy="615.9" rx="1.7" ry="1" opacity=".75"/><ellipse transform="rotate(37.4 920.6 609.4)" cx="920.6" cy="609.4" rx="1.3" ry="0.8" opacity=".45"/><ellipse transform="rotate(37.4 836 643.9)" cx="836" cy="643.9" rx="2.1" ry="1.3" opacity=".45"/><ellipse transform="rotate(37.4 945.5 680.6)" cx="945.5" cy="680.6" rx="1.9" ry="1.1" opacity=".9"/><ellipse transform="rotate(37.4 915.7 595.1)" cx="915.7" cy="595.1" rx="1.7" ry="1" opacity=".75"/><ellipse transform="rotate(37.4 941.3 672.2)" cx="941.3" cy="672.2" rx="1.6" ry="1" opacity=".9"/><ellipse transform="rotate(37.4 800 663.4)" cx="800" cy="663.4" rx="1.5" ry="0.9" opacity=".6"/><ellipse transform="rotate(37.4 876.3 612)" cx="876.3" cy="612" rx="2.3" ry="1.4" opacity=".75"/><ellipse transform="rotate(37.4 942.2 657.2)" cx="942.2" cy="657.2" rx="2.1" ry="1.3" opacity=".9"/><ellipse transform="rotate(37.4 931.4 643.7)" cx="931.4" cy="643.7" rx="2.2" ry="1.3" opacity=".6"/><ellipse transform="rotate(37.4 924.9 576.1)" cx="924.9" cy="576.1" rx="1.6" ry="1" opacity=".9"/><ellipse transform="rotate(37.4 762.9 739.5)" cx="762.9" cy="739.5" rx="2.2" ry="1.3" opacity=".45"/><ellipse transform="rotate(37.4 866.3 583.5)" cx="866.3" cy="583.5" rx="1.9" ry="1.2" opacity=".6"/><ellipse transform="rotate(37.4 827.7 648)" cx="827.7" cy="648" rx="1.5" ry="0.9" opacity=".9"/><ellipse transform="rotate(37.4 750.5 693.5)" cx="750.5" cy="693.5" rx="2" ry="1.2" opacity=".9"/><ellipse transform="rotate(37.4 776.3 749.7)" cx="776.3" cy="749.7" rx="2.3" ry="1.4" opacity=".9"/><ellipse transform="rotate(37.4 845.8 714.1)" cx="845.8" cy="714.1" rx="1.8" ry="1.1" opacity=".75"/><ellipse transform="rotate(37.4 762.9 739.5)" cx="762.9" cy="739.5" rx="2.3" ry="1.4" opacity=".9"/><ellipse transform="rotate(37.4 766.3 742.1)" cx="766.3" cy="742.1" rx="1.8" ry="1.1" opacity=".6"/><ellipse transform="rotate(37.4 885.1 718)" cx="885.1" cy="718" rx="1.7" ry="1" opacity=".45"/><ellipse transform="rotate(37.4 843.7 592.4)" cx="843.7" cy="592.4" rx="1.8" ry="1.1" opacity=".75"/><ellipse transform="rotate(37.4 793.8 747.5)" cx="793.8" cy="747.5" rx="1.9" ry="1.1" opacity=".9"/><ellipse transform="rotate(37.4 764 682.9)" cx="764" cy="682.9" rx="2.1" ry="1.3" opacity=".6"/><ellipse transform="rotate(37.4 896.9 695.7)" cx="896.9" cy="695.7" rx="2.1" ry="1.3" opacity=".45"/><ellipse transform="rotate(37.4 922.4 579.4)" cx="922.4" cy="579.4" rx="2" ry="1.2" opacity=".45"/><ellipse transform="rotate(37.4 720.4 712.2)" cx="720.4" cy="712.2" rx="2.2" ry="1.3" opacity=".9"/><ellipse transform="rotate(37.4 797 577.5)" cx="797" cy="577.5" rx="1.5" ry="0.9" opacity=".45"/><ellipse transform="rotate(37.4 852.1 588.3)" cx="852.1" cy="588.3" rx="1.4" ry="0.8" opacity=".9"/><ellipse transform="rotate(37.4 930.9 789.6)" cx="930.9" cy="789.6" rx="1.5" ry="0.9" opacity=".45"/><ellipse transform="rotate(37.4 945.7 618.1)" cx="945.7" cy="618.1" rx="1.6" ry="1" opacity=".9"/><ellipse transform="rotate(37.4 802.7 597.6)" cx="802.7" cy="597.6" rx="1.7" ry="1" opacity=".9"/><ellipse transform="rotate(37.4 918.3 785.2)" cx="918.3" cy="785.2" rx="2.2" ry="1.3" opacity=".45"/><ellipse transform="rotate(37.4 803.9 734.3)" cx="803.9" cy="734.3" rx="1.8" ry="1.1" opacity=".75"/><ellipse transform="rotate(37.4 753.9 696.1)" cx="753.9" cy="696.1" rx="1.6" ry="1" opacity=".6"/><ellipse transform="rotate(37.4 801 606.7)" cx="801" cy="606.7" rx="2.4" ry="1.4" opacity=".9"/><ellipse transform="rotate(37.4 919 597.7)" cx="919" cy="597.7" rx="1.3" ry="0.8" opacity=".9"/><ellipse transform="rotate(37.4 824.3 645.4)" cx="824.3" cy="645.4" rx="2.2" ry="1.3" opacity=".75"/><ellipse transform="rotate(37.4 765.4 757.1)" cx="765.4" cy="757.1" rx="1.6" ry="0.9" opacity=".45"/><ellipse transform="rotate(37.4 858.6 655.9)" cx="858.6" cy="655.9" rx="1.4" ry="0.9" opacity=".45"/><ellipse transform="rotate(37.4 789.3 608.2)" cx="789.3" cy="608.2" rx="2.1" ry="1.2" opacity=".9"/><ellipse transform="rotate(37.4 916 746.8)" cx="916" cy="746.8" rx="1.7" ry="1" opacity=".6"/><ellipse transform="rotate(37.4 766.4 700.4)" cx="766.4" cy="700.4" rx="1.6" ry="1" opacity=".45"/><ellipse transform="rotate(37.4 844.3 660.7)" cx="844.3" cy="660.7" rx="1.5" ry="0.9" opacity=".6"/><ellipse transform="rotate(37.4 901.1 683.3)" cx="901.1" cy="683.3" rx="2.4" ry="1.4" opacity=".9"/><ellipse transform="rotate(37.4 869.2 711.1)" cx="869.2" cy="711.1" rx="1.4" ry="0.8" opacity=".6"/><ellipse transform="rotate(37.4 943 663)" cx="943" cy="663" rx="1.5" ry="0.9" opacity=".45"/><ellipse transform="rotate(37.4 805.9 662.7)" cx="805.9" cy="662.7" rx="2.1" ry="1.2" opacity=".9"/><ellipse transform="rotate(37.4 696.6 584.3)" cx="696.6" cy="584.3" rx="2" ry="1.2" opacity=".75"/><ellipse transform="rotate(37.4 816.4 759.5)" cx="816.4" cy="759.5" rx="1.9" ry="1.1" opacity=".45"/><ellipse transform="rotate(37.4 897.7 701.5)" cx="897.7" cy="701.5" rx="1.3" ry="0.8" opacity=".75"/><ellipse transform="rotate(37.4 889.8 580.5)" cx="889.8" cy="580.5" rx="1.5" ry="0.9" opacity=".9"/><ellipse transform="rotate(37.4 911.1 711.7)" cx="911.1" cy="711.7" rx="1.7" ry="1" opacity=".6"/><ellipse transform="rotate(37.4 834.8 742.3)" cx="834.8" cy="742.3" rx="2.2" ry="1.3" opacity=".75"/><ellipse transform="rotate(37.4 780.5 737.3)" cx="780.5" cy="737.3" rx="1.5" ry="0.9" opacity=".45"/><ellipse transform="rotate(37.4 929.5 694.5)" cx="929.5" cy="694.5" rx="1.8" ry="1.1" opacity=".9"/><ellipse transform="rotate(37.4 846.9 657.4)" cx="846.9" cy="657.4" rx="2" ry="1.2" opacity=".9"/><ellipse transform="rotate(37.4 801 606.7)" cx="801" cy="606.7" rx="2" ry="1.2" opacity=".45"/><ellipse transform="rotate(37.4 749.3 577.6)" cx="749.3" cy="577.6" rx="1.7" ry="1" opacity=".75"/><ellipse transform="rotate(37.4 729.7 672.3)" cx="729.7" cy="672.3" rx="1.6" ry="0.9" opacity=".75"/><ellipse transform="rotate(37.4 750.5 714.3)" cx="750.5" cy="714.3" rx="2.3" ry="1.4" opacity=".6"/><ellipse transform="rotate(37.4 779.7 731.5)" cx="779.7" cy="731.5" rx="2.2" ry="1.3" opacity=".45"/><ellipse transform="rotate(37.4 844.9 749.9)" cx="844.9" cy="749.9" rx="1.5" ry="0.9" opacity=".9"/><ellipse transform="rotate(37.4 868.6 663.6)" cx="868.6" cy="663.6" rx="1.8" ry="1.1" opacity=".45"/><ellipse transform="rotate(37.4 748.6 765.2)" cx="748.6" cy="765.2" rx="2.4" ry="1.4" opacity=".6"/><ellipse transform="rotate(37.4 700.8 807)" cx="700.8" cy="807" rx="2.1" ry="1.2" opacity=".75"/><ellipse transform="rotate(37.4 822.5 675.4)" cx="822.5" cy="675.4" rx="2.1" ry="1.2" opacity=".45"/><ellipse transform="rotate(37.4 843.4 696.6)" cx="843.4" cy="696.6" rx="2.1" ry="1.2" opacity=".6"/><ellipse transform="rotate(37.4 933.7 682.1)" cx="933.7" cy="682.1" rx="1.8" ry="1.1" opacity=".75"/><ellipse transform="rotate(37.4 864.4 676)" cx="864.4" cy="676" rx="2.3" ry="1.4" opacity=".45"/><ellipse transform="rotate(37.4 795.9 634.2)" cx="795.9" cy="634.2" rx="2.3" ry="1.4" opacity=".6"/><ellipse transform="rotate(37.4 846.3 589.1)" cx="846.3" cy="589.1" rx="2.4" ry="1.4" opacity=".6"/><ellipse transform="rotate(37.4 821.9 627.9)" cx="821.9" cy="627.9" rx="2.2" ry="1.3" opacity=".45"/><ellipse transform="rotate(37.4 786.4 736.6)" cx="786.4" cy="736.6" rx="1.5" ry="0.9" opacity=".6"/><ellipse transform="rotate(37.4 787.7 596.5)" cx="787.7" cy="596.5" rx="2.3" ry="1.4" opacity=".9"/><ellipse transform="rotate(37.4 739.7 680)" cx="739.7" cy="680" rx="1.4" ry="0.8" opacity=".9"/><ellipse transform="rotate(37.4 937.8 711.3)" cx="937.8" cy="711.3" rx="1.9" ry="1.1" opacity=".75"/><ellipse transform="rotate(37.4 869.4 669.4)" cx="869.4" cy="669.4" rx="1.8" ry="1.1" opacity=".9"/><ellipse transform="rotate(37.4 819.8 741.2)" cx="819.8" cy="741.2" rx="1.6" ry="0.9" opacity=".9"/><ellipse transform="rotate(37.4 784.3 614.8)" cx="784.3" cy="614.8" rx="1.7" ry="1" opacity=".9"/><ellipse transform="rotate(37.4 838.4 682.3)" cx="838.4" cy="682.3" rx="2.2" ry="1.3" opacity=".6"/><ellipse transform="rotate(37.4 923 647.7)" cx="923" cy="647.7" rx="1.7" ry="1" opacity=".6"/><ellipse transform="rotate(37.4 864.5 634.4)" cx="864.5" cy="634.4" rx="2.2" ry="1.3" opacity=".45"/><ellipse transform="rotate(37.4 796.1 592.5)" cx="796.1" cy="592.5" rx="1.9" ry="1.1" opacity=".45"/><ellipse transform="rotate(37.4 722 723.9)" cx="722" cy="723.9" rx="1.8" ry="1.1" opacity=".6"/><ellipse transform="rotate(37.4 897.1 633.2)" cx="897.1" cy="633.2" rx="1.5" ry="0.9" opacity=".6"/><ellipse transform="rotate(37.4 897.4 784.9)" cx="897.4" cy="784.9" rx="2.2" ry="1.3" opacity=".75"/><ellipse transform="rotate(37.4 886.1 682.2)" cx="886.1" cy="682.2" rx="1.8" ry="1.1" opacity=".6"/><ellipse transform="rotate(37.4 801 606.7)" cx="801" cy="606.7" rx="1.5" ry="0.9" opacity=".75"/><ellipse transform="rotate(37.4 736.4 677.5)" cx="736.4" cy="677.5" rx="2.1" ry="1.2" opacity=".75"/><ellipse transform="rotate(37.4 873.7 636.2)" cx="873.7" cy="636.2" rx="1.3" ry="0.8" opacity=".45"/><ellipse transform="rotate(37.4 880.6 578.7)" cx="880.6" cy="578.7" rx="2" ry="1.2" opacity=".45"/><ellipse transform="rotate(37.4 790.9 619.9)" cx="790.9" cy="619.9" rx="1.3" ry="0.8" opacity=".45"/><ellipse transform="rotate(37.4 901.1 683.3)" cx="901.1" cy="683.3" rx="1.6" ry="1" opacity=".45"/><ellipse transform="rotate(37.4 915.2 720.1)" cx="915.2" cy="720.1" rx="2" ry="1.2" opacity=".6"/><ellipse transform="rotate(37.4 792.7 589.9)" cx="792.7" cy="589.9" rx="1.4" ry="0.8" opacity=".45"/><ellipse transform="rotate(37.4 785.8 668.2)" cx="785.8" cy="668.2" rx="1.7" ry="1" opacity=".9"/><ellipse transform="rotate(37.4 770.5 729.6)" cx="770.5" cy="729.6" rx="2.1" ry="1.3" opacity=".75"/><ellipse transform="rotate(37.4 903.4 742.5)" cx="903.4" cy="742.5" rx="2.3" ry="1.4" opacity=".75"/><ellipse transform="rotate(37.4 870.4 633.6)" cx="870.4" cy="633.6" rx="2.1" ry="1.2" opacity=".45"/><ellipse transform="rotate(37.4 824.3 645.4)" cx="824.3" cy="645.4" rx="2.2" ry="1.3" opacity=".45"/><ellipse transform="rotate(37.4 774 669.7)" cx="774" cy="669.7" rx="2.4" ry="1.4" opacity=".45"/><ellipse transform="rotate(37.4 817.6 640.3)" cx="817.6" cy="640.3" rx="2.1" ry="1.2" opacity=".9"/><ellipse transform="rotate(37.4 909 590)" cx="909" cy="590" rx="2.1" ry="1.2" opacity=".9"/><ellipse transform="rotate(37.4 819.3 631.2)" cx="819.3" cy="631.2" rx="2.2" ry="1.3" opacity=".45"/><ellipse transform="rotate(37.4 896.3 627.3)" cx="896.3" cy="627.3" rx="1.4" ry="0.9" opacity=".6"/><ellipse transform="rotate(37.4 910.5 643.4)" cx="910.5" cy="643.4" rx="1.3" ry="0.8" opacity=".45"/><ellipse transform="rotate(37.4 928 641.1)" cx="928" cy="641.1" rx="2.3" ry="1.4" opacity=".45"/><ellipse transform="rotate(37.4 798.5 610)" cx="798.5" cy="610" rx="2.1" ry="1.2" opacity=".75"/><ellipse transform="rotate(37.4 809.4 602.7)" cx="809.4" cy="602.7" rx="1.4" ry="0.8" opacity=".75"/><ellipse transform="rotate(37.4 893.1 583.1)" cx="893.1" cy="583.1" rx="2.4" ry="1.4" opacity=".6"/><ellipse transform="rotate(37.4 823.5 639.6)" cx="823.5" cy="639.6" rx="1.4" ry="0.8" opacity=".9"/><ellipse transform="rotate(37.4 836.8 649.8)" cx="836.8" cy="649.8" rx="1.5" ry="0.9" opacity=".9"/><ellipse transform="rotate(37.4 809.1 686)" cx="809.1" cy="686" rx="1.6" ry="1" opacity=".9"/><ellipse transform="rotate(37.4 885.3 676.3)" cx="885.3" cy="676.3" rx="2.3" ry="1.4" opacity=".45"/><ellipse transform="rotate(37.4 832.7 641.4)" cx="832.7" cy="641.4" rx="1.7" ry="1" opacity=".9"/><ellipse transform="rotate(37.4 783 734)" cx="783" cy="734" rx="1.4" ry="0.8" opacity=".45"/><ellipse transform="rotate(37.4 775.2 592.2)" cx="775.2" cy="592.2" rx="1.4" ry="0.8" opacity=".9"/><ellipse transform="rotate(37.4 787.7 596.5)" cx="787.7" cy="596.5" rx="1.8" ry="1.1" opacity=".75"/><ellipse transform="rotate(37.4 838.7 599)" cx="838.7" cy="599" rx="2.2" ry="1.3" opacity=".6"/><ellipse transform="rotate(37.4 829 743)" cx="829" cy="743" rx="1.4" ry="0.9" opacity=".9"/><ellipse transform="rotate(37.4 811.5 724.4)" cx="811.5" cy="724.4" rx="1.3" ry="0.8" opacity=".6"/><ellipse transform="rotate(37.4 919 597.7)" cx="919" cy="597.7" rx="2.1" ry="1.3" opacity=".45"/><ellipse transform="rotate(37.4 806.7 668.5)" cx="806.7" cy="668.5" rx="2.3" ry="1.4" opacity=".6"/><ellipse transform="rotate(37.4 896 710.7)" cx="896" cy="710.7" rx="2" ry="1.2" opacity=".45"/><ellipse transform="rotate(37.4 945.8 576.4)" cx="945.8" cy="576.4" rx="2" ry="1.2" opacity=".9"/><ellipse transform="rotate(37.4 874.4 683.7)" cx="874.4" cy="683.7" rx="1.9" ry="1.1" opacity=".75"/><ellipse transform="rotate(37.4 838.5 640.6)" cx="838.5" cy="640.6" rx="2.3" ry="1.4" opacity=".45"/><ellipse transform="rotate(37.4 934.9 583.7)" cx="934.9" cy="583.7" rx="1.5" ry="0.9" opacity=".75"/><ellipse transform="rotate(37.4 843.4 675.7)" cx="843.4" cy="675.7" rx="2.3" ry="1.4" opacity=".9"/><ellipse transform="rotate(37.4 917.8 696)" cx="917.8" cy="696" rx="1.6" ry="1" opacity=".75"/><ellipse transform="rotate(37.4 816.7 676.2)" cx="816.7" cy="676.2" rx="2.4" ry="1.4" opacity=".9"/><ellipse transform="rotate(37.4 800.6 731.8)" cx="800.6" cy="731.8" rx="1.9" ry="1.1" opacity=".9"/><ellipse transform="rotate(37.4 890.8 759)" cx="890.8" cy="759" rx="2" ry="1.2" opacity=".45"/><ellipse transform="rotate(37.4 830.6 754.7)" cx="830.6" cy="754.7" rx="1.9" ry="1.2" opacity=".45"/><ellipse transform="rotate(37.4 945.9 790.6)" cx="945.9" cy="790.6" rx="1.6" ry="1" opacity=".6"/><ellipse transform="rotate(37.4 823.5 639.6)" cx="823.5" cy="639.6" rx="1.7" ry="1" opacity=".6"/><ellipse transform="rotate(37.4 910.6 601.7)" cx="910.6" cy="601.7" rx="1.4" ry="0.8" opacity=".45"/><ellipse transform="rotate(37.4 926.3 650.3)" cx="926.3" cy="650.3" rx="1.5" ry="0.9" opacity=".6"/><ellipse transform="rotate(37.4 926.2 692)" cx="926.2" cy="692" rx="2.1" ry="1.2" opacity=".75"/><ellipse transform="rotate(37.4 943.8 689.7)" cx="943.8" cy="689.7" rx="1.7" ry="1" opacity=".6"/><ellipse transform="rotate(37.4 848.6 648.3)" cx="848.6" cy="648.3" rx="2.2" ry="1.3" opacity=".6"/><ellipse transform="rotate(37.4 792.7 825)" cx="792.7" cy="825" rx="1.7" ry="1" opacity=".9"/><ellipse transform="rotate(37.4 893.6 693.1)" cx="893.6" cy="693.1" rx="1.6" ry="0.9" opacity=".45"/><ellipse transform="rotate(37.4 747 753.5)" cx="747" cy="753.5" rx="2.2" ry="1.3" opacity=".75"/><ellipse transform="rotate(37.4 784.9 683.2)" cx="784.9" cy="683.2" rx="1.9" ry="1.1" opacity=".9"/><ellipse transform="rotate(37.4 908.2 584.2)" cx="908.2" cy="584.2" rx="2.1" ry="1.2" opacity=".9"/><ellipse transform="rotate(37.4 871.9 666.1)" cx="871.9" cy="666.1" rx="1.3" ry="0.8" opacity=".6"/><ellipse transform="rotate(37.4 851.1 645)" cx="851.1" cy="645" rx="2.1" ry="1.3" opacity=".75"/><ellipse transform="rotate(37.4 906.5 828.4)" cx="906.5" cy="828.4" rx="1.4" ry="0.8" opacity=".75"/><ellipse transform="rotate(37.4 732 731.6)" cx="732" cy="731.6" rx="2" ry="1.2" opacity=".45"/><ellipse transform="rotate(37.4 802.7 618.4)" cx="802.7" cy="618.4" rx="2.2" ry="1.3" opacity=".45"/><ellipse transform="rotate(37.4 912.3 592.6)" cx="912.3" cy="592.6" rx="1.7" ry="1" opacity=".45"/><ellipse transform="rotate(37.4 890.4 648.9)" cx="890.4" cy="648.9" rx="2.4" ry="1.4" opacity=".75"/><ellipse transform="rotate(37.4 943.8 668.9)" cx="943.8" cy="668.9" rx="2.1" ry="1.2" opacity=".6"/><ellipse transform="rotate(37.4 803 749.3)" cx="803" cy="749.3" rx="1.8" ry="1.1" opacity=".9"/><ellipse transform="rotate(37.4 892.2 598.1)" cx="892.2" cy="598.1" rx="1.3" ry="0.8" opacity=".6"/><ellipse transform="rotate(37.4 907.5 771.7)" cx="907.5" cy="771.7" rx="1.9" ry="1.1" opacity=".9"/><ellipse transform="rotate(37.4 927.8 703.7)" cx="927.8" cy="703.7" rx="2.4" ry="1.4" opacity=".75"/><ellipse transform="rotate(37.4 849.4 633.3)" cx="849.4" cy="633.3" rx="1.8" ry="1.1" opacity=".6"/><ellipse transform="rotate(37.4 834 757.3)" cx="834" cy="757.3" rx="2.3" ry="1.4" opacity=".45"/><ellipse transform="rotate(37.4 916.3 663.5)" cx="916.3" cy="663.5" rx="1.4" ry="0.8" opacity=".9"/><ellipse transform="rotate(37.4 780.1 606.4)" cx="780.1" cy="606.4" rx="1.3" ry="0.8" opacity=".75"/><ellipse transform="rotate(37.4 904.5 685.8)" cx="904.5" cy="685.8" rx="1.5" ry="0.9" opacity=".45"/><ellipse transform="rotate(37.4 919 597.7)" cx="919" cy="597.7" rx="1.6" ry="0.9" opacity=".75"/><ellipse transform="rotate(37.4 753.8 716.9)" cx="753.8" cy="716.9" rx="1.5" ry="0.9" opacity=".6"/><ellipse transform="rotate(37.4 879.6 614.6)" cx="879.6" cy="614.6" rx="2.4" ry="1.4" opacity=".6"/><ellipse transform="rotate(37.4 861.1 652.6)" cx="861.1" cy="652.6" rx="1.8" ry="1.1" opacity=".75"/><ellipse transform="rotate(37.4 903.8 638.3)" cx="903.8" cy="638.3" rx="2" ry="1.2" opacity=".6"/><ellipse transform="rotate(37.4 841.1 616.5)" cx="841.1" cy="616.5" rx="2.1" ry="1.3" opacity=".45"/><ellipse transform="rotate(37.4 861.9 658.5)" cx="861.9" cy="658.5" rx="2.4" ry="1.4" opacity=".9"/><ellipse transform="rotate(37.4 907.8 688.4)" cx="907.8" cy="688.4" rx="2.2" ry="1.3" opacity=".9"/><ellipse transform="rotate(37.4 922.9 689.4)" cx="922.9" cy="689.4" rx="1.6" ry="0.9" opacity=".75"/><ellipse transform="rotate(37.4 937.1 684.6)" cx="937.1" cy="684.6" rx="2.1" ry="1.2" opacity=".45"/><ellipse transform="rotate(37.4 852 609.2)" cx="852" cy="609.2" rx="2.1" ry="1.3" opacity=".9"/><ellipse transform="rotate(37.4 930.6 617)" cx="930.6" cy="617" rx="2.1" ry="1.3" opacity=".75"/><ellipse transform="rotate(37.4 871.3 597.8)" cx="871.3" cy="597.8" rx="1.4" ry="0.8" opacity=".9"/><ellipse transform="rotate(37.4 791 599.1)" cx="791" cy="599.1" rx="2.1" ry="1.3" opacity=".6"/><ellipse transform="rotate(37.4 939.5 702.2)" cx="939.5" cy="702.2" rx="2" ry="1.2" opacity=".75"/><ellipse transform="rotate(37.4 912.3 592.6)" cx="912.3" cy="592.6" rx="1.7" ry="1" opacity=".75"/><ellipse transform="rotate(37.4 761.3 727.8)" cx="761.3" cy="727.8" rx="1.8" ry="1.1" opacity=".45"/><ellipse transform="rotate(37.4 802.7 597.6)" cx="802.7" cy="597.6" rx="1.9" ry="1.1" opacity=".9"/><ellipse transform="rotate(37.4 909.4 720.9)" cx="909.4" cy="720.9" rx="1.5" ry="0.9" opacity=".6"/><ellipse transform="rotate(37.4 714.1 817.2)" cx="714.1" cy="817.2" rx="1.9" ry="1.2" opacity=".6"/><ellipse transform="rotate(37.4 841.9 643.2)" cx="841.9" cy="643.2" rx="2" ry="1.2" opacity=".75"/><ellipse transform="rotate(37.4 764 682.9)" cx="764" cy="682.9" rx="1.8" ry="1.1" opacity=".6"/><ellipse transform="rotate(37.4 857.8 650.1)" cx="857.8" cy="650.1" rx="2.3" ry="1.4" opacity=".9"/><ellipse transform="rotate(37.4 848 579.9)" cx="848" cy="579.9" rx="1.6" ry="0.9" opacity=".45"/><ellipse transform="rotate(37.4 844.3 660.7)" cx="844.3" cy="660.7" rx="1.4" ry="0.8" opacity=".6"/><ellipse transform="rotate(37.4 783.3 650.6)" cx="783.3" cy="650.6" rx="2.4" ry="1.4" opacity=".9"/><ellipse transform="rotate(37.4 766.3 721.3)" cx="766.3" cy="721.3" rx="2.2" ry="1.3" opacity=".9"/><ellipse transform="rotate(37.4 770.6 688)" cx="770.6" cy="688" rx="1.7" ry="1" opacity=".75"/><ellipse transform="rotate(37.4 947.3 629.8)" cx="947.3" cy="629.8" rx="1.5" ry="0.9" opacity=".45"/><ellipse transform="rotate(37.4 819.4 610.3)" cx="819.4" cy="610.3" rx="2.1" ry="1.3" opacity=".9"/><ellipse transform="rotate(37.4 940 577.1)" cx="940" cy="577.1" rx="2" ry="1.2" opacity=".75"/><ellipse transform="rotate(37.4 783 734)" cx="783" cy="734" rx="2.1" ry="1.2" opacity=".75"/><ellipse transform="rotate(37.4 929.1 584.5)" cx="929.1" cy="584.5" rx="1.8" ry="1.1" opacity=".45"/><ellipse transform="rotate(37.4 739.6 700.8)" cx="739.6" cy="700.8" rx="1.8" ry="1.1" opacity=".9"/><ellipse transform="rotate(37.4 907.3 599.1)" cx="907.3" cy="599.1" rx="1.5" ry="0.9" opacity=".9"/><ellipse transform="rotate(37.4 813.1 736.1)" cx="813.1" cy="736.1" rx="1.5" ry="0.9" opacity=".45"/><ellipse transform="rotate(37.4 827.7 627.1)" cx="827.7" cy="627.1" rx="1.7" ry="1" opacity=".45"/><ellipse transform="rotate(37.4 892.3 577.2)" cx="892.3" cy="577.2" rx="1.7" ry="1" opacity=".6"/><ellipse transform="rotate(37.4 839.4 625.6)" cx="839.4" cy="625.6" rx="2.2" ry="1.3" opacity=".45"/><ellipse transform="rotate(37.4 803 749.3)" cx="803" cy="749.3" rx="1.5" ry="0.9" opacity=".75"/><ellipse transform="rotate(37.4 790.9 619.9)" cx="790.9" cy="619.9" rx="2.1" ry="1.3" opacity=".75"/><ellipse transform="rotate(37.4 769.7 723.8)" cx="769.7" cy="723.8" rx="2.4" ry="1.4" opacity=".45"/><ellipse transform="rotate(37.4 859.5 640.9)" cx="859.5" cy="640.9" rx="1.9" ry="1.1" opacity=".9"/><ellipse transform="rotate(37.4 893.8 630.6)" cx="893.8" cy="630.6" rx="1.5" ry="0.9" opacity=".45"/><ellipse transform="rotate(37.4 922.8 710.3)" cx="922.8" cy="710.3" rx="1.9" ry="1.2" opacity=".9"/><ellipse transform="rotate(37.4 701.9 729.5)" cx="701.9" cy="729.5" rx="1.3" ry="0.8" opacity=".75"/><ellipse transform="rotate(37.4 910.6 601.7)" cx="910.6" cy="601.7" rx="1.6" ry="0.9" opacity=".6"/><ellipse transform="rotate(37.4 774.2 628)" cx="774.2" cy="628" rx="1.9" ry="1.1" opacity=".75"/><ellipse transform="rotate(37.4 812.5 667.8)" cx="812.5" cy="667.8" rx="1.4" ry="0.8" opacity=".75"/><ellipse transform="rotate(37.4 864.6 592.7)" cx="864.6" cy="592.7" rx="1.9" ry="1.1" opacity=".45"/><ellipse transform="rotate(37.4 943.3 579.7)" cx="943.3" cy="579.7" rx="1.4" ry="0.9" opacity=".75"/><ellipse transform="rotate(37.4 939.8 618.8)" cx="939.8" cy="618.8" rx="1.6" ry="0.9" opacity=".6"/><ellipse transform="rotate(37.4 747.2 691)" cx="747.2" cy="691" rx="1.5" ry="0.9" opacity=".6"/><ellipse transform="rotate(37.4 722.8 729.8)" cx="722.8" cy="729.8" rx="2.1" ry="1.3" opacity=".75"/><ellipse transform="rotate(37.4 910.7 580.9)" cx="910.7" cy="580.9" rx="1.7" ry="1" opacity=".45"/><ellipse transform="rotate(37.4 918.8 660.2)" cx="918.8" cy="660.2" rx="1.5" ry="0.9" opacity=".45"/><ellipse transform="rotate(37.4 894 803.2)" cx="894" cy="803.2" rx="1.4" ry="0.9" opacity=".6"/><ellipse transform="rotate(37.4 858.6 655.9)" cx="858.6" cy="655.9" rx="1.6" ry="1" opacity=".45"/><ellipse transform="rotate(37.4 848.5 669.1)" cx="848.5" cy="669.1" rx="1.7" ry="1" opacity=".75"/><ellipse transform="rotate(37.4 799.7 746.8)" cx="799.7" cy="746.8" rx="2.2" ry="1.3" opacity=".75"/><ellipse transform="rotate(37.4 735.4 713.3)" cx="735.4" cy="713.3" rx="1.3" ry="0.8" opacity=".75"/><ellipse transform="rotate(37.4 836 643.9)" cx="836" cy="643.9" rx="2.1" ry="1.3" opacity=".45"/><ellipse transform="rotate(37.4 722.9 708.9)" cx="722.9" cy="708.9" rx="2.2" ry="1.3" opacity=".75"/><ellipse transform="rotate(37.4 826.8 663)" cx="826.8" cy="663" rx="2.3" ry="1.4" opacity=".9"/><ellipse transform="rotate(37.4 942.3 615.5)" cx="942.3" cy="615.5" rx="1.4" ry="0.8" opacity=".9"/><ellipse transform="rotate(37.4 891 696.4)" cx="891" cy="696.4" rx="1.4" ry="0.9" opacity=".6"/><ellipse transform="rotate(37.4 853.7 600)" cx="853.7" cy="600" rx="2.1" ry="1.3" opacity=".6"/><ellipse transform="rotate(37.4 725.3 726.5)" cx="725.3" cy="726.5" rx="1.4" ry="0.8" opacity=".45"/><ellipse transform="rotate(37.4 824.3 645.4)" cx="824.3" cy="645.4" rx="1.5" ry="0.9" opacity=".45"/><ellipse transform="rotate(37.4 858 587.6)" cx="858" cy="587.6" rx="1.8" ry="1.1" opacity=".75"/><ellipse transform="rotate(37.4 743.9 688.4)" cx="743.9" cy="688.4" rx="1.4" ry="0.8" opacity=".9"/><ellipse transform="rotate(37.4 882.1 611.3)" cx="882.1" cy="611.3" rx="2.1" ry="1.3" opacity=".6"/><ellipse transform="rotate(37.4 812.5 667.8)" cx="812.5" cy="667.8" rx="2" ry="1.2" opacity=".75"/><ellipse transform="rotate(37.4 790.6 724.1)" cx="790.6" cy="724.1" rx="1.8" ry="1.1" opacity=".75"/><ellipse transform="rotate(37.4 941.6 588.8)" cx="941.6" cy="588.8" rx="1.7" ry="1" opacity=".9"/><ellipse transform="rotate(37.4 948.7 724.8)" cx="948.7" cy="724.8" rx="2.1" ry="1.3" opacity=".75"/><ellipse transform="rotate(37.4 700.7 827.8)" cx="700.7" cy="827.8" rx="1.6" ry="1" opacity=".6"/><ellipse transform="rotate(37.4 845.9 693.3)" cx="845.9" cy="693.3" rx="1.6" ry="0.9" opacity=".9"/><ellipse transform="rotate(37.4 832.8 620.5)" cx="832.8" cy="620.5" rx="2.4" ry="1.4" opacity=".9"/><ellipse transform="rotate(37.4 872.8 651.2)" cx="872.8" cy="651.2" rx="1.9" ry="1.2" opacity=".9"/><ellipse transform="rotate(37.4 936.2 699.6)" cx="936.2" cy="699.6" rx="1.4" ry="0.8" opacity=".45"/><ellipse transform="rotate(37.4 888.8 616.4)" cx="888.8" cy="616.4" rx="1.7" ry="1" opacity=".6"/><ellipse transform="rotate(37.4 753.1 690.2)" cx="753.1" cy="690.2" rx="1.8" ry="1.1" opacity=".6"/><ellipse transform="rotate(37.4 719.6 685.5)" cx="719.6" cy="685.5" rx="1.7" ry="1" opacity=".9"/><ellipse transform="rotate(37.4 873.8 615.3)" cx="873.8" cy="615.3" rx="1.6" ry="1" opacity=".9"/><ellipse transform="rotate(37.4 861.3 590.1)" cx="861.3" cy="590.1" rx="2" ry="1.2" opacity=".75"/><ellipse transform="rotate(37.4 843.5 654.9)" cx="843.5" cy="654.9" rx="2.1" ry="1.3" opacity=".45"/><ellipse transform="rotate(37.4 755.4 749.4)" cx="755.4" cy="749.4" rx="2.2" ry="1.3" opacity=".45"/><ellipse transform="rotate(37.4 847.7 642.4)" cx="847.7" cy="642.4" rx="2.3" ry="1.4" opacity=".45"/><ellipse transform="rotate(37.4 731.3 684)" cx="731.3" cy="684" rx="1.9" ry="1.1" opacity=".6"/><ellipse transform="rotate(37.4 846.2 609.9)" cx="846.2" cy="609.9" rx="1.7" ry="1" opacity=".45"/><ellipse transform="rotate(37.4 937 705.5)" cx="937" cy="705.5" rx="2.3" ry="1.4" opacity=".9"/><ellipse transform="rotate(37.4 809.8 733.6)" cx="809.8" cy="733.6" rx="1.9" ry="1.1" opacity=".6"/><ellipse transform="rotate(37.4 857.7 670.9)" cx="857.7" cy="670.9" rx="1.8" ry="1.1" opacity=".6"/><ellipse transform="rotate(37.4 853.7 620.9)" cx="853.7" cy="620.9" rx="2.3" ry="1.4" opacity=".45"/><ellipse transform="rotate(37.4 827 600.4)" cx="827" cy="600.4" rx="1.9" ry="1.1" opacity=".45"/><ellipse transform="rotate(37.4 805.3 808.5)" cx="805.3" cy="808.5" rx="1.3" ry="0.8" opacity=".45"/><ellipse transform="rotate(37.4 876.4 591.2)" cx="876.4" cy="591.2" rx="2.2" ry="1.3" opacity=".75"/><ellipse transform="rotate(37.4 884.4 691.3)" cx="884.4" cy="691.3" rx="1.7" ry="1" opacity=".6"/><ellipse transform="rotate(37.4 811.9 620.2)" cx="811.9" cy="620.2" rx="1.5" ry="0.9" opacity=".6"/><ellipse transform="rotate(37.4 814.8 747.8)" cx="814.8" cy="747.8" rx="2.1" ry="1.3" opacity=".45"/><ellipse transform="rotate(37.4 795.4 780)" cx="795.4" cy="780" rx="2" ry="1.2" opacity=".75"/><ellipse transform="rotate(37.4 830.7 733.9)" cx="830.7" cy="733.9" rx="2.2" ry="1.3" opacity=".6"/><ellipse transform="rotate(37.4 783.1 713.2)" cx="783.1" cy="713.2" rx="1.5" ry="0.9" opacity=".75"/><ellipse transform="rotate(37.4 934.6 667.1)" cx="934.6" cy="667.1" rx="2" ry="1.2" opacity=".75"/><ellipse transform="rotate(37.4 742 739.2)" cx="742" cy="739.2" rx="1.6" ry="1" opacity=".6"/><ellipse transform="rotate(37.4 872.7 672)" cx="872.7" cy="672" rx="1.8" ry="1.1" opacity=".75"/><ellipse transform="rotate(37.4 873.7 636.2)" cx="873.7" cy="636.2" rx="1.7" ry="1" opacity=".75"/><ellipse transform="rotate(37.4 795.2 607.5)" cx="795.2" cy="607.5" rx="1.6" ry="1" opacity=".45"/><ellipse transform="rotate(37.4 906.2 676.7)" cx="906.2" cy="676.7" rx="1.4" ry="0.8" opacity=".75"/><ellipse transform="rotate(37.4 826.1 615.4)" cx="826.1" cy="615.4" rx="1.8" ry="1.1" opacity=".9"/><ellipse transform="rotate(37.4 766.3 721.3)" cx="766.3" cy="721.3" rx="1.4" ry="0.8" opacity=".6"/><ellipse transform="rotate(37.4 809.2 665.2)" cx="809.2" cy="665.2" rx="2.3" ry="1.4" opacity=".9"/><ellipse transform="rotate(37.4 890.2 690.6)" cx="890.2" cy="690.6" rx="1.3" ry="0.8" opacity=".45"/><ellipse transform="rotate(37.4 838.3 724)" cx="838.3" cy="724" rx="1.4" ry="0.8" opacity=".45"/><ellipse transform="rotate(37.4 938.8 675.5)" cx="938.8" cy="675.5" rx="1.3" ry="0.8" opacity=".45"/><ellipse transform="rotate(37.4 760.5 722)" cx="760.5" cy="722" rx="1.4" ry="0.9" opacity=".75"/><ellipse transform="rotate(37.4 797.7 604.2)" cx="797.7" cy="604.2" rx="1.5" ry="0.9" opacity=".45"/><ellipse transform="rotate(37.4 776.8 603.9)" cx="776.8" cy="603.9" rx="2.1" ry="1.3" opacity=".45"/><ellipse transform="rotate(37.4 710.1 787.9)" cx="710.1" cy="787.9" rx="1.6" ry="1" opacity=".6"/><ellipse transform="rotate(37.4 776.8 603.9)" cx="776.8" cy="603.9" rx="1.4" ry="0.8" opacity=".45"/><ellipse transform="rotate(37.4 826 636.3)" cx="826" cy="636.3" rx="1.4" ry="0.8" opacity=".75"/><ellipse transform="rotate(37.4 794.3 622.5)" cx="794.3" cy="622.5" rx="1.6" ry="1" opacity=".45"/><ellipse transform="rotate(37.4 886.1 682.2)" cx="886.1" cy="682.2" rx="1.4" ry="0.8" opacity=".6"/><ellipse transform="rotate(37.4 722.9 708.9)" cx="722.9" cy="708.9" rx="1.6" ry="1" opacity=".75"/><ellipse transform="rotate(37.4 797 577.5)" cx="797" cy="577.5" rx="2.1" ry="1.3" opacity=".6"/><ellipse transform="rotate(37.4 859.5 640.9)" cx="859.5" cy="640.9" rx="1.8" ry="1.1" opacity=".75"/><ellipse transform="rotate(37.4 819.4 610.3)" cx="819.4" cy="610.3" rx="1.4" ry="0.8" opacity=".45"/><ellipse transform="rotate(37.4 847.7 642.4)" cx="847.7" cy="642.4" rx="2.3" ry="1.4" opacity=".45"/><ellipse transform="rotate(37.4 941.3 672.2)" cx="941.3" cy="672.2" rx="1.3" ry="0.8" opacity=".6"/><ellipse transform="rotate(37.4 781.3 743.1)" cx="781.3" cy="743.1" rx="1.5" ry="0.9" opacity=".45"/><ellipse transform="rotate(37.4 822.6 654.6)" cx="822.6" cy="654.6" rx="2.1" ry="1.3" opacity=".9"/><ellipse transform="rotate(37.4 949.2 578.9)" cx="949.2" cy="578.9" rx="2.3" ry="1.4" opacity=".75"/><ellipse transform="rotate(37.4 922.3 600.2)" cx="922.3" cy="600.2" rx="1.6" ry="1" opacity=".9"/><ellipse transform="rotate(37.4 832.8 620.5)" cx="832.8" cy="620.5" rx="1.9" ry="1.2" opacity=".45"/><ellipse transform="rotate(37.4 924.6 659.4)" cx="924.6" cy="659.4" rx="2.1" ry="1.3" opacity=".45"/><ellipse transform="rotate(37.4 919 597.7)" cx="919" cy="597.7" rx="1.8" ry="1.1" opacity=".45"/><ellipse transform="rotate(37.4 857.7 670.9)" cx="857.7" cy="670.9" rx="1.8" ry="1.1" opacity=".45"/><ellipse transform="rotate(37.4 942.6 788.1)" cx="942.6" cy="788.1" rx="2" ry="1.2" opacity=".6"/><ellipse transform="rotate(37.4 780.9 612.3)" cx="780.9" cy="612.3" rx="1.7" ry="1" opacity=".75"/><ellipse transform="rotate(37.4 915.7 595.1)" cx="915.7" cy="595.1" rx="2.2" ry="1.3" opacity=".75"/><ellipse transform="rotate(37.4 909.8 830.9)" cx="909.8" cy="830.9" rx="1.3" ry="0.8" opacity=".9"/><ellipse transform="rotate(37.4 808.7 576)" cx="808.7" cy="576" rx="2" ry="1.2" opacity=".9"/><ellipse transform="rotate(37.4 817.3 744.5)" cx="817.3" cy="744.5" rx="1.7" ry="1" opacity=".75"/><ellipse transform="rotate(37.4 738.7 736.7)" cx="738.7" cy="736.7" rx="2.2" ry="1.3" opacity=".6"/><ellipse transform="rotate(37.4 924.5 701.1)" cx="924.5" cy="701.1" rx="2.3" ry="1.4" opacity=".9"/><ellipse transform="rotate(37.4 831.8 656.4)" cx="831.8" cy="656.4" rx="2.3" ry="1.4" opacity=".6"/><ellipse transform="rotate(37.4 833.7 605.5)" cx="833.7" cy="605.5" rx="1.6" ry="0.9" opacity=".6"/><ellipse transform="rotate(37.4 719.6 706.4)" cx="719.6" cy="706.4" rx="1.6" ry="1" opacity=".45"/><ellipse transform="rotate(37.4 816.7 676.2)" cx="816.7" cy="676.2" rx="1.5" ry="0.9" opacity=".9"/><ellipse transform="rotate(37.4 802.5 660.1)" cx="802.5" cy="660.1" rx="1.9" ry="1.1" opacity=".45"/><ellipse transform="rotate(37.4 835.9 685.6)" cx="835.9" cy="685.6" rx="2" ry="1.2" opacity=".45"/><ellipse transform="rotate(37.4 821.9 627.9)" cx="821.9" cy="627.9" rx="2.3" ry="1.4" opacity=".9"/><ellipse transform="rotate(37.4 782.1 769.8)" cx="782.1" cy="769.8" rx="2.2" ry="1.3" opacity=".9"/><ellipse transform="rotate(37.4 886.4 578)" cx="886.4" cy="578" rx="2.2" ry="1.3" opacity=".6"/><ellipse transform="rotate(37.4 929.9 590.3)" cx="929.9" cy="590.3" rx="2" ry="1.2" opacity=".6"/><ellipse transform="rotate(37.4 916.2 684.3)" cx="916.2" cy="684.3" rx="1.9" ry="1.1" opacity=".6"/><ellipse transform="rotate(37.4 935.5 652.1)" cx="935.5" cy="652.1" rx="1.5" ry="0.9" opacity=".9"/><ellipse transform="rotate(37.4 801 627.6)" cx="801" cy="627.6" rx="2.1" ry="1.3" opacity=".75"/><ellipse transform="rotate(37.4 890.4 628.1)" cx="890.4" cy="628.1" rx="1.3" ry="0.8" opacity=".75"/><ellipse transform="rotate(37.4 903.6 680)" cx="903.6" cy="680" rx="1.3" ry="0.8" opacity=".75"/><ellipse transform="rotate(37.4 877.7 686.2)" cx="877.7" cy="686.2" rx="2.2" ry="1.3" opacity=".75"/><ellipse transform="rotate(37.4 846.9 657.4)" cx="846.9" cy="657.4" rx="2.4" ry="1.4" opacity=".75"/><ellipse transform="rotate(37.4 842.7 649)" cx="842.7" cy="649" rx="1.4" ry="0.8" opacity=".45"/><ellipse transform="rotate(37.4 848.8 585.8)" cx="848.8" cy="585.8" rx="1.6" ry="0.9" opacity=".75"/><ellipse transform="rotate(37.4 743.9 688.4)" cx="743.9" cy="688.4" rx="2.2" ry="1.3" opacity=".45"/><ellipse transform="rotate(37.4 816.1 607.8)" cx="816.1" cy="607.8" rx="2" ry="1.2" opacity=".75"/><ellipse transform="rotate(37.4 912.8 681.8)" cx="912.8" cy="681.8" rx="2.4" ry="1.4" opacity=".9"/><ellipse transform="rotate(37.4 811.9 620.2)" cx="811.9" cy="620.2" rx="2.2" ry="1.3" opacity=".75"/><ellipse transform="rotate(37.4 877.1 617.9)" cx="877.1" cy="617.9" rx="1.7" ry="1" opacity=".9"/><ellipse transform="rotate(37.4 874.4 683.7)" cx="874.4" cy="683.7" rx="1.6" ry="1" opacity=".9"/><ellipse transform="rotate(37.4 912.2 613.4)" cx="912.2" cy="613.4" rx="1.3" ry="0.8" opacity=".45"/><ellipse transform="rotate(37.4 792.3 715)" cx="792.3" cy="715" rx="1.9" ry="1.1" opacity=".6"/><ellipse transform="rotate(37.4 802.5 660.1)" cx="802.5" cy="660.1" rx="2.3" ry="1.4" opacity=".9"/><ellipse transform="rotate(37.4 754.8 681.1)" cx="754.8" cy="681.1" rx="2.3" ry="1.4" opacity=".9"/><ellipse transform="rotate(37.4 703.4 782.8)" cx="703.4" cy="782.8" rx="2.3" ry="1.4" opacity=".45"/><ellipse transform="rotate(37.4 907.7 709.2)" cx="907.7" cy="709.2" rx="2.3" ry="1.4" opacity=".6"/><ellipse transform="rotate(37.4 846 672.4)" cx="846" cy="672.4" rx="2.1" ry="1.3" opacity=".45"/><ellipse transform="rotate(37.4 797 812.6)" cx="797" cy="812.6" rx="1.7" ry="1" opacity=".6"/><ellipse transform="rotate(37.4 776.1 812.3)" cx="776.1" cy="812.3" rx="1.8" ry="1.1" opacity=".75"/><ellipse transform="rotate(37.4 799.7 746.8)" cx="799.7" cy="746.8" rx="1.6" ry="1" opacity=".9"/><ellipse transform="rotate(37.4 864.4 655.2)" cx="864.4" cy="655.2" rx="2" ry="1.2" opacity=".6"/><ellipse transform="rotate(37.4 933.7 682.1)" cx="933.7" cy="682.1" rx="2.2" ry="1.3" opacity=".6"/><ellipse transform="rotate(37.4 800.6 731.8)" cx="800.6" cy="731.8" rx="1.7" ry="1" opacity=".6"/><ellipse transform="rotate(37.4 829.4 638.8)" cx="829.4" cy="638.8" rx="1.6" ry="0.9" opacity=".75"/><ellipse transform="rotate(37.4 838.6 619.8)" cx="838.6" cy="619.8" rx="1.4" ry="0.8" opacity=".75"/><ellipse transform="rotate(37.4 759.7 716.1)" cx="759.7" cy="716.1" rx="2.3" ry="1.4" opacity=".9"/><ellipse transform="rotate(37.4 863.5 670.2)" cx="863.5" cy="670.2" rx="1.7" ry="1" opacity=".75"/><ellipse transform="rotate(37.4 704.1 830.4)" cx="704.1" cy="830.4" rx="1.5" ry="0.9" opacity=".45"/><ellipse transform="rotate(37.4 932.8 717.9)" cx="932.8" cy="717.9" rx="1.7" ry="1" opacity=".75"/><ellipse transform="rotate(37.4 824.8 734.6)" cx="824.8" cy="734.6" rx="2" ry="1.2" opacity=".45"/><ellipse transform="rotate(37.4 712 716.3)" cx="712" cy="716.3" rx="1.4" ry="0.8" opacity=".45"/><ellipse transform="rotate(37.4 850.7 749.2)" cx="850.7" cy="749.2" rx="2.4" ry="1.4" opacity=".45"/><ellipse transform="rotate(37.4 740.5 685.8)" cx="740.5" cy="685.8" rx="2.3" ry="1.4" opacity=".75"/><ellipse transform="rotate(37.4 873.7 636.2)" cx="873.7" cy="636.2" rx="1.8" ry="1.1" opacity=".6"/><ellipse transform="rotate(37.4 876.1 653.7)" cx="876.1" cy="653.7" rx="2.1" ry="1.3" opacity=".6"/><ellipse transform="rotate(37.4 833.5 647.2)" cx="833.5" cy="647.2" rx="2" ry="1.2" opacity=".75"/><ellipse transform="rotate(37.4 878 602.9)" cx="878" cy="602.9" rx="1.9" ry="1.1" opacity=".45"/><ellipse transform="rotate(37.4 733.9 680.7)" cx="733.9" cy="680.7" rx="2.2" ry="1.3" opacity=".45"/><ellipse transform="rotate(37.4 775.4 764.7)" cx="775.4" cy="764.7" rx="1.5" ry="0.9" opacity=".45"/><ellipse transform="rotate(37.4 705.9 779.5)" cx="705.9" cy="779.5" rx="2" ry="1.2" opacity=".45"/><ellipse transform="rotate(37.4 915.7 595.1)" cx="915.7" cy="595.1" rx="1.5" ry="0.9" opacity=".6"/><ellipse transform="rotate(37.4 799.2 657.6)" cx="799.2" cy="657.6" rx="2.3" ry="1.4" opacity=".9"/><ellipse transform="rotate(37.4 748.1 676)" cx="748.1" cy="676" rx="2.1" ry="1.2" opacity=".6"/><ellipse transform="rotate(37.4 883.6 664.7)" cx="883.6" cy="664.7" rx="2.1" ry="1.2" opacity=".6"/><ellipse transform="rotate(37.4 924.8 596.9)" cx="924.8" cy="596.9" rx="2.1" ry="1.3" opacity=".6"/><ellipse transform="rotate(37.4 754 675.2)" cx="754" cy="675.2" rx="1.4" ry="0.8" opacity=".75"/><ellipse transform="rotate(37.4 921.5 594.4)" cx="921.5" cy="594.4" rx="1.5" ry="0.9" opacity=".75"/><ellipse transform="rotate(37.4 778.8 746.4)" cx="778.8" cy="746.4" rx="2.4" ry="1.4" opacity=".6"/><ellipse transform="rotate(37.4 712 716.3)" cx="712" cy="716.3" rx="1.8" ry="1.1" opacity=".45"/><ellipse transform="rotate(37.4 906.9 703.3)" cx="906.9" cy="703.3" rx="1.8" ry="1.1" opacity=".6"/><ellipse transform="rotate(37.4 766.3 742.1)" cx="766.3" cy="742.1" rx="1.7" ry="1" opacity=".45"/><ellipse transform="rotate(37.4 777.4 672.2)" cx="777.4" cy="672.2" rx="1.7" ry="1" opacity=".9"/><ellipse transform="rotate(37.4 917.2 627.6)" cx="917.2" cy="627.6" rx="1.7" ry="1" opacity=".6"/><ellipse transform="rotate(37.4 847 615.8)" cx="847" cy="615.8" rx="1.4" ry="0.9" opacity=".9"/><ellipse transform="rotate(37.4 836 643.9)" cx="836" cy="643.9" rx="2" ry="1.2" opacity=".6"/><ellipse transform="rotate(37.4 936.2 699.6)" cx="936.2" cy="699.6" rx="2" ry="1.2" opacity=".9"/><ellipse transform="rotate(37.4 821 622)" cx="821" cy="622" rx="2.1" ry="1.3" opacity=".75"/><ellipse transform="rotate(37.4 850 701.7)" cx="850" cy="701.7" rx="2.3" ry="1.4" opacity=".9"/><ellipse transform="rotate(37.4 904.7 623.3)" cx="904.7" cy="623.3" rx="1.4" ry="0.9" opacity=".9"/><ellipse transform="rotate(37.4 861.1 652.6)" cx="861.1" cy="652.6" rx="2.3" ry="1.4" opacity=".9"/><ellipse transform="rotate(37.4 733.9 680.7)" cx="733.9" cy="680.7" rx="1.7" ry="1" opacity=".45"/><ellipse transform="rotate(37.4 936.5 616.3)" cx="936.5" cy="616.3" rx="1.8" ry="1.1" opacity=".9"/><ellipse transform="rotate(37.4 915.7 595.1)" cx="915.7" cy="595.1" rx="1.5" ry="0.9" opacity=".45"/><ellipse transform="rotate(37.4 718.7 721.4)" cx="718.7" cy="721.4" rx="1.7" ry="1" opacity=".9"/><ellipse transform="rotate(37.4 929.5 694.5)" cx="929.5" cy="694.5" rx="2.3" ry="1.4" opacity=".9"/><ellipse transform="rotate(37.4 785.8 647.3)" cx="785.8" cy="647.3" rx="1.7" ry="1" opacity=".75"/><ellipse transform="rotate(37.4 772.1 762.2)" cx="772.1" cy="762.2" rx="1.8" ry="1.1" opacity=".9"/><ellipse transform="rotate(37.4 883 596.3)" cx="883" cy="596.3" rx="2" ry="1.2" opacity=".6"/><ellipse transform="rotate(37.4 834 757.3)" cx="834" cy="757.3" rx="1.5" ry="0.9" opacity=".75"/><ellipse transform="rotate(37.4 927.1 677)" cx="927.1" cy="677" rx="1.6" ry="0.9" opacity=".75"/><ellipse transform="rotate(37.4 725.3 726.5)" cx="725.3" cy="726.5" rx="2.1" ry="1.3" opacity=".45"/><ellipse transform="rotate(37.4 859.6 599.3)" cx="859.6" cy="599.3" rx="1.9" ry="1.1" opacity=".75"/><ellipse transform="rotate(37.4 933.2 592.9)" cx="933.2" cy="592.9" rx="2.3" ry="1.4" opacity=".45"/></g>
</g>
<text x="948.5" y="592.3" font-size="18.6" text-anchor="end" fill="#fff" >NCMOOH</text>
<text x="778" y="628.8" font-size="16.3" fill="#fff" >d(003)<tspan baseline-shift="-3" font-size="60%">l</tspan> = 4.67 <tspan style="font-family:'Liberation Serif', serif" font-size="17.5">Å</tspan></text>
<line x1="739.3" y1="610.5" x2="788.5" y2="648.3" stroke="#fff" stroke-width="1.2" stroke-dasharray="3.2 2"/>
<line x1="734.8" y1="617.7" x2="784.2" y2="656" stroke="#fff" stroke-width="1.2" stroke-dasharray="3.2 2"/>
<line x1="773.2" y1="616" x2="766" y2="624" stroke="#fff" stroke-width="1.3" />
<polygon points="763,627.3 764.8,621.5 768.6,625" fill="#fff" />
<line x1="747" y1="648.5" x2="754.7" y2="640.1" stroke="#fff" stroke-width="1.3" />
<polygon points="757.8,636.8 756,642.6 752.2,639.1" fill="#fff" />
<g transform="translate(700.3,680.3) rotate(36.9)" fill="none" stroke="#fff" stroke-width="1.1">
<rect x="-4.5" y="-6.3" width="67.5" height="12.8" rx="3"/>
<polygon points="2.5,-3.8 10,-3.8 8.5,3.8 1,3.8"/>
<polygon points="15,-3.8 22.5,-3.8 21,3.8 13.5,3.8"/>
<polygon points="38.5,-3.8 46,-3.8 44.5,3.8 37,3.8"/>
<polygon points="48,-3.8 55.5,-3.8 54,3.8 46.5,3.8"/>
</g>
<line x1="695.7" y1="826.5" x2="756.3" y2="826.5" stroke="#fff" stroke-width="1.8" />
<clipPath id="clipef"><rect x="836.8" y="718.8" width="113.7" height="112.7"/></clipPath>
<g clip-path="url(#clipef)">
<rect x="836.8" y="718.8" width="113.7" height="112.7" fill="#0b0b0b"/>
<circle cx="892.8" cy="775" r="62" fill="url(#gfft)" opacity=".55"/>
<g mask="url(#mke)"><rect x="836.8" y="718.8" width="113.7" height="112.7" filter="url(#nfft)" opacity=".55"/></g>
<line x1="892.8" y1="718.8" x2="892.8" y2="831.5" stroke="#7a7a7a" stroke-width="0.9" />
<line x1="836.8" y1="775" x2="950.5" y2="775" stroke="#7a7a7a" stroke-width="0.9" />
<g filter="url(#be4)">
<line x1="873.3" y1="797.8" x2="912.3" y2="752.2" stroke="#cfcfcf" stroke-width="1.2" opacity=".6"/>
<circle cx="873.3" cy="797.8" r="1.2" fill="#fff" opacity="0.08"/>
<circle cx="875.7" cy="794.9" r="1.2" fill="#fff" opacity="0.14"/>
<circle cx="878.1" cy="792.1" r="1.2" fill="#fff" opacity="0.23"/>
<circle cx="880.6" cy="789.2" r="1.2" fill="#fff" opacity="0.36"/>
<circle cx="883" cy="786.4" r="1.2" fill="#fff" opacity="0.51"/>
<circle cx="885.5" cy="783.5" r="1.2" fill="#fff" opacity="0.67"/>
<circle cx="887.9" cy="780.7" r="1.2" fill="#fff" opacity="0.81"/>
<circle cx="890.4" cy="777.8" r="1.2" fill="#fff" opacity="0.91"/>
<circle cx="892.8" cy="775" r="1.2" fill="#fff" opacity="0.95"/>
<circle cx="895.2" cy="772.2" r="1.2" fill="#fff" opacity="0.91"/>
<circle cx="897.7" cy="769.3" r="1.2" fill="#fff" opacity="0.81"/>
<circle cx="900.1" cy="766.5" r="1.2" fill="#fff" opacity="0.67"/>
<circle cx="902.6" cy="763.6" r="1.2" fill="#fff" opacity="0.51"/>
<circle cx="905" cy="760.8" r="1.2" fill="#fff" opacity="0.36"/>
<circle cx="907.5" cy="757.9" r="1.2" fill="#fff" opacity="0.23"/>
<circle cx="909.9" cy="755.1" r="1.2" fill="#fff" opacity="0.14"/>
<circle cx="912.3" cy="752.2" r="1.2" fill="#fff" opacity="0.08"/>
<circle cx="886.1" cy="803.5" r="1" fill="#fff" opacity="0.07"/>
<circle cx="888.2" cy="801.1" r="1" fill="#fff" opacity="0.13"/>
<circle cx="890.3" cy="798.6" r="1" fill="#fff" opacity="0.21"/>
<circle cx="892.5" cy="796.1" r="1" fill="#fff" opacity="0.32"/>
<circle cx="894.6" cy="793.7" r="1" fill="#fff" opacity="0.45"/>
<circle cx="896.7" cy="791.2" r="1" fill="#fff" opacity="0.60"/>
<circle cx="898.8" cy="788.7" r="1" fill="#fff" opacity="0.73"/>
<circle cx="900.9" cy="786.3" r="1" fill="#fff" opacity="0.82"/>
<circle cx="903" cy="783.8" r="1" fill="#fff" opacity="0.85"/>
<circle cx="905.2" cy="781.3" r="1" fill="#fff" opacity="0.82"/>
<circle cx="907.3" cy="778.9" r="1" fill="#fff" opacity="0.73"/>
<circle cx="909.4" cy="776.4" r="1" fill="#fff" opacity="0.60"/>
<circle cx="911.5" cy="773.9" r="1" fill="#fff" opacity="0.45"/>
<circle cx="913.6" cy="771.5" r="1" fill="#fff" opacity="0.32"/>
<circle cx="915.7" cy="769" r="1" fill="#fff" opacity="0.21"/>
<circle cx="917.9" cy="766.5" r="1" fill="#fff" opacity="0.13"/>
<circle cx="920" cy="764.1" r="1" fill="#fff" opacity="0.07"/>
<circle cx="865.6" cy="785.9" r="1" fill="#fff" opacity="0.07"/>
<circle cx="867.7" cy="783.5" r="1" fill="#fff" opacity="0.13"/>
<circle cx="869.9" cy="781" r="1" fill="#fff" opacity="0.21"/>
<circle cx="872" cy="778.5" r="1" fill="#fff" opacity="0.32"/>
<circle cx="874.1" cy="776.1" r="1" fill="#fff" opacity="0.45"/>
<circle cx="876.2" cy="773.6" r="1" fill="#fff" opacity="0.60"/>
<circle cx="878.3" cy="771.1" r="1" fill="#fff" opacity="0.73"/>
<circle cx="880.4" cy="768.7" r="1" fill="#fff" opacity="0.82"/>
<circle cx="882.6" cy="766.2" r="1" fill="#fff" opacity="0.85"/>
<circle cx="884.7" cy="763.7" r="1" fill="#fff" opacity="0.82"/>
<circle cx="886.8" cy="761.3" r="1" fill="#fff" opacity="0.73"/>
<circle cx="888.9" cy="758.8" r="1" fill="#fff" opacity="0.60"/>
<circle cx="891" cy="756.3" r="1" fill="#fff" opacity="0.45"/>
<circle cx="893.1" cy="753.9" r="1" fill="#fff" opacity="0.32"/>
<circle cx="895.3" cy="751.4" r="1" fill="#fff" opacity="0.21"/>
<circle cx="897.4" cy="748.9" r="1" fill="#fff" opacity="0.13"/>
<circle cx="899.5" cy="746.5" r="1" fill="#fff" opacity="0.07"/>
<circle cx="901.6" cy="806.2" r="1" fill="#fff" opacity="0.03"/>
<circle cx="903" cy="804.5" r="1" fill="#fff" opacity="0.06"/>
<circle cx="904.5" cy="802.8" r="1" fill="#fff" opacity="0.10"/>
<circle cx="906" cy="801.1" r="1" fill="#fff" opacity="0.15"/>
<circle cx="907.4" cy="799.4" r="1" fill="#fff" opacity="0.21"/>
<circle cx="908.9" cy="797.7" r="1" fill="#fff" opacity="0.28"/>
<circle cx="910.4" cy="796" r="1" fill="#fff" opacity="0.34"/>
<circle cx="911.8" cy="794.3" r="1" fill="#fff" opacity="0.38"/>
<circle cx="913.3" cy="792.6" r="1" fill="#fff" opacity="0.40"/>
<circle cx="914.8" cy="790.9" r="1" fill="#fff" opacity="0.38"/>
<circle cx="916.2" cy="789.2" r="1" fill="#fff" opacity="0.34"/>
<circle cx="917.7" cy="787.5" r="1" fill="#fff" opacity="0.28"/>
<circle cx="919.2" cy="785.8" r="1" fill="#fff" opacity="0.21"/>
<circle cx="920.6" cy="784" r="1" fill="#fff" opacity="0.15"/>
<circle cx="922.1" cy="782.3" r="1" fill="#fff" opacity="0.10"/>
<circle cx="923.5" cy="780.6" r="1" fill="#fff" opacity="0.06"/>
<circle cx="925" cy="778.9" r="1" fill="#fff" opacity="0.03"/>
<circle cx="860.6" cy="771.1" r="1" fill="#fff" opacity="0.03"/>
<circle cx="862.1" cy="769.4" r="1" fill="#fff" opacity="0.06"/>
<circle cx="863.5" cy="767.7" r="1" fill="#fff" opacity="0.10"/>
<circle cx="865" cy="766" r="1" fill="#fff" opacity="0.15"/>
<circle cx="866.4" cy="764.2" r="1" fill="#fff" opacity="0.21"/>
<circle cx="867.9" cy="762.5" r="1" fill="#fff" opacity="0.28"/>
<circle cx="869.4" cy="760.8" r="1" fill="#fff" opacity="0.34"/>
<circle cx="870.8" cy="759.1" r="1" fill="#fff" opacity="0.38"/>
<circle cx="872.3" cy="757.4" r="1" fill="#fff" opacity="0.40"/>
<circle cx="873.8" cy="755.7" r="1" fill="#fff" opacity="0.38"/>
<circle cx="875.2" cy="754" r="1" fill="#fff" opacity="0.34"/>
<circle cx="876.7" cy="752.3" r="1" fill="#fff" opacity="0.28"/>
<circle cx="878.2" cy="750.6" r="1" fill="#fff" opacity="0.21"/>
<circle cx="879.6" cy="748.9" r="1" fill="#fff" opacity="0.15"/>
<circle cx="881.1" cy="747.2" r="1" fill="#fff" opacity="0.10"/>
<circle cx="882.6" cy="745.5" r="1" fill="#fff" opacity="0.06"/>
<circle cx="884" cy="743.8" r="1" fill="#fff" opacity="0.03"/>
<circle cx="892.8" cy="775" r="3.2" fill="#fff" />
</g>
<line x1="874.3" y1="799.8" x2="912.6" y2="755.7" stroke="#fff" stroke-width="1.5" />
<polygon points="916.2,751.5 914.2,758.4 909.7,754.4" fill="#fff" />
<text transform="translate(881.5,758.5) rotate(-57)" font-size="13.8" text-anchor="middle" fill="#fff">(003)</text>
<line x1="841" y1="823.7" x2="881" y2="823.7" stroke="#fff" stroke-width="1.8" />
</g>
</g>
<g id="panel-fg">
<defs>
<filter id="fY" filterUnits="userSpaceOnUse" x="0" y="880" width="957" height="340" color-interpolation-filters="sRGB">
<feTurbulence type="fractalNoise" baseFrequency=".11" numOctaves="2" seed="24" result="dn"/>
<feDisplacementMap in="SourceGraphic" in2="dn" scale="7" xChannelSelector="R" yChannelSelector="G" result="rough"/>
<feGaussianBlur in="rough" stdDeviation="2.1" result="b"/>
<feTurbulence type="fractalNoise" baseFrequency=".34 .30" numOctaves="2" seed="4" result="n"/>
<feColorMatrix in="n" type="matrix" values="0 0 0 0 .36  0 0 0 0 .60  0 0 0 0 .36  4.2 0 0 0 -2.25" result="dk"/>
<feColorMatrix in="n" type="matrix" values="0 0 0 0 1  0 0 0 0 .985  0 0 0 0 .80  0 4.5 0 0 -2.3" result="wt"/>
<feComposite in="dk" in2="b" operator="in" result="dk2"/>
<feComposite in="wt" in2="b" operator="in" result="wt2"/>
<feMerge><feMergeNode in="b"/><feMergeNode in="wt2"/><feMergeNode in="dk2"/></feMerge>
</filter>
<filter id="gY" filterUnits="userSpaceOnUse" x="0" y="880" width="957" height="340" color-interpolation-filters="sRGB">
<feTurbulence type="fractalNoise" baseFrequency=".11" numOctaves="2" seed="29" result="dn"/>
<feDisplacementMap in="SourceGraphic" in2="dn" scale="5" xChannelSelector="R" yChannelSelector="G" result="rough"/>
<feGaussianBlur in="rough" stdDeviation="3" result="b"/>
<feTurbulence type="fractalNoise" baseFrequency=".25 .25" numOctaves="2" seed="9" result="n"/>
<feColorMatrix in="n" type="matrix" values="0 0 0 0 .50  0 0 0 0 .55  0 0 0 0 .14  3.6 0 0 0 -2.3" result="dk"/>
<feColorMatrix in="n" type="matrix" values="0 0 0 0 1  0 0 0 0 .985  0 0 0 0 .80  0 4.8 0 0 -2.35" result="wt"/>
<feComposite in="dk" in2="b" operator="in" result="dk2"/>
<feComposite in="wt" in2="b" operator="in" result="wt2"/>
<feMerge><feMergeNode in="b"/><feMergeNode in="wt2"/><feMergeNode in="dk2"/></feMerge>
</filter>
<filter id="bl8" filterUnits="userSpaceOnUse" x="0" y="880" width="957" height="340"><feGaussianBlur stdDeviation="8"/></filter>
<filter id="bl5" filterUnits="userSpaceOnUse" x="0" y="880" width="957" height="340"><feGaussianBlur stdDeviation="5"/></filter>
<filter id="bl14" filterUnits="userSpaceOnUse" x="0" y="880" width="957" height="340"><feGaussianBlur stdDeviation="14"/></filter>
<clipPath id="clipf"><rect x="25" y="907.3" width="292" height="294"/></clipPath>
<clipPath id="clipg"><rect x="511.5" y="908.3" width="293.5" height="296"/></clipPath>
<linearGradient id="lgf" gradientUnits="userSpaceOnUse" x1="270" y1="930" x2="140" y2="1150"><stop offset="0" stop-color="#04353b"/><stop offset=".5" stop-color="#07444d"/><stop offset=".85" stop-color="#0d5867"/><stop offset="1" stop-color="#136d80"/></linearGradient>
<linearGradient id="lgg" gradientUnits="userSpaceOnUse" x1="790" y1="900" x2="560" y2="1090"><stop offset="0" stop-color="#03343a"/><stop offset=".35" stop-color="#06414a"/><stop offset=".6" stop-color="#0b5565"/><stop offset=".8" stop-color="#10677c"/><stop offset="1" stop-color="#177a95"/></linearGradient>
<linearGradient id="lgp" x1="0" y1="0" x2="0" y2="1"><stop offset="0" stop-color="#90a8cf"/><stop offset="1" stop-color="#b3cae9"/></linearGradient>
</defs>
<text x="3.6" y="915.9" font-size="24" font-weight="bold" >f</text>
<g clip-path="url(#clipf)">
<rect x="25" y="907" width="292" height="295" fill="url(#lgf)"/>
<path d="M82 900 L72 1000 L66 1040 L110 1092 L230 1162 L325 1197" fill="none" stroke="#177688" stroke-width="30" opacity=".5" filter="url(#bl14)"/>
<polygon points="0,890 75,906 70,940.7 59.6,992.4 52.7,1027 61.3,1051 87.2,1082 121.7,1102.8 156.2,1123.5 190.7,1144 225,1165 259.6,1182 294,1194 331,1203 330,1230 0,1230" fill="#1d84a0" opacity=".8" filter="url(#bl5)"/>
<polygon points="0,890 68.5,907 63.5,941.7 53.1,993.4 46.2,1028 55.8,1054.5 81.7,1085.5 118.2,1108.3 152.7,1129 187.2,1149.5 221.5,1170.5 256.1,1187.5 290.5,1199.5 327.5,1208.5 330,1230 0,1230" fill="#e7c732" filter="url(#fY)"/>
<path d="M84 1118 L150 1158 L215 1196 L250 1215" fill="none" stroke="#fffbe2" stroke-width="44" stroke-linecap="round" opacity=".78" filter="url(#bl8)"/>
<path d="M28 985 L40 1070 L62 1112" fill="none" stroke="#fff8d0" stroke-width="15" stroke-linecap="round" stroke-linejoin="round" opacity=".38" filter="url(#bl8)"/>
</g>
<text x="314" y="928.3" font-size="18.5" text-anchor="end" fill="#fff" >LS-NCM</text>
<text x="227" y="974.8" font-size="18.5" fill="#fff" >Layered</text>
<text x="89.3" y="1036.5" font-size="16.2" fill="#fff" >d(003)<tspan baseline-shift="-3" font-size="60%">L</tspan> = 4.73 <tspan style="font-family:'Liberation Serif', serif" font-size="17.3">Å</tspan></text>
<text transform="translate(91,1065.4) rotate(20)" font-size="14" fill="#fff">Line 1</text>
<rect transform="rotate(18 102.3 1075.2)" x="95.6" y="1073.5" width="13.6" height="3.4" rx="1.7" fill="none" stroke="#fff" stroke-width=".8"/>
<line x1="76.7" y1="1028.8" x2="72" y2="1053.3" stroke="#fff" stroke-width="1.1" stroke-dasharray="3 1.8"/>
<line x1="79.6" y1="1028.8" x2="74.9" y2="1053.3" stroke="#fff" stroke-width="1.1" stroke-dasharray="3 1.8"/>
<line x1="60.7" y1="1038.2" x2="68.8" y2="1040" stroke="#fff" stroke-width="1.2" />
<polygon points="73.2,1041 67.3,1042.2 68.4,1037.4" fill="#fff" />
<line x1="97.4" y1="1045.4" x2="82.8" y2="1042.8" stroke="#fff" stroke-width="1.2" />
<polygon points="78.4,1042 84.3,1040.5 83.4,1045.4" fill="#fff" />
<rect x="219.7" y="1051.4" width="40.6" height="39.8" fill="none" stroke="#a9b5de" stroke-width="2" stroke-dasharray="8.6 5.1"/>
<text x="240.4" y="1076.5" font-size="20" text-anchor="middle" fill="#a9b5de" style="font-family:'Liberation Serif', serif" stroke="#a9b5de" stroke-width="1" letter-spacing=".8">I</text>
<line x1="29.3" y1="1195.7" x2="130.5" y2="1195.7" stroke="#000" stroke-width="2.4" />
<polygon points="321,1041.5 321,997 321.7,996.3 322.4,995.2 323.1,993.8 323.8,992.1 324.5,990.2 325.2,988.2 325.9,985.9 326.6,983.6 327.3,981.1 328,978.5 328.7,975.7 329.4,972.9 330.1,969.9 330.8,966.8 331.5,963.6 332.2,960.4 332.9,957 333.6,960.5 334.3,965.1 335,969.6 335.7,974 336.4,978.3 337.1,982.4 337.8,986.5 338.5,990.4 339.2,994.1 339.9,997.8 340.6,1001.3 341.3,1004.6 342,1007.8 342.7,1010.9 343.4,1013.7 344.1,1016.3 344.8,1018.8 345.5,1021 346.2,1022.9 346.9,1024.4 347.6,1025.5 348.3,1025 349,1023.3 349.7,1021.1 350.4,1018.6 351.1,1015.7 351.8,1012.5 352.5,1009 353.2,1005.3 353.9,1001.4 354.6,997.3 355.3,992.9 356,988.4 356.7,983.7 357.4,978.9 358.1,973.9 358.8,968.7 359.5,963.4 360.2,957.9 360.9,952.3 361.6,946.5 362.3,942.5 363,949.3 363.7,956 364.4,962.4 365.1,968.6 365.8,974.6 366.5,980.4 367.2,986 367.9,991.2 368.6,996.3 369.3,1001 370,1005.4 370.7,1009.5 371.4,1013.1 372.1,1016.4 372.8,1019.1 373.5,1021.1 374.2,1021.5 374.9,1020.7 375.6,1019.5 376.3,1018 377,1016.3 377.7,1014.5 378.4,1012.5 379.1,1010.4 379.8,1008.1 380.5,1005.7 381.2,1003.2 381.9,1000.5 382.6,997.8 383.3,994.9 384,992 384.7,989 385.4,985.8 386.1,982.6 386.8,979.4 387.5,976 388.2,972.5 388.9,969 389.6,965.4 390.3,961.7 391,958 391.7,958.8 392.4,965.6 393.1,972.2 393.8,978.5 394.5,984.6 395.2,990.4 395.9,995.9 396.6,1001 397.3,1005.9 398,1010.4 398.7,1014.4 399.4,1018 400.1,1021.1 400.8,1023.4 401.5,1024.2 402.2,1023.3 402.9,1022.1 403.6,1020.5 404.3,1018.7 405,1016.7 405.7,1014.6 406.4,1012.3 407.1,1009.8 407.8,1007.2 408.5,1004.5 409.2,1001.6 409.9,998.6 410.6,995.6 411.3,992.4 412,989.1 412.7,985.7 413.4,982.2 414.1,978.6 414.8,975 415.5,971.2 416.2,967.4 416.9,963.4 417.6,959.4 418.3,955.4 419,951.2 419.7,947 420.4,944.2 421.1,950.7 421.8,957 422.5,963.1 423.2,969 423.9,974.8 424.6,980.3 425.3,985.6 426,990.7 426.7,995.5 427.4,1000.1 428.1,1004.5 428.8,1008.5 429.5,1012.2 430.2,1015.5 430.9,1018.5 431.6,1020.9 432.3,1022.6 433,1022.7 433.7,1021.7 434.4,1020.4 435.1,1018.9 435.8,1017.1 436.5,1015.1 437.2,1013 437.9,1010.7 438.6,1008.2 439.3,1005.7 440,1003 440.7,1000.2 441.4,997.3 442.1,994.3 442.8,991.2 443.5,987.9 444.2,984.6 444.9,981.2 445.6,977.7 446.3,974.1 447,970.5 447.7,966.7 448.4,962.9 449.1,959 449.8,955.1 450.5,951 451.2,946.9 451.9,952 452.6,958.4 453.3,964.7 454,970.7 454.7,976.5 455.4,982.1 456.1,987.5 456.8,992.6 457.5,997.4 458.2,1001.9 458.9,1006.1 459.6,1010 460.3,1013.4 461,1016.4 461.7,1018.8 462.4,1020.3 462.5,1020.4 462.5,1041.5" fill="url(#lgp)"/>
<line x1="320" y1="1042.2" x2="464" y2="1042.2" stroke="#222" stroke-width="1.5" />
<text x="376" y="915.8" font-size="13.7" text-anchor="middle" fill="#222" letter-spacing=".25">3d = 1.42 nm</text>
<line x1="333" y1="920.5" x2="333" y2="956.5" stroke="#111" stroke-width="1.4" />
<line x1="420.3" y1="920.5" x2="420.3" y2="943.5" stroke="#111" stroke-width="1.4" />
<line x1="336" y1="923.5" x2="417" y2="923.5" stroke="#111" stroke-width="1.4" />
<polygon points="333.3,923.5 341,921 341,926" fill="#111" />
<polygon points="420,923.5 412.3,921 412.3,926" fill="#111" />
<text x="391" y="1056.2" font-size="14.3" text-anchor="middle" fill="#222" >Line 1</text>
<rect x="319.2" y="1060" width="142" height="141.5" fill="#000"/>
<circle cx="390.3" cy="1129.5" r="26" fill="url(#gfft)" opacity="0.5"/>
<mask id="mk1379" maskUnits="userSpaceOnUse" x="319.2" y="1060" width="142" height="141.5"><circle cx="390.3" cy="1129.5" r="30" fill="url(#gfm)"/></mask>
<g mask="url(#mk1379)"><rect x="355.3" y="1094.5" width="70" height="70" filter="url(#nfft)" opacity="0.5"/></g>
<line x1="390.3" y1="1107.5" x2="390.3" y2="1155.5" stroke="#8a8a8a" stroke-width="0.6" opacity=".55"/>
<g fill="#fff">
<circle cx="368.3" cy="1129.5" r="0.8" opacity="0.5"/>
<circle cx="375.3" cy="1129.5" r="0.9" opacity="0.7"/>
<circle cx="382.3" cy="1129.5" r="1" opacity="0.85"/>
<circle cx="390.3" cy="1129.5" r="1.9" opacity="1"/>
<circle cx="398.3" cy="1132.5" r="1.1" opacity="0.9"/>
<circle cx="405.3" cy="1131" r="0.8" opacity="0.6"/>
<circle cx="412.3" cy="1131.5" r="0.7" opacity="0.4"/>
<circle cx="390.8" cy="1116.5" r="0.8" opacity="0.7"/>
<circle cx="398.7" cy="1118.3" r="0.8" opacity="0.7"/>
<circle cx="383.3" cy="1116.5" r="0.7" opacity="0.5"/>
<circle cx="375.8" cy="1117.5" r="0.6" opacity="0.35"/>
<circle cx="406.3" cy="1119.5" r="0.6" opacity="0.4"/>
<circle cx="383.3" cy="1142.5" r="0.7" opacity="0.45"/>
<circle cx="391.3" cy="1143" r="0.7" opacity="0.5"/>
<circle cx="398.3" cy="1143.5" r="0.6" opacity="0.4"/>
<circle cx="375.3" cy="1141.5" r="0.6" opacity="0.3"/>
<circle cx="386.8" cy="1129.5" r="0.8" opacity="0.8"/>
<circle cx="393.8" cy="1129.5" r="0.8" opacity="0.8"/>
<circle cx="390.3" cy="1134.5" r="0.7" opacity="0.6"/>
<circle cx="390.3" cy="1124.5" r="0.7" opacity="0.6"/>
<circle cx="390.3" cy="1138.5" r="0.6" opacity="0.4"/>
<circle cx="379.3" cy="1129.5" r="0.6" opacity="0.5"/>
<circle cx="401.3" cy="1131.5" r="0.6" opacity="0.5"/>
<circle cx="367.3" cy="1141.5" r="0.5" opacity="0.3"/>
<circle cx="413.3" cy="1120.5" r="0.5" opacity="0.3"/>
</g>
<circle cx="390.8" cy="1116.3" r="3.3" fill="none" stroke="#d8d8d8" stroke-width=".7"/>
<circle cx="398.7" cy="1118.2" r="3.3" fill="none" stroke="#d8d8d8" stroke-width=".7"/>
<circle cx="398.2" cy="1132.5" r="3.3" fill="none" stroke="#d8d8d8" stroke-width=".7"/>
<text x="322" y="1076.8" font-size="20" fill="#a9b5de" style="font-family:'Liberation Serif', serif" stroke="#a9b5de" stroke-width="1" letter-spacing=".8">I</text>
<text x="360.3" y="1100.3" font-size="14.6" fill="#fff" >(101)</text>
<text x="400.7" y="1108" font-size="14.6" fill="#fff" >(104)</text>
<text x="405.3" y="1158.3" font-size="14.6" fill="#fff" >(003<tspan font-size="9">)</tspan></text>
<text x="457.7" y="1196.1" font-size="16.3" text-anchor="end" fill="#fff" >Layered</text>
<line x1="323.8" y1="1196" x2="362.2" y2="1196" stroke="#fff" stroke-width="1.9" />
<text x="468.5" y="913.8" font-size="24" font-weight="bold" >g</text>
<g clip-path="url(#clipg)">
<rect x="511" y="908" width="295" height="297" fill="url(#lgg)"/>
<polygon points="500,984 511.6,994.8 530.4,1010.8 558.8,1041 576.6,1044.5 594.4,1043.5 612,1048 629.9,1060.5 654.7,1059.8 669,1065.9 679.6,1062.3 700.9,1078.3 718.7,1092.5 736.5,1106.7 754.2,1105 772,1112 787.3,1115.6 815,1122 815,1140 787.3,1129.8 779,1133.4 761.3,1131.6 740,1126.3 718.7,1117.4 697.4,1106.7 676,1096 661.8,1081.9 647.6,1087.2 626.3,1080 615.7,1084.7 605,1083.6 587.2,1071.2 576.6,1059.8 566,1064 555.3,1060.5 534,1039.2 511.6,1013.6 500,1000" fill="#1b7f9c" opacity=".5" filter="url(#bl5)"/>
<path d="M688 1086 L742 1114 L812 1130" fill="none" stroke="#a8b040" stroke-width="20" stroke-linecap="round" opacity=".6" filter="url(#bl8)"/>
<path d="M622 1070 L690 1090" fill="none" stroke="#93a84a" stroke-width="13" stroke-linecap="round" opacity=".4" filter="url(#bl8)"/>
<path d="M505 990 L530 1022" fill="none" stroke="#2a93ad" stroke-width="14" opacity=".6" filter="url(#bl5)"/>
<polygon points="490,989 511.6,1012.6 534,1038.2 555.3,1059.5 566,1063 576.6,1058.8 587.2,1070.2 605,1082.6 615.7,1083.7 626.3,1079 647.6,1086.2 661.8,1080.9 676,1095 697.4,1105.7 718.7,1116.4 740,1125.3 761.3,1130.6 779,1132.4 787.3,1128.8 815,1139 830,1144 830,1234 490,1234" fill="#8aa548" opacity=".6" filter="url(#bl8)"/>
<polygon points="490,995 511.6,1018.6 534,1044.2 555.3,1065.5 566,1069 576.6,1064.8 587.2,1076.2 605,1088.6 615.7,1089.7 626.3,1085 647.6,1092.2 661.8,1086.9 676,1101 697.4,1111.7 718.7,1122.4 740,1131.3 761.3,1136.6 779,1138.4 787.3,1134.8 815,1145 830,1150 830,1240 490,1240" fill="#f0cb33" filter="url(#gY)"/>
<path d="M520 1060 L600 1115 L700 1145 L800 1180 L800 1260 L560 1260 L520 1150 Z" fill="#fff9d8" opacity=".25" filter="url(#bl14)"/>
<path d="M535 1075 L600 1108 L690 1128 L770 1160" fill="none" stroke="#fffce8" stroke-width="36" stroke-linecap="round" opacity=".62" filter="url(#bl8)"/>
</g>
<polyline points="511.6,994.8 530.4,1010.8 558.8,1041 576.6,1044.5 594.4,1043.5 612,1048 629.9,1060.5 654.7,1059.8 669,1065.9 679.6,1062.3 700.9,1078.3 718.7,1092.5 736.5,1106.7 754.2,1105 772,1112 787.3,1115.6" fill="none" stroke="#c9222a" stroke-width="1.5" stroke-dasharray="5.5 3.2" stroke-linejoin="round"/>
<polyline points="511.6,1013.6 534,1039.2 555.3,1060.5 566,1064 576.6,1059.8 587.2,1071.2 605,1083.6 615.7,1084.7 626.3,1080 647.6,1087.2 661.8,1081.9 676,1096 697.4,1106.7 718.7,1117.4 740,1126.3 761.3,1131.6 779,1133.4 787.3,1129.8" fill="none" stroke="#c9222a" stroke-width="1.5" stroke-dasharray="5.5 3.2" stroke-linejoin="round"/>
<text x="801.3" y="928.3" font-size="18.5" text-anchor="end" fill="#fff" >HS-NCM</text>
<text x="686.7" y="970" font-size="18.5" fill="#fff" >Layered</text>
<text x="715" y="1075.5" font-size="18.7" fill="#fff" >Rock-salt</text>
<line x1="757" y1="1083.7" x2="722.5" y2="1098" stroke="#fff" stroke-width="1.5" />
<polygon points="717,1100.3 722.4,1094.9 724.6,1100.3" fill="#fff" />
<rect x="554.2" y="965.3" width="40.3" height="40.9" fill="none" stroke="#a9b5de" stroke-width="2" stroke-dasharray="8.6 5.1"/>
<text x="574.8" y="991" font-size="20" text-anchor="middle" fill="#a9b5de" style="font-family:'Liberation Serif', serif" stroke="#a9b5de" stroke-width="1" letter-spacing=".8">I</text>
<rect x="593.7" y="1031.4" width="40.5" height="40.5" fill="none" stroke="#a9b5de" stroke-width="2" stroke-dasharray="8.6 5.1"/>
<text x="614.4" y="1056.9" font-size="20" text-anchor="middle" fill="#a9b5de" style="font-family:'Liberation Serif', serif" stroke="#a9b5de" stroke-width="1" letter-spacing=".8">II</text>
<line x1="517" y1="1195.7" x2="616.7" y2="1195.7" stroke="#000" stroke-width="2.2" />
<rect x="808.8" y="909.6" width="141" height="141" fill="#000"/>
<circle cx="880" cy="981.3" r="26" fill="url(#gfft)" opacity="0.5"/>
<mask id="mk1718" maskUnits="userSpaceOnUse" x="808.8" y="909.6" width="141" height="141"><circle cx="880" cy="981.3" r="30" fill="url(#gfm)"/></mask>
<g mask="url(#mk1718)"><rect x="845" y="946.3" width="70" height="70" filter="url(#nfft)" opacity="0.5"/></g>
<line x1="880" y1="959.3" x2="880" y2="1007.3" stroke="#8a8a8a" stroke-width="0.6" opacity=".55"/>
<g fill="#fff">
<circle cx="871" cy="981.3" r="0.9" opacity="0.7"/>
<circle cx="875" cy="980.3" r="1" opacity="0.85"/>
<circle cx="880" cy="981.3" r="1.8" opacity="1"/>
<circle cx="885" cy="981.3" r="1" opacity="0.9"/>
<circle cx="886.6" cy="981.9" r="1.4" opacity="0.9"/>
<circle cx="892" cy="982.3" r="0.7" opacity="0.5"/>
<circle cx="897" cy="984.3" r="0.7" opacity="0.45"/>
<circle cx="878.2" cy="965.3" r="0.7" opacity="0.6"/>
<circle cx="886" cy="967.3" r="0.7" opacity="0.6"/>
<circle cx="866" cy="978.3" r="0.6" opacity="0.4"/>
<circle cx="861" cy="977.3" r="0.6" opacity="0.35"/>
<circle cx="890" cy="968.3" r="0.5" opacity="0.3"/>
<circle cx="874" cy="993.3" r="0.6" opacity="0.4"/>
<circle cx="882" cy="995.3" r="0.6" opacity="0.4"/>
<circle cx="867" cy="991.3" r="0.5" opacity="0.3"/>
<circle cx="894" cy="989.3" r="0.5" opacity="0.3"/>
<circle cx="877" cy="974.3" r="0.5" opacity="0.4"/>
<circle cx="883" cy="988.3" r="0.5" opacity="0.4"/>
<circle cx="870" cy="972.3" r="0.5" opacity="0.3"/>
<circle cx="889" cy="992.3" r="0.5" opacity="0.25"/>
<circle cx="858" cy="984.3" r="0.5" opacity="0.25"/>
<circle cx="900" cy="975.3" r="0.5" opacity="0.25"/>
<circle cx="880" cy="977.3" r="0.6" opacity="0.5"/>
<circle cx="880" cy="985.3" r="0.6" opacity="0.5"/>
</g>
<circle cx="878.2" cy="965.2" r="3.3" fill="none" stroke="#d8d8d8" stroke-width=".7"/>
<circle cx="886" cy="967.2" r="3.3" fill="none" stroke="#d8d8d8" stroke-width=".7"/>
<circle cx="886.6" cy="981.9" r="3.3" fill="none" stroke="#d8d8d8" stroke-width=".7"/>
<text x="811.6" y="926.4" font-size="20" fill="#a9b5de" style="font-family:'Liberation Serif', serif" stroke="#a9b5de" stroke-width="1" letter-spacing=".8">I</text>
<text x="843.6" y="958.8" font-size="14.6" fill="#fff" >(101)</text>
<text x="889.2" y="961.3" font-size="14.6" fill="#fff" >(104)</text>
<text x="884.6" y="1006.6" font-size="14.6" fill="#fff" >(003)</text>
<text x="946.3" y="1045.2" font-size="16.3" text-anchor="end" fill="#fff" >Layered</text>
<line x1="813.4" y1="1048" x2="851.8" y2="1048" stroke="#fff" stroke-width="1.9" />
<rect x="808.8" y="1059.2" width="141" height="141.3" fill="#000"/>
<circle cx="880" cy="1128.8" r="26" fill="url(#gfft)" opacity="0.4"/>
<mask id="mk1868" maskUnits="userSpaceOnUse" x="808.8" y="1059.2" width="141" height="141.3"><circle cx="880" cy="1128.8" r="30" fill="url(#gfm)"/></mask>
<g mask="url(#mk1868)"><rect x="845" y="1093.8" width="70" height="70" filter="url(#nfft)" opacity="0.4"/></g>
<line x1="880" y1="1106.8" x2="880" y2="1154.8" stroke="#8a8a8a" stroke-width="0.6" opacity=".55"/>
<g fill="#fff">
<circle cx="880" cy="1128.8" r="2" opacity="1"/>
<circle cx="876" cy="1128.8" r="1" opacity="0.8"/>
<circle cx="884" cy="1128.8" r="1" opacity="0.85"/>
<circle cx="872" cy="1127.8" r="0.8" opacity="0.6"/>
<circle cx="888" cy="1129.8" r="0.7" opacity="0.5"/>
<circle cx="865.5" cy="1126.8" r="1.1" opacity="0.8"/>
<circle cx="894.3" cy="1133.1" r="0.8" opacity="0.7"/>
<circle cx="891.8" cy="1119.1" r="0.7" opacity="0.55"/>
<circle cx="868" cy="1138.8" r="0.7" opacity="0.5"/>
<circle cx="877" cy="1114.8" r="0.6" opacity="0.4"/>
<circle cx="883" cy="1142.8" r="0.6" opacity="0.35"/>
<circle cx="880" cy="1123.8" r="0.6" opacity="0.5"/>
<circle cx="880" cy="1133.8" r="0.6" opacity="0.5"/>
<circle cx="874" cy="1134.8" r="0.5" opacity="0.4"/>
<circle cx="886" cy="1122.8" r="0.5" opacity="0.4"/>
<circle cx="861" cy="1125.8" r="0.5" opacity="0.3"/>
<circle cx="880" cy="1137.8" r="0.5" opacity="0.3"/>
<circle cx="880" cy="1119.8" r="0.5" opacity="0.3"/>
</g>
<circle cx="891.8" cy="1119.1" r="3.3" fill="none" stroke="#d8d8d8" stroke-width=".7"/>
<circle cx="894.4" cy="1133.2" r="3.3" fill="none" stroke="#d8d8d8" stroke-width=".7"/>
<text x="811.6" y="1076" font-size="20" fill="#a9b5de" style="font-family:'Liberation Serif', serif" stroke="#a9b5de" stroke-width="1" letter-spacing=".8">II</text>
<text x="873.6" y="1110" font-size="14.6" fill="#fff" >(020)</text>
<text x="880" y="1154.5" font-size="14.6" fill="#fff" >(1-1-1)</text>
<text x="946.3" y="1195.1" font-size="16.3" text-anchor="end" fill="#fff" >Rock-salt</text>
<line x1="813.4" y1="1195" x2="851.8" y2="1195" stroke="#fff" stroke-width="1.9" />
</g>
</svg></body></html>
